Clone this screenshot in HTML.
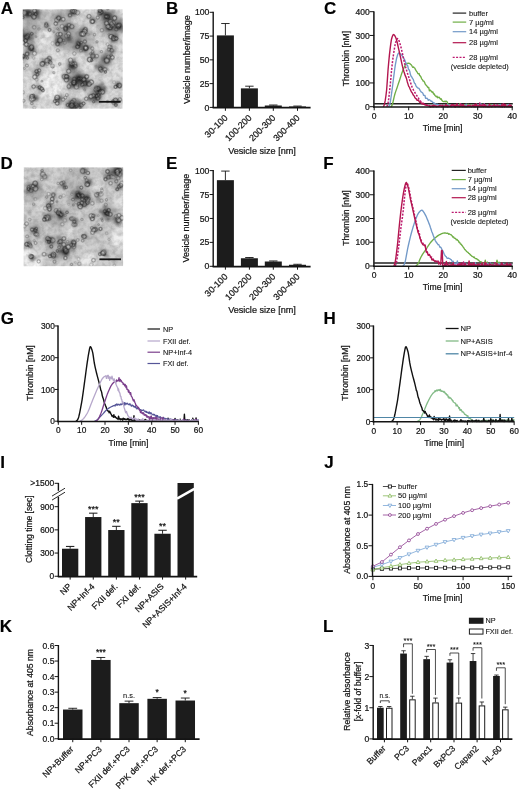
<!DOCTYPE html>
<html><head><meta charset="utf-8"><title>Figure</title>
<style>
html,body{margin:0;padding:0;background:#fff;}
body{width:520px;height:791px;overflow:hidden;font-family:"Liberation Sans",sans-serif;}
svg{display:block;font-family:"Liberation Sans",sans-serif;}
</style></head><body>
<svg width="520" height="791" viewBox="0 0 520 791">
<defs>
<filter id="b2" x="-20%" y="-20%" width="140%" height="140%"><feGaussianBlur stdDeviation="2.2"/></filter>
<filter id="b1" x="-20%" y="-20%" width="140%" height="140%"><feGaussianBlur stdDeviation="1.1"/></filter>
<filter id="b0" x="-20%" y="-20%" width="140%" height="140%"><feGaussianBlur stdDeviation="0.8"/></filter>
<filter id="mott" x="0" y="0" width="100%" height="100%"><feTurbulence type="fractalNoise" baseFrequency="0.22" numOctaves="3" seed="5" result="n"/><feColorMatrix in="n" type="matrix" values="0 0 0 0 0.1  0 0 0 0 0.1  0 0 0 0 0.1  1.6 0 0 0 -0.55"/></filter>
<filter id="bt" x="-5%" y="-5%" width="110%" height="110%"><feGaussianBlur stdDeviation="0.3"/></filter>
<clipPath id="clipA"><rect x="22.8" y="9.3" width="100" height="99.4"/></clipPath>
<clipPath id="clipD"><rect x="23.6" y="167.3" width="99.6" height="99"/></clipPath>
</defs>
<rect width="520" height="791" fill="#fff"/>
<g opacity="0.999">
<text x="0.83" y="13.60" font-size="17" text-anchor="start" font-weight="bold" fill="#000" stroke="#000" stroke-width="0.15">A</text>
<text x="166.08" y="13.60" font-size="17" text-anchor="start" font-weight="bold" fill="#000" stroke="#000" stroke-width="0.15">B</text>
<text x="324.00" y="13.70" font-size="17" text-anchor="start" font-weight="bold" fill="#000" stroke="#000" stroke-width="0.15">C</text>
<text x="0.41" y="168.80" font-size="17" text-anchor="start" font-weight="bold" fill="#000" stroke="#000" stroke-width="0.15">D</text>
<text x="166.05" y="168.80" font-size="17" text-anchor="start" font-weight="bold" fill="#000" stroke="#000" stroke-width="0.15">E</text>
<text x="323.36" y="169.00" font-size="17" text-anchor="start" font-weight="bold" fill="#000" stroke="#000" stroke-width="0.15">F</text>
<text x="0.80" y="324.00" font-size="17" text-anchor="start" font-weight="bold" fill="#000" stroke="#000" stroke-width="0.15">G</text>
<text x="323.55" y="323.80" font-size="17" text-anchor="start" font-weight="bold" fill="#000" stroke="#000" stroke-width="0.15">H</text>
<text x="0.23" y="468.00" font-size="17" text-anchor="start" font-weight="bold" fill="#000" stroke="#000" stroke-width="0.15">I</text>
<text x="324.25" y="468.10" font-size="17" text-anchor="start" font-weight="bold" fill="#000" stroke="#000" stroke-width="0.15">J</text>
<text x="-0.20" y="632.10" font-size="17" text-anchor="start" font-weight="bold" fill="#000" stroke="#000" stroke-width="0.15">K</text>
<text x="323.10" y="632.10" font-size="17" text-anchor="start" font-weight="bold" fill="#000" stroke="#000" stroke-width="0.15">L</text>
<g clip-path="url(#clipA)">
<rect x="22.80" y="9.30" width="100.00" height="99.40" fill="#dddddd"/>
<g filter="url(#b2)">
<circle cx="27.8" cy="13.3" r="7.0" fill="#333" fill-opacity="0.40"/>
<circle cx="36.8" cy="13.3" r="6.0" fill="#333" fill-opacity="0.30"/>
<circle cx="26.8" cy="37.1" r="6.4" fill="#333" fill-opacity="0.40"/>
<circle cx="30.8" cy="48.1" r="6.0" fill="#333" fill-opacity="0.33"/>
<circle cx="25.8" cy="56.0" r="4.4" fill="#333" fill-opacity="0.23"/>
<circle cx="58.8" cy="18.2" r="5.2" fill="#333" fill-opacity="0.25"/>
<circle cx="67.8" cy="27.2" r="5.2" fill="#333" fill-opacity="0.25"/>
<circle cx="58.8" cy="40.1" r="5.6" fill="#333" fill-opacity="0.28"/>
<circle cx="67.8" cy="39.1" r="4.8" fill="#333" fill-opacity="0.23"/>
<circle cx="78.8" cy="44.1" r="5.6" fill="#333" fill-opacity="0.30"/>
<circle cx="85.8" cy="48.1" r="4.8" fill="#333" fill-opacity="0.28"/>
<circle cx="72.8" cy="12.3" r="6.0" fill="#333" fill-opacity="0.25"/>
<circle cx="84.8" cy="31.2" r="4.4" fill="#333" fill-opacity="0.20"/>
<circle cx="92.8" cy="19.2" r="4.4" fill="#333" fill-opacity="0.17"/>
<circle cx="107.8" cy="16.3" r="7.0" fill="#333" fill-opacity="0.38"/>
<circle cx="118.8" cy="26.2" r="6.0" fill="#333" fill-opacity="0.40"/>
<circle cx="109.8" cy="27.2" r="5.6" fill="#333" fill-opacity="0.30"/>
<circle cx="114.8" cy="38.1" r="5.2" fill="#333" fill-opacity="0.28"/>
<circle cx="100.8" cy="12.3" r="4.8" fill="#333" fill-opacity="0.25"/>
<circle cx="106.8" cy="60.0" r="6.0" fill="#333" fill-opacity="0.38"/>
<circle cx="100.8" cy="67.9" r="5.2" fill="#333" fill-opacity="0.30"/>
<circle cx="92.8" cy="56.0" r="4.0" fill="#333" fill-opacity="0.23"/>
<circle cx="110.8" cy="51.0" r="4.4" fill="#333" fill-opacity="0.20"/>
<circle cx="71.8" cy="66.0" r="6.0" fill="#333" fill-opacity="0.40"/>
<circle cx="78.8" cy="78.9" r="7.2" fill="#333" fill-opacity="0.47"/>
<circle cx="73.8" cy="83.9" r="5.6" fill="#333" fill-opacity="0.35"/>
<circle cx="85.8" cy="82.9" r="5.6" fill="#333" fill-opacity="0.38"/>
<circle cx="66.8" cy="76.9" r="4.4" fill="#333" fill-opacity="0.25"/>
<circle cx="98.8" cy="89.8" r="6.4" fill="#333" fill-opacity="0.47"/>
<circle cx="96.8" cy="96.8" r="5.2" fill="#333" fill-opacity="0.35"/>
<circle cx="90.8" cy="98.8" r="4.0" fill="#333" fill-opacity="0.23"/>
<circle cx="36.8" cy="72.9" r="4.8" fill="#333" fill-opacity="0.25"/>
<circle cx="38.8" cy="87.8" r="4.4" fill="#333" fill-opacity="0.25"/>
<circle cx="34.8" cy="97.8" r="4.4" fill="#333" fill-opacity="0.25"/>
<circle cx="42.8" cy="64.0" r="4.0" fill="#333" fill-opacity="0.17"/>
<circle cx="58.8" cy="98.8" r="4.8" fill="#333" fill-opacity="0.25"/>
<circle cx="71.8" cy="104.7" r="6.4" fill="#333" fill-opacity="0.40"/>
<circle cx="78.8" cy="105.7" r="5.2" fill="#333" fill-opacity="0.30"/>
<circle cx="47.8" cy="60.0" r="4.0" fill="#333" fill-opacity="0.20"/>
<circle cx="117.8" cy="83.9" r="4.4" fill="#333" fill-opacity="0.20"/>
<circle cx="115.8" cy="101.7" r="4.4" fill="#333" fill-opacity="0.20"/>
<circle cx="47.8" cy="26.2" r="4.0" fill="#333" fill-opacity="0.15"/>
<circle cx="67.8" cy="37.1" r="15.0" fill="#444" fill-opacity="0.28"/>
<circle cx="84.8" cy="39.1" r="11.0" fill="#444" fill-opacity="0.22"/>
<circle cx="110.8" cy="24.2" r="13.0" fill="#444" fill-opacity="0.3"/>
<circle cx="30.8" cy="29.2" r="11.0" fill="#444" fill-opacity="0.28"/>
<circle cx="47.8" cy="19.2" r="9.0" fill="#444" fill-opacity="0.15"/>
<circle cx="77.8" cy="78.9" r="10.0" fill="#444" fill-opacity="0.22"/>
<circle cx="102.8" cy="59.0" r="8.0" fill="#444" fill-opacity="0.2"/>
<circle cx="62.8" cy="14.3" r="10.0" fill="#444" fill-opacity="0.18"/>
<circle cx="94.8" cy="93.8" r="7.0" fill="#444" fill-opacity="0.2"/>
<circle cx="72.8" cy="105.7" r="8.0" fill="#444" fill-opacity="0.2"/>
<circle cx="49.8" cy="84.8" r="13.0" fill="#fff" fill-opacity="0.65"/>
<circle cx="55.8" cy="68.9" r="7.0" fill="#fff" fill-opacity="0.4"/>
<circle cx="44.8" cy="37.1" r="7.0" fill="#fff" fill-opacity="0.4"/>
<circle cx="87.8" cy="68.9" r="5.0" fill="#fff" fill-opacity="0.4"/>
<circle cx="57.8" cy="54.0" r="5.0" fill="#fff" fill-opacity="0.3"/>
<circle cx="115.8" cy="70.9" r="5.0" fill="#fff" fill-opacity="0.3"/>
</g>
<g filter="url(#b1)">
<circle cx="27.8" cy="13.3" r="3.5" fill="#161616" fill-opacity="0.72"/>
<circle cx="26.6" cy="15.6" r="1.6" fill="#1c1c1c" fill-opacity="0.28"/>
<circle cx="24.0" cy="12.4" r="1.0" fill="#1c1c1c" fill-opacity="0.38"/>
<circle cx="32.0" cy="14.3" r="1.0" fill="#1c1c1c" fill-opacity="0.28"/>
<circle cx="21.9" cy="16.3" r="1.0" fill="#1c1c1c" fill-opacity="0.31"/>
<circle cx="22.7" cy="8.0" r="1.5" fill="#1c1c1c" fill-opacity="0.36"/>
<circle cx="29.8" cy="13.0" r="1.8" fill="#1c1c1c" fill-opacity="0.33"/>
<circle cx="29.3" cy="15.2" r="1.2" fill="#1c1c1c" fill-opacity="0.46"/>
<circle cx="36.8" cy="13.3" r="3.0" fill="#161616" fill-opacity="0.54"/>
<circle cx="38.7" cy="17.3" r="1.5" fill="#1c1c1c" fill-opacity="0.29"/>
<circle cx="35.1" cy="12.7" r="1.0" fill="#1c1c1c" fill-opacity="0.26"/>
<circle cx="35.2" cy="9.9" r="1.2" fill="#1c1c1c" fill-opacity="0.33"/>
<circle cx="33.9" cy="14.2" r="1.7" fill="#1c1c1c" fill-opacity="0.35"/>
<circle cx="37.0" cy="17.7" r="1.4" fill="#1c1c1c" fill-opacity="0.38"/>
<circle cx="36.4" cy="10.3" r="1.9" fill="#1c1c1c" fill-opacity="0.24"/>
<circle cx="26.8" cy="37.1" r="3.2" fill="#161616" fill-opacity="0.72"/>
<circle cx="21.8" cy="39.9" r="1.1" fill="#1c1c1c" fill-opacity="0.38"/>
<circle cx="31.9" cy="38.4" r="1.7" fill="#1c1c1c" fill-opacity="0.40"/>
<circle cx="29.1" cy="34.8" r="1.6" fill="#1c1c1c" fill-opacity="0.40"/>
<circle cx="23.2" cy="35.2" r="1.7" fill="#1c1c1c" fill-opacity="0.49"/>
<circle cx="21.7" cy="38.0" r="1.0" fill="#1c1c1c" fill-opacity="0.43"/>
<circle cx="22.6" cy="31.5" r="1.7" fill="#1c1c1c" fill-opacity="0.33"/>
<circle cx="22.9" cy="40.6" r="0.9" fill="#1c1c1c" fill-opacity="0.37"/>
<circle cx="30.8" cy="48.1" r="3.0" fill="#161616" fill-opacity="0.59"/>
<circle cx="31.8" cy="49.9" r="1.0" fill="#1c1c1c" fill-opacity="0.38"/>
<circle cx="32.7" cy="50.1" r="1.3" fill="#1c1c1c" fill-opacity="0.40"/>
<circle cx="34.1" cy="49.9" r="1.4" fill="#1c1c1c" fill-opacity="0.40"/>
<circle cx="33.3" cy="42.7" r="1.2" fill="#1c1c1c" fill-opacity="0.31"/>
<circle cx="27.0" cy="52.7" r="1.9" fill="#1c1c1c" fill-opacity="0.26"/>
<circle cx="32.0" cy="50.5" r="1.1" fill="#1c1c1c" fill-opacity="0.32"/>
<circle cx="25.8" cy="56.0" r="2.2" fill="#161616" fill-opacity="0.41"/>
<circle cx="24.0" cy="54.9" r="0.9" fill="#1c1c1c" fill-opacity="0.25"/>
<circle cx="23.6" cy="58.4" r="1.9" fill="#1c1c1c" fill-opacity="0.28"/>
<circle cx="22.4" cy="55.7" r="1.6" fill="#1c1c1c" fill-opacity="0.20"/>
<circle cx="29.0" cy="53.6" r="1.8" fill="#1c1c1c" fill-opacity="0.30"/>
<circle cx="23.8" cy="57.6" r="1.0" fill="#1c1c1c" fill-opacity="0.28"/>
<circle cx="58.8" cy="18.2" r="2.6" fill="#161616" fill-opacity="0.45"/>
<circle cx="60.3" cy="18.9" r="1.1" fill="#1c1c1c" fill-opacity="0.22"/>
<circle cx="58.0" cy="19.5" r="0.9" fill="#1c1c1c" fill-opacity="0.22"/>
<circle cx="61.1" cy="20.0" r="0.9" fill="#1c1c1c" fill-opacity="0.33"/>
<circle cx="57.3" cy="17.0" r="1.2" fill="#1c1c1c" fill-opacity="0.25"/>
<circle cx="57.6" cy="19.6" r="1.7" fill="#1c1c1c" fill-opacity="0.35"/>
<circle cx="67.8" cy="27.2" r="2.6" fill="#161616" fill-opacity="0.45"/>
<circle cx="64.4" cy="27.9" r="1.0" fill="#1c1c1c" fill-opacity="0.22"/>
<circle cx="66.4" cy="29.3" r="1.7" fill="#1c1c1c" fill-opacity="0.22"/>
<circle cx="73.2" cy="28.0" r="1.4" fill="#1c1c1c" fill-opacity="0.22"/>
<circle cx="66.4" cy="26.8" r="1.4" fill="#1c1c1c" fill-opacity="0.35"/>
<circle cx="70.7" cy="23.9" r="1.2" fill="#1c1c1c" fill-opacity="0.26"/>
<circle cx="58.8" cy="40.1" r="2.8" fill="#161616" fill-opacity="0.50"/>
<circle cx="61.3" cy="44.5" r="1.4" fill="#1c1c1c" fill-opacity="0.34"/>
<circle cx="57.6" cy="42.3" r="1.7" fill="#1c1c1c" fill-opacity="0.37"/>
<circle cx="61.9" cy="35.9" r="1.7" fill="#1c1c1c" fill-opacity="0.33"/>
<circle cx="59.4" cy="43.9" r="1.3" fill="#1c1c1c" fill-opacity="0.21"/>
<circle cx="61.5" cy="40.6" r="1.2" fill="#1c1c1c" fill-opacity="0.32"/>
<circle cx="67.8" cy="39.1" r="2.4" fill="#161616" fill-opacity="0.41"/>
<circle cx="70.7" cy="38.3" r="1.8" fill="#1c1c1c" fill-opacity="0.32"/>
<circle cx="70.4" cy="38.4" r="1.1" fill="#1c1c1c" fill-opacity="0.22"/>
<circle cx="68.5" cy="41.0" r="1.5" fill="#1c1c1c" fill-opacity="0.31"/>
<circle cx="69.5" cy="36.5" r="1.6" fill="#1c1c1c" fill-opacity="0.30"/>
<circle cx="71.2" cy="41.1" r="1.8" fill="#1c1c1c" fill-opacity="0.30"/>
<circle cx="78.8" cy="44.1" r="2.8" fill="#161616" fill-opacity="0.54"/>
<circle cx="78.8" cy="40.4" r="1.1" fill="#1c1c1c" fill-opacity="0.36"/>
<circle cx="76.2" cy="48.6" r="1.9" fill="#1c1c1c" fill-opacity="0.29"/>
<circle cx="74.0" cy="47.5" r="1.6" fill="#1c1c1c" fill-opacity="0.25"/>
<circle cx="80.3" cy="45.6" r="1.8" fill="#1c1c1c" fill-opacity="0.37"/>
<circle cx="82.0" cy="48.3" r="1.9" fill="#1c1c1c" fill-opacity="0.34"/>
<circle cx="76.4" cy="47.3" r="1.0" fill="#1c1c1c" fill-opacity="0.22"/>
<circle cx="85.8" cy="48.1" r="2.4" fill="#161616" fill-opacity="0.50"/>
<circle cx="89.6" cy="47.4" r="1.4" fill="#1c1c1c" fill-opacity="0.36"/>
<circle cx="81.4" cy="50.0" r="1.7" fill="#1c1c1c" fill-opacity="0.24"/>
<circle cx="85.8" cy="50.5" r="1.1" fill="#1c1c1c" fill-opacity="0.31"/>
<circle cx="85.6" cy="51.0" r="1.0" fill="#1c1c1c" fill-opacity="0.36"/>
<circle cx="83.9" cy="50.5" r="1.5" fill="#1c1c1c" fill-opacity="0.36"/>
<circle cx="72.8" cy="12.3" r="3.0" fill="#161616" fill-opacity="0.45"/>
<circle cx="67.4" cy="15.2" r="1.4" fill="#1c1c1c" fill-opacity="0.28"/>
<circle cx="71.2" cy="12.0" r="1.3" fill="#1c1c1c" fill-opacity="0.23"/>
<circle cx="78.4" cy="12.4" r="1.1" fill="#1c1c1c" fill-opacity="0.27"/>
<circle cx="72.1" cy="8.0" r="1.2" fill="#1c1c1c" fill-opacity="0.28"/>
<circle cx="67.6" cy="10.4" r="1.0" fill="#1c1c1c" fill-opacity="0.28"/>
<circle cx="84.8" cy="31.2" r="2.2" fill="#161616" fill-opacity="0.36"/>
<circle cx="84.8" cy="33.3" r="1.7" fill="#1c1c1c" fill-opacity="0.24"/>
<circle cx="81.2" cy="29.7" r="1.8" fill="#1c1c1c" fill-opacity="0.23"/>
<circle cx="82.5" cy="29.2" r="1.4" fill="#1c1c1c" fill-opacity="0.26"/>
<circle cx="81.8" cy="32.1" r="1.4" fill="#1c1c1c" fill-opacity="0.29"/>
<circle cx="83.4" cy="27.0" r="1.8" fill="#1c1c1c" fill-opacity="0.21"/>
<circle cx="92.8" cy="19.2" r="2.2" fill="#161616" fill-opacity="0.32"/>
<circle cx="88.5" cy="17.5" r="1.7" fill="#1c1c1c" fill-opacity="0.18"/>
<circle cx="94.8" cy="21.1" r="1.0" fill="#1c1c1c" fill-opacity="0.20"/>
<circle cx="96.0" cy="20.8" r="1.7" fill="#1c1c1c" fill-opacity="0.26"/>
<circle cx="94.9" cy="22.4" r="1.6" fill="#1c1c1c" fill-opacity="0.19"/>
<circle cx="107.8" cy="16.3" r="3.5" fill="#161616" fill-opacity="0.68"/>
<circle cx="113.4" cy="11.2" r="1.1" fill="#1c1c1c" fill-opacity="0.46"/>
<circle cx="104.1" cy="19.0" r="1.9" fill="#1c1c1c" fill-opacity="0.44"/>
<circle cx="110.1" cy="19.9" r="1.4" fill="#1c1c1c" fill-opacity="0.33"/>
<circle cx="109.0" cy="19.7" r="1.6" fill="#1c1c1c" fill-opacity="0.25"/>
<circle cx="103.7" cy="14.8" r="0.9" fill="#1c1c1c" fill-opacity="0.32"/>
<circle cx="104.4" cy="12.9" r="1.0" fill="#1c1c1c" fill-opacity="0.47"/>
<circle cx="118.8" cy="26.2" r="3.0" fill="#161616" fill-opacity="0.72"/>
<circle cx="120.3" cy="19.9" r="1.0" fill="#1c1c1c" fill-opacity="0.32"/>
<circle cx="124.1" cy="27.5" r="1.2" fill="#1c1c1c" fill-opacity="0.29"/>
<circle cx="113.4" cy="29.1" r="1.7" fill="#1c1c1c" fill-opacity="0.32"/>
<circle cx="122.5" cy="31.2" r="1.5" fill="#1c1c1c" fill-opacity="0.43"/>
<circle cx="120.3" cy="27.2" r="1.6" fill="#1c1c1c" fill-opacity="0.36"/>
<circle cx="124.4" cy="29.0" r="1.5" fill="#1c1c1c" fill-opacity="0.45"/>
<circle cx="123.9" cy="29.1" r="1.0" fill="#1c1c1c" fill-opacity="0.47"/>
<circle cx="109.8" cy="27.2" r="2.8" fill="#161616" fill-opacity="0.54"/>
<circle cx="106.9" cy="28.1" r="1.5" fill="#1c1c1c" fill-opacity="0.39"/>
<circle cx="109.6" cy="29.2" r="1.4" fill="#1c1c1c" fill-opacity="0.26"/>
<circle cx="111.5" cy="28.6" r="1.0" fill="#1c1c1c" fill-opacity="0.26"/>
<circle cx="108.7" cy="29.8" r="1.7" fill="#1c1c1c" fill-opacity="0.27"/>
<circle cx="107.6" cy="27.2" r="1.2" fill="#1c1c1c" fill-opacity="0.22"/>
<circle cx="109.8" cy="28.7" r="1.6" fill="#1c1c1c" fill-opacity="0.32"/>
<circle cx="114.8" cy="38.1" r="2.6" fill="#161616" fill-opacity="0.50"/>
<circle cx="116.1" cy="41.3" r="1.8" fill="#1c1c1c" fill-opacity="0.23"/>
<circle cx="116.1" cy="35.2" r="1.4" fill="#1c1c1c" fill-opacity="0.35"/>
<circle cx="112.0" cy="40.3" r="1.6" fill="#1c1c1c" fill-opacity="0.37"/>
<circle cx="112.1" cy="42.3" r="1.6" fill="#1c1c1c" fill-opacity="0.31"/>
<circle cx="112.5" cy="39.7" r="1.0" fill="#1c1c1c" fill-opacity="0.23"/>
<circle cx="100.8" cy="12.3" r="2.4" fill="#161616" fill-opacity="0.45"/>
<circle cx="104.6" cy="14.1" r="1.2" fill="#1c1c1c" fill-opacity="0.22"/>
<circle cx="104.8" cy="14.6" r="1.8" fill="#1c1c1c" fill-opacity="0.30"/>
<circle cx="100.4" cy="14.4" r="1.2" fill="#1c1c1c" fill-opacity="0.27"/>
<circle cx="102.5" cy="14.8" r="1.2" fill="#1c1c1c" fill-opacity="0.34"/>
<circle cx="104.2" cy="11.7" r="1.1" fill="#1c1c1c" fill-opacity="0.34"/>
<circle cx="106.8" cy="60.0" r="3.0" fill="#161616" fill-opacity="0.68"/>
<circle cx="105.6" cy="63.1" r="0.9" fill="#1c1c1c" fill-opacity="0.34"/>
<circle cx="102.8" cy="60.6" r="1.1" fill="#1c1c1c" fill-opacity="0.36"/>
<circle cx="109.6" cy="60.1" r="1.0" fill="#1c1c1c" fill-opacity="0.34"/>
<circle cx="108.4" cy="60.4" r="1.2" fill="#1c1c1c" fill-opacity="0.30"/>
<circle cx="103.2" cy="57.8" r="1.7" fill="#1c1c1c" fill-opacity="0.40"/>
<circle cx="105.5" cy="54.1" r="1.3" fill="#1c1c1c" fill-opacity="0.32"/>
<circle cx="100.8" cy="67.9" r="2.6" fill="#161616" fill-opacity="0.54"/>
<circle cx="102.8" cy="67.8" r="1.6" fill="#1c1c1c" fill-opacity="0.34"/>
<circle cx="105.6" cy="69.3" r="1.8" fill="#1c1c1c" fill-opacity="0.33"/>
<circle cx="100.3" cy="63.1" r="1.0" fill="#1c1c1c" fill-opacity="0.31"/>
<circle cx="95.8" cy="67.8" r="1.7" fill="#1c1c1c" fill-opacity="0.37"/>
<circle cx="96.3" cy="65.3" r="1.6" fill="#1c1c1c" fill-opacity="0.34"/>
<circle cx="101.0" cy="69.4" r="1.0" fill="#1c1c1c" fill-opacity="0.28"/>
<circle cx="92.8" cy="56.0" r="2.0" fill="#161616" fill-opacity="0.41"/>
<circle cx="95.8" cy="58.4" r="1.5" fill="#1c1c1c" fill-opacity="0.27"/>
<circle cx="90.5" cy="53.7" r="1.4" fill="#1c1c1c" fill-opacity="0.19"/>
<circle cx="93.8" cy="52.6" r="1.4" fill="#1c1c1c" fill-opacity="0.26"/>
<circle cx="92.1" cy="55.0" r="1.6" fill="#1c1c1c" fill-opacity="0.22"/>
<circle cx="94.5" cy="56.9" r="1.6" fill="#1c1c1c" fill-opacity="0.22"/>
<circle cx="110.8" cy="51.0" r="2.2" fill="#161616" fill-opacity="0.36"/>
<circle cx="110.5" cy="46.3" r="1.4" fill="#1c1c1c" fill-opacity="0.23"/>
<circle cx="107.2" cy="51.5" r="1.7" fill="#1c1c1c" fill-opacity="0.25"/>
<circle cx="109.9" cy="50.0" r="1.0" fill="#1c1c1c" fill-opacity="0.21"/>
<circle cx="110.7" cy="48.8" r="1.5" fill="#1c1c1c" fill-opacity="0.18"/>
<circle cx="112.8" cy="51.8" r="1.6" fill="#1c1c1c" fill-opacity="0.26"/>
<circle cx="71.8" cy="66.0" r="3.0" fill="#161616" fill-opacity="0.72"/>
<circle cx="70.5" cy="63.3" r="1.4" fill="#1c1c1c" fill-opacity="0.37"/>
<circle cx="69.7" cy="66.4" r="1.8" fill="#1c1c1c" fill-opacity="0.31"/>
<circle cx="78.0" cy="65.1" r="0.9" fill="#1c1c1c" fill-opacity="0.37"/>
<circle cx="74.5" cy="60.1" r="1.3" fill="#1c1c1c" fill-opacity="0.32"/>
<circle cx="73.4" cy="72.1" r="1.1" fill="#1c1c1c" fill-opacity="0.40"/>
<circle cx="74.4" cy="69.2" r="1.9" fill="#1c1c1c" fill-opacity="0.29"/>
<circle cx="73.5" cy="62.3" r="1.8" fill="#1c1c1c" fill-opacity="0.43"/>
<circle cx="78.8" cy="78.9" r="3.6" fill="#161616" fill-opacity="0.85"/>
<circle cx="79.7" cy="86.1" r="1.4" fill="#1c1c1c" fill-opacity="0.30"/>
<circle cx="83.6" cy="79.0" r="1.4" fill="#1c1c1c" fill-opacity="0.38"/>
<circle cx="81.3" cy="81.9" r="1.2" fill="#1c1c1c" fill-opacity="0.53"/>
<circle cx="85.2" cy="78.9" r="1.7" fill="#1c1c1c" fill-opacity="0.32"/>
<circle cx="84.3" cy="76.1" r="1.8" fill="#1c1c1c" fill-opacity="0.37"/>
<circle cx="75.9" cy="81.9" r="1.9" fill="#1c1c1c" fill-opacity="0.46"/>
<circle cx="76.0" cy="82.3" r="1.2" fill="#1c1c1c" fill-opacity="0.30"/>
<circle cx="73.8" cy="83.9" r="2.8" fill="#161616" fill-opacity="0.63"/>
<circle cx="78.1" cy="87.1" r="1.2" fill="#1c1c1c" fill-opacity="0.44"/>
<circle cx="73.8" cy="86.5" r="1.4" fill="#1c1c1c" fill-opacity="0.28"/>
<circle cx="69.6" cy="88.1" r="1.8" fill="#1c1c1c" fill-opacity="0.41"/>
<circle cx="69.9" cy="79.6" r="1.8" fill="#1c1c1c" fill-opacity="0.36"/>
<circle cx="73.5" cy="82.2" r="1.6" fill="#1c1c1c" fill-opacity="0.33"/>
<circle cx="73.9" cy="79.4" r="1.2" fill="#1c1c1c" fill-opacity="0.25"/>
<circle cx="85.8" cy="82.9" r="2.8" fill="#161616" fill-opacity="0.68"/>
<circle cx="87.6" cy="82.0" r="1.4" fill="#1c1c1c" fill-opacity="0.33"/>
<circle cx="84.3" cy="87.6" r="1.9" fill="#1c1c1c" fill-opacity="0.31"/>
<circle cx="84.2" cy="80.5" r="1.5" fill="#1c1c1c" fill-opacity="0.34"/>
<circle cx="86.9" cy="84.7" r="1.1" fill="#1c1c1c" fill-opacity="0.45"/>
<circle cx="83.4" cy="82.9" r="1.8" fill="#1c1c1c" fill-opacity="0.47"/>
<circle cx="83.8" cy="83.5" r="1.1" fill="#1c1c1c" fill-opacity="0.27"/>
<circle cx="66.8" cy="76.9" r="2.2" fill="#161616" fill-opacity="0.45"/>
<circle cx="66.0" cy="78.1" r="1.1" fill="#1c1c1c" fill-opacity="0.24"/>
<circle cx="62.8" cy="75.0" r="1.6" fill="#1c1c1c" fill-opacity="0.26"/>
<circle cx="64.2" cy="78.5" r="1.3" fill="#1c1c1c" fill-opacity="0.25"/>
<circle cx="68.8" cy="77.7" r="1.9" fill="#1c1c1c" fill-opacity="0.22"/>
<circle cx="63.3" cy="76.8" r="1.8" fill="#1c1c1c" fill-opacity="0.23"/>
<circle cx="98.8" cy="89.8" r="3.2" fill="#161616" fill-opacity="0.85"/>
<circle cx="98.4" cy="92.7" r="1.3" fill="#1c1c1c" fill-opacity="0.42"/>
<circle cx="104.8" cy="88.0" r="1.8" fill="#1c1c1c" fill-opacity="0.30"/>
<circle cx="104.1" cy="90.9" r="1.8" fill="#1c1c1c" fill-opacity="0.42"/>
<circle cx="97.4" cy="89.0" r="1.3" fill="#1c1c1c" fill-opacity="0.55"/>
<circle cx="101.7" cy="84.3" r="1.9" fill="#1c1c1c" fill-opacity="0.36"/>
<circle cx="100.7" cy="91.4" r="1.4" fill="#1c1c1c" fill-opacity="0.48"/>
<circle cx="104.0" cy="87.8" r="1.5" fill="#1c1c1c" fill-opacity="0.51"/>
<circle cx="96.8" cy="96.8" r="2.6" fill="#161616" fill-opacity="0.63"/>
<circle cx="93.2" cy="97.8" r="0.9" fill="#1c1c1c" fill-opacity="0.40"/>
<circle cx="97.4" cy="102.1" r="1.5" fill="#1c1c1c" fill-opacity="0.30"/>
<circle cx="98.5" cy="98.5" r="1.5" fill="#1c1c1c" fill-opacity="0.39"/>
<circle cx="98.0" cy="97.8" r="1.4" fill="#1c1c1c" fill-opacity="0.36"/>
<circle cx="95.1" cy="98.3" r="1.5" fill="#1c1c1c" fill-opacity="0.24"/>
<circle cx="95.7" cy="99.9" r="1.9" fill="#1c1c1c" fill-opacity="0.38"/>
<circle cx="90.8" cy="98.8" r="2.0" fill="#161616" fill-opacity="0.41"/>
<circle cx="92.7" cy="97.0" r="1.1" fill="#1c1c1c" fill-opacity="0.22"/>
<circle cx="94.1" cy="97.9" r="1.2" fill="#1c1c1c" fill-opacity="0.19"/>
<circle cx="87.5" cy="98.8" r="1.3" fill="#1c1c1c" fill-opacity="0.22"/>
<circle cx="88.7" cy="95.2" r="1.1" fill="#1c1c1c" fill-opacity="0.19"/>
<circle cx="89.5" cy="100.8" r="1.6" fill="#1c1c1c" fill-opacity="0.22"/>
<circle cx="36.8" cy="72.9" r="2.4" fill="#161616" fill-opacity="0.45"/>
<circle cx="38.0" cy="68.9" r="1.4" fill="#1c1c1c" fill-opacity="0.23"/>
<circle cx="39.2" cy="72.5" r="1.7" fill="#1c1c1c" fill-opacity="0.23"/>
<circle cx="37.6" cy="77.1" r="1.2" fill="#1c1c1c" fill-opacity="0.34"/>
<circle cx="34.8" cy="73.0" r="1.1" fill="#1c1c1c" fill-opacity="0.26"/>
<circle cx="34.2" cy="68.5" r="1.0" fill="#1c1c1c" fill-opacity="0.26"/>
<circle cx="38.8" cy="87.8" r="2.2" fill="#161616" fill-opacity="0.45"/>
<circle cx="39.9" cy="92.4" r="1.0" fill="#1c1c1c" fill-opacity="0.21"/>
<circle cx="41.2" cy="88.8" r="1.8" fill="#1c1c1c" fill-opacity="0.33"/>
<circle cx="38.3" cy="83.0" r="1.8" fill="#1c1c1c" fill-opacity="0.25"/>
<circle cx="40.6" cy="92.1" r="1.6" fill="#1c1c1c" fill-opacity="0.20"/>
<circle cx="37.5" cy="85.7" r="1.3" fill="#1c1c1c" fill-opacity="0.25"/>
<circle cx="34.8" cy="97.8" r="2.2" fill="#161616" fill-opacity="0.45"/>
<circle cx="35.3" cy="98.7" r="1.2" fill="#1c1c1c" fill-opacity="0.25"/>
<circle cx="36.3" cy="97.3" r="1.9" fill="#1c1c1c" fill-opacity="0.23"/>
<circle cx="32.2" cy="101.0" r="1.7" fill="#1c1c1c" fill-opacity="0.26"/>
<circle cx="37.5" cy="98.6" r="1.3" fill="#1c1c1c" fill-opacity="0.34"/>
<circle cx="35.7" cy="100.1" r="1.8" fill="#1c1c1c" fill-opacity="0.20"/>
<circle cx="42.8" cy="64.0" r="2.0" fill="#161616" fill-opacity="0.32"/>
<circle cx="39.6" cy="66.0" r="1.7" fill="#1c1c1c" fill-opacity="0.17"/>
<circle cx="44.0" cy="64.2" r="1.8" fill="#1c1c1c" fill-opacity="0.20"/>
<circle cx="42.7" cy="59.9" r="1.2" fill="#1c1c1c" fill-opacity="0.20"/>
<circle cx="45.8" cy="63.2" r="1.2" fill="#1c1c1c" fill-opacity="0.25"/>
<circle cx="58.8" cy="98.8" r="2.4" fill="#161616" fill-opacity="0.45"/>
<circle cx="57.9" cy="100.9" r="0.9" fill="#1c1c1c" fill-opacity="0.31"/>
<circle cx="62.1" cy="96.9" r="1.8" fill="#1c1c1c" fill-opacity="0.20"/>
<circle cx="59.1" cy="101.9" r="1.9" fill="#1c1c1c" fill-opacity="0.34"/>
<circle cx="57.1" cy="100.2" r="1.3" fill="#1c1c1c" fill-opacity="0.27"/>
<circle cx="60.6" cy="97.9" r="1.7" fill="#1c1c1c" fill-opacity="0.31"/>
<circle cx="71.8" cy="104.7" r="3.2" fill="#161616" fill-opacity="0.72"/>
<circle cx="74.4" cy="99.5" r="1.5" fill="#1c1c1c" fill-opacity="0.34"/>
<circle cx="70.3" cy="108.0" r="1.7" fill="#1c1c1c" fill-opacity="0.28"/>
<circle cx="73.7" cy="110.1" r="1.1" fill="#1c1c1c" fill-opacity="0.28"/>
<circle cx="76.3" cy="105.7" r="1.2" fill="#1c1c1c" fill-opacity="0.50"/>
<circle cx="77.0" cy="100.1" r="1.2" fill="#1c1c1c" fill-opacity="0.28"/>
<circle cx="75.3" cy="107.2" r="1.6" fill="#1c1c1c" fill-opacity="0.37"/>
<circle cx="72.2" cy="108.6" r="1.5" fill="#1c1c1c" fill-opacity="0.42"/>
<circle cx="78.8" cy="105.7" r="2.6" fill="#161616" fill-opacity="0.54"/>
<circle cx="78.7" cy="100.7" r="1.6" fill="#1c1c1c" fill-opacity="0.24"/>
<circle cx="80.2" cy="103.5" r="1.5" fill="#1c1c1c" fill-opacity="0.29"/>
<circle cx="78.6" cy="103.5" r="1.1" fill="#1c1c1c" fill-opacity="0.26"/>
<circle cx="81.8" cy="110.0" r="1.5" fill="#1c1c1c" fill-opacity="0.28"/>
<circle cx="74.3" cy="109.2" r="1.4" fill="#1c1c1c" fill-opacity="0.26"/>
<circle cx="80.3" cy="101.8" r="1.9" fill="#1c1c1c" fill-opacity="0.24"/>
<circle cx="47.8" cy="60.0" r="2.0" fill="#161616" fill-opacity="0.36"/>
<circle cx="44.1" cy="60.6" r="1.7" fill="#1c1c1c" fill-opacity="0.29"/>
<circle cx="49.7" cy="60.5" r="1.0" fill="#1c1c1c" fill-opacity="0.20"/>
<circle cx="50.7" cy="59.5" r="1.8" fill="#1c1c1c" fill-opacity="0.22"/>
<circle cx="49.5" cy="58.1" r="1.2" fill="#1c1c1c" fill-opacity="0.27"/>
<circle cx="49.1" cy="59.5" r="1.5" fill="#1c1c1c" fill-opacity="0.25"/>
<circle cx="117.8" cy="83.9" r="2.2" fill="#161616" fill-opacity="0.36"/>
<circle cx="118.3" cy="86.3" r="1.0" fill="#1c1c1c" fill-opacity="0.20"/>
<circle cx="117.7" cy="87.2" r="1.6" fill="#1c1c1c" fill-opacity="0.20"/>
<circle cx="120.1" cy="84.0" r="1.6" fill="#1c1c1c" fill-opacity="0.20"/>
<circle cx="117.1" cy="85.6" r="1.7" fill="#1c1c1c" fill-opacity="0.25"/>
<circle cx="119.2" cy="84.4" r="1.3" fill="#1c1c1c" fill-opacity="0.25"/>
<circle cx="115.8" cy="101.7" r="2.2" fill="#161616" fill-opacity="0.36"/>
<circle cx="114.9" cy="100.6" r="1.1" fill="#1c1c1c" fill-opacity="0.26"/>
<circle cx="114.0" cy="102.9" r="1.2" fill="#1c1c1c" fill-opacity="0.29"/>
<circle cx="114.6" cy="104.7" r="1.3" fill="#1c1c1c" fill-opacity="0.23"/>
<circle cx="119.0" cy="98.1" r="1.3" fill="#1c1c1c" fill-opacity="0.20"/>
<circle cx="115.5" cy="99.9" r="0.9" fill="#1c1c1c" fill-opacity="0.29"/>
<circle cx="47.8" cy="26.2" r="2.0" fill="#161616" fill-opacity="0.27"/>
<circle cx="44.4" cy="27.9" r="1.3" fill="#1c1c1c" fill-opacity="0.24"/>
<circle cx="46.3" cy="26.6" r="0.9" fill="#1c1c1c" fill-opacity="0.21"/>
<circle cx="45.2" cy="23.0" r="1.0" fill="#1c1c1c" fill-opacity="0.22"/>
<circle cx="45.9" cy="28.2" r="1.0" fill="#1c1c1c" fill-opacity="0.19"/>
<circle cx="74.9" cy="101.3" r="0.9" fill="#2a2a2a" fill-opacity="0.16"/>
<circle cx="103.3" cy="105.4" r="1.0" fill="#2a2a2a" fill-opacity="0.10"/>
<circle cx="117.1" cy="106.3" r="1.3" fill="#2a2a2a" fill-opacity="0.09"/>
<circle cx="115.4" cy="47.9" r="1.7" fill="#2a2a2a" fill-opacity="0.19"/>
<circle cx="105.3" cy="25.2" r="1.6" fill="#2a2a2a" fill-opacity="0.12"/>
<circle cx="63.2" cy="93.4" r="1.6" fill="#2a2a2a" fill-opacity="0.11"/>
<circle cx="44.6" cy="49.0" r="1.3" fill="#2a2a2a" fill-opacity="0.15"/>
<circle cx="35.1" cy="33.9" r="1.5" fill="#2a2a2a" fill-opacity="0.23"/>
<circle cx="26.9" cy="65.2" r="1.6" fill="#2a2a2a" fill-opacity="0.09"/>
<circle cx="106.6" cy="21.0" r="1.4" fill="#2a2a2a" fill-opacity="0.17"/>
<circle cx="85.5" cy="39.7" r="1.2" fill="#2a2a2a" fill-opacity="0.18"/>
<circle cx="65.4" cy="74.8" r="1.2" fill="#2a2a2a" fill-opacity="0.15"/>
<circle cx="25.1" cy="70.8" r="1.3" fill="#2a2a2a" fill-opacity="0.12"/>
<circle cx="99.2" cy="86.8" r="1.3" fill="#2a2a2a" fill-opacity="0.11"/>
<circle cx="70.1" cy="19.9" r="0.9" fill="#2a2a2a" fill-opacity="0.15"/>
<circle cx="32.0" cy="53.2" r="1.3" fill="#2a2a2a" fill-opacity="0.09"/>
<circle cx="86.4" cy="17.5" r="1.5" fill="#2a2a2a" fill-opacity="0.21"/>
<circle cx="73.9" cy="14.7" r="1.3" fill="#2a2a2a" fill-opacity="0.14"/>
<circle cx="117.9" cy="22.8" r="1.7" fill="#2a2a2a" fill-opacity="0.25"/>
<circle cx="96.0" cy="90.3" r="1.0" fill="#2a2a2a" fill-opacity="0.25"/>
<circle cx="72.0" cy="104.4" r="1.7" fill="#2a2a2a" fill-opacity="0.11"/>
<circle cx="101.6" cy="101.8" r="0.9" fill="#2a2a2a" fill-opacity="0.14"/>
<circle cx="98.4" cy="25.1" r="1.7" fill="#2a2a2a" fill-opacity="0.13"/>
<circle cx="104.4" cy="23.6" r="1.3" fill="#2a2a2a" fill-opacity="0.24"/>
<circle cx="43.6" cy="35.4" r="1.3" fill="#2a2a2a" fill-opacity="0.13"/>
<circle cx="26.5" cy="27.4" r="1.0" fill="#2a2a2a" fill-opacity="0.24"/>
<circle cx="90.8" cy="98.3" r="1.0" fill="#2a2a2a" fill-opacity="0.21"/>
<circle cx="34.3" cy="62.1" r="1.4" fill="#2a2a2a" fill-opacity="0.14"/>
<circle cx="110.1" cy="64.5" r="1.4" fill="#2a2a2a" fill-opacity="0.23"/>
<circle cx="33.3" cy="108.0" r="1.4" fill="#2a2a2a" fill-opacity="0.15"/>
<circle cx="102.6" cy="35.6" r="1.8" fill="#2a2a2a" fill-opacity="0.18"/>
<circle cx="58.8" cy="85.3" r="1.2" fill="#2a2a2a" fill-opacity="0.11"/>
<circle cx="97.2" cy="14.1" r="1.6" fill="#2a2a2a" fill-opacity="0.12"/>
<circle cx="86.7" cy="107.1" r="1.4" fill="#2a2a2a" fill-opacity="0.19"/>
<circle cx="54.1" cy="9.5" r="0.8" fill="#2a2a2a" fill-opacity="0.11"/>
<circle cx="84.4" cy="52.3" r="1.3" fill="#2a2a2a" fill-opacity="0.23"/>
<circle cx="36.0" cy="31.9" r="1.5" fill="#2a2a2a" fill-opacity="0.08"/>
<circle cx="23.1" cy="44.6" r="0.9" fill="#2a2a2a" fill-opacity="0.14"/>
<circle cx="45.2" cy="67.3" r="1.4" fill="#2a2a2a" fill-opacity="0.11"/>
<circle cx="85.2" cy="56.5" r="0.9" fill="#2a2a2a" fill-opacity="0.24"/>
<circle cx="47.2" cy="24.1" r="0.9" fill="#2a2a2a" fill-opacity="0.19"/>
<circle cx="109.9" cy="87.0" r="1.2" fill="#2a2a2a" fill-opacity="0.12"/>
<circle cx="23.9" cy="73.4" r="1.4" fill="#2a2a2a" fill-opacity="0.14"/>
<circle cx="87.4" cy="53.4" r="1.7" fill="#2a2a2a" fill-opacity="0.20"/>
<circle cx="47.6" cy="99.1" r="0.8" fill="#2a2a2a" fill-opacity="0.17"/>
<circle cx="63.4" cy="32.9" r="0.9" fill="#2a2a2a" fill-opacity="0.21"/>
<circle cx="24.0" cy="64.1" r="1.7" fill="#2a2a2a" fill-opacity="0.10"/>
<circle cx="42.8" cy="69.7" r="1.3" fill="#2a2a2a" fill-opacity="0.19"/>
<circle cx="104.1" cy="26.7" r="1.1" fill="#2a2a2a" fill-opacity="0.13"/>
<circle cx="27.6" cy="97.7" r="1.6" fill="#2a2a2a" fill-opacity="0.20"/>
<circle cx="23.4" cy="93.2" r="1.5" fill="#2a2a2a" fill-opacity="0.16"/>
<circle cx="97.0" cy="54.3" r="1.0" fill="#2a2a2a" fill-opacity="0.10"/>
<circle cx="46.0" cy="13.2" r="1.1" fill="#2a2a2a" fill-opacity="0.21"/>
<circle cx="92.3" cy="93.3" r="1.5" fill="#2a2a2a" fill-opacity="0.13"/>
<circle cx="78.2" cy="52.6" r="1.6" fill="#2a2a2a" fill-opacity="0.17"/>
<circle cx="49.3" cy="73.1" r="1.8" fill="#2a2a2a" fill-opacity="0.12"/>
<circle cx="110.8" cy="10.8" r="1.1" fill="#2a2a2a" fill-opacity="0.12"/>
<circle cx="97.2" cy="103.2" r="1.5" fill="#2a2a2a" fill-opacity="0.14"/>
<circle cx="110.8" cy="42.0" r="1.0" fill="#2a2a2a" fill-opacity="0.23"/>
<circle cx="85.9" cy="78.2" r="1.5" fill="#2a2a2a" fill-opacity="0.25"/>
<circle cx="69.7" cy="92.8" r="1.5" fill="#2a2a2a" fill-opacity="0.23"/>
<circle cx="66.5" cy="81.3" r="1.4" fill="#2a2a2a" fill-opacity="0.13"/>
<circle cx="44.0" cy="71.2" r="0.9" fill="#2a2a2a" fill-opacity="0.23"/>
<circle cx="37.3" cy="12.0" r="0.9" fill="#2a2a2a" fill-opacity="0.24"/>
<circle cx="57.3" cy="23.4" r="0.8" fill="#2a2a2a" fill-opacity="0.09"/>
<circle cx="92.1" cy="72.3" r="1.5" fill="#2a2a2a" fill-opacity="0.21"/>
<circle cx="29.4" cy="68.0" r="1.2" fill="#2a2a2a" fill-opacity="0.22"/>
<circle cx="104.8" cy="97.9" r="0.9" fill="#2a2a2a" fill-opacity="0.23"/>
<circle cx="114.2" cy="103.2" r="0.9" fill="#2a2a2a" fill-opacity="0.11"/>
<circle cx="34.0" cy="12.7" r="1.6" fill="#2a2a2a" fill-opacity="0.22"/>
<circle cx="86.2" cy="91.3" r="1.4" fill="#2a2a2a" fill-opacity="0.13"/>
<circle cx="32.8" cy="19.0" r="1.6" fill="#2a2a2a" fill-opacity="0.11"/>
<circle cx="54.7" cy="51.4" r="0.8" fill="#2a2a2a" fill-opacity="0.12"/>
<circle cx="51.1" cy="80.4" r="1.2" fill="#2a2a2a" fill-opacity="0.13"/>
<circle cx="119.2" cy="59.4" r="1.7" fill="#2a2a2a" fill-opacity="0.19"/>
<circle cx="25.9" cy="50.3" r="1.2" fill="#2a2a2a" fill-opacity="0.21"/>
<circle cx="57.5" cy="79.3" r="1.3" fill="#2a2a2a" fill-opacity="0.12"/>
<circle cx="109.0" cy="18.3" r="1.6" fill="#2a2a2a" fill-opacity="0.11"/>
<circle cx="22.9" cy="29.4" r="1.6" fill="#2a2a2a" fill-opacity="0.25"/>
<circle cx="23.2" cy="58.1" r="1.3" fill="#2a2a2a" fill-opacity="0.22"/>
<circle cx="41.3" cy="58.5" r="1.1" fill="#2a2a2a" fill-opacity="0.22"/>
<circle cx="48.9" cy="103.1" r="1.1" fill="#2a2a2a" fill-opacity="0.12"/>
<circle cx="92.7" cy="58.8" r="0.9" fill="#2a2a2a" fill-opacity="0.19"/>
<circle cx="30.9" cy="87.6" r="1.5" fill="#2a2a2a" fill-opacity="0.21"/>
<circle cx="85.6" cy="44.6" r="1.2" fill="#2a2a2a" fill-opacity="0.15"/>
<circle cx="111.8" cy="17.9" r="1.7" fill="#2a2a2a" fill-opacity="0.08"/>
<circle cx="43.4" cy="35.5" r="1.7" fill="#2a2a2a" fill-opacity="0.17"/>
<circle cx="60.7" cy="97.2" r="1.0" fill="#2a2a2a" fill-opacity="0.16"/>
<circle cx="76.0" cy="84.3" r="1.6" fill="#2a2a2a" fill-opacity="0.19"/>
<circle cx="57.6" cy="41.8" r="1.0" fill="#2a2a2a" fill-opacity="0.22"/>
<circle cx="89.0" cy="83.1" r="1.0" fill="#2a2a2a" fill-opacity="0.15"/>
<circle cx="100.1" cy="66.9" r="0.9" fill="#2a2a2a" fill-opacity="0.16"/>
<circle cx="111.3" cy="33.0" r="1.0" fill="#2a2a2a" fill-opacity="0.13"/>
<circle cx="93.1" cy="93.2" r="1.0" fill="#2a2a2a" fill-opacity="0.11"/>
<circle cx="47.6" cy="41.8" r="1.3" fill="#2a2a2a" fill-opacity="0.11"/>
<circle cx="55.6" cy="28.1" r="1.8" fill="#2a2a2a" fill-opacity="0.20"/>
<circle cx="33.0" cy="105.0" r="0.9" fill="#2a2a2a" fill-opacity="0.15"/>
<circle cx="121.2" cy="88.3" r="1.5" fill="#2a2a2a" fill-opacity="0.15"/>
<circle cx="42.4" cy="72.7" r="0.9" fill="#2a2a2a" fill-opacity="0.12"/>
<circle cx="61.6" cy="12.7" r="1.2" fill="#2a2a2a" fill-opacity="0.21"/>
<circle cx="92.1" cy="59.0" r="1.4" fill="#2a2a2a" fill-opacity="0.16"/>
<circle cx="37.0" cy="69.3" r="1.2" fill="#2a2a2a" fill-opacity="0.21"/>
<circle cx="113.6" cy="52.0" r="1.4" fill="#2a2a2a" fill-opacity="0.21"/>
<circle cx="64.9" cy="32.0" r="1.5" fill="#2a2a2a" fill-opacity="0.23"/>
<circle cx="100.2" cy="78.9" r="1.7" fill="#2a2a2a" fill-opacity="0.20"/>
<circle cx="87.0" cy="54.4" r="1.1" fill="#2a2a2a" fill-opacity="0.19"/>
<circle cx="32.6" cy="51.0" r="1.6" fill="#2a2a2a" fill-opacity="0.20"/>
<circle cx="85.8" cy="34.2" r="1.2" fill="#2a2a2a" fill-opacity="0.16"/>
<circle cx="85.0" cy="50.0" r="1.5" fill="#2a2a2a" fill-opacity="0.24"/>
<circle cx="41.1" cy="74.4" r="1.6" fill="#2a2a2a" fill-opacity="0.15"/>
</g>
<g>
<circle cx="19.6" cy="13.8" r="1.0" fill="#f0f0f0" fill-opacity="0.21" stroke="#1a1a1a" stroke-opacity="0.17" stroke-width="1.9"/>
<circle cx="19.6" cy="13.8" r="1.0" fill="none" stroke="#1a1a1a" stroke-opacity="0.37" stroke-width="0.8"/>
<circle cx="29.4" cy="5.5" r="1.7" fill="#f0f0f0" fill-opacity="0.35" stroke="#1a1a1a" stroke-opacity="0.11" stroke-width="1.9"/>
<circle cx="29.4" cy="5.5" r="1.7" fill="none" stroke="#1a1a1a" stroke-opacity="0.25" stroke-width="0.8"/>
<circle cx="22.0" cy="11.7" r="1.7" fill="#f0f0f0" fill-opacity="0.44" stroke="#1a1a1a" stroke-opacity="0.18" stroke-width="1.9"/>
<circle cx="22.0" cy="11.7" r="1.7" fill="none" stroke="#1a1a1a" stroke-opacity="0.40" stroke-width="0.8"/>
<circle cx="24.4" cy="12.8" r="2.2" fill="#f0f0f0" fill-opacity="0.39" stroke="#1a1a1a" stroke-opacity="0.13" stroke-width="1.9"/>
<circle cx="24.4" cy="12.8" r="2.2" fill="none" stroke="#1a1a1a" stroke-opacity="0.28" stroke-width="0.8"/>
<circle cx="22.8" cy="17.3" r="1.2" fill="#f0f0f0" fill-opacity="0.27" stroke="#1a1a1a" stroke-opacity="0.22" stroke-width="1.9"/>
<circle cx="22.8" cy="17.3" r="1.2" fill="none" stroke="#1a1a1a" stroke-opacity="0.50" stroke-width="0.8"/>
<circle cx="30.0" cy="14.1" r="1.5" fill="#f0f0f0" fill-opacity="0.30" stroke="#1a1a1a" stroke-opacity="0.10" stroke-width="1.9"/>
<circle cx="30.0" cy="14.1" r="1.5" fill="none" stroke="#1a1a1a" stroke-opacity="0.22" stroke-width="0.8"/>
<circle cx="32.4" cy="15.7" r="1.5" fill="#f0f0f0" fill-opacity="0.23" stroke="#1a1a1a" stroke-opacity="0.13" stroke-width="1.9"/>
<circle cx="32.4" cy="15.7" r="1.5" fill="none" stroke="#1a1a1a" stroke-opacity="0.29" stroke-width="0.8"/>
<circle cx="36.4" cy="6.5" r="1.7" fill="#f0f0f0" fill-opacity="0.43" stroke="#1a1a1a" stroke-opacity="0.13" stroke-width="1.9"/>
<circle cx="36.4" cy="6.5" r="1.7" fill="none" stroke="#1a1a1a" stroke-opacity="0.28" stroke-width="0.8"/>
<circle cx="35.6" cy="14.2" r="1.2" fill="#f0f0f0" fill-opacity="0.43" stroke="#1a1a1a" stroke-opacity="0.20" stroke-width="1.9"/>
<circle cx="35.6" cy="14.2" r="1.2" fill="none" stroke="#1a1a1a" stroke-opacity="0.44" stroke-width="0.8"/>
<circle cx="34.6" cy="10.8" r="1.7" fill="#f0f0f0" fill-opacity="0.49" stroke="#1a1a1a" stroke-opacity="0.13" stroke-width="1.9"/>
<circle cx="34.6" cy="10.8" r="1.7" fill="none" stroke="#1a1a1a" stroke-opacity="0.28" stroke-width="0.8"/>
<circle cx="34.0" cy="16.9" r="2.1" fill="#f0f0f0" fill-opacity="0.31" stroke="#1a1a1a" stroke-opacity="0.20" stroke-width="1.9"/>
<circle cx="34.0" cy="16.9" r="2.1" fill="none" stroke="#1a1a1a" stroke-opacity="0.45" stroke-width="0.8"/>
<circle cx="25.6" cy="41.2" r="1.2" fill="#f0f0f0" fill-opacity="0.27" stroke="#1a1a1a" stroke-opacity="0.20" stroke-width="1.9"/>
<circle cx="25.6" cy="41.2" r="1.2" fill="none" stroke="#1a1a1a" stroke-opacity="0.45" stroke-width="0.8"/>
<circle cx="28.0" cy="35.5" r="1.5" fill="#f0f0f0" fill-opacity="0.30" stroke="#1a1a1a" stroke-opacity="0.13" stroke-width="1.9"/>
<circle cx="28.0" cy="35.5" r="1.5" fill="none" stroke="#1a1a1a" stroke-opacity="0.29" stroke-width="0.8"/>
<circle cx="26.8" cy="37.2" r="1.9" fill="#f0f0f0" fill-opacity="0.24" stroke="#1a1a1a" stroke-opacity="0.13" stroke-width="1.9"/>
<circle cx="26.8" cy="37.2" r="1.9" fill="none" stroke="#1a1a1a" stroke-opacity="0.30" stroke-width="0.8"/>
<circle cx="25.6" cy="40.6" r="1.6" fill="#f0f0f0" fill-opacity="0.38" stroke="#1a1a1a" stroke-opacity="0.18" stroke-width="1.9"/>
<circle cx="25.6" cy="40.6" r="1.6" fill="none" stroke="#1a1a1a" stroke-opacity="0.40" stroke-width="0.8"/>
<circle cx="22.2" cy="42.6" r="2.1" fill="#f0f0f0" fill-opacity="0.44" stroke="#1a1a1a" stroke-opacity="0.11" stroke-width="1.9"/>
<circle cx="22.2" cy="42.6" r="2.1" fill="none" stroke="#1a1a1a" stroke-opacity="0.24" stroke-width="0.8"/>
<circle cx="31.8" cy="33.8" r="1.2" fill="#f0f0f0" fill-opacity="0.37" stroke="#1a1a1a" stroke-opacity="0.20" stroke-width="1.9"/>
<circle cx="31.8" cy="33.8" r="1.2" fill="none" stroke="#1a1a1a" stroke-opacity="0.45" stroke-width="0.8"/>
<circle cx="30.9" cy="48.1" r="2.2" fill="#f0f0f0" fill-opacity="0.24" stroke="#1a1a1a" stroke-opacity="0.18" stroke-width="1.9"/>
<circle cx="30.9" cy="48.1" r="2.2" fill="none" stroke="#1a1a1a" stroke-opacity="0.40" stroke-width="0.8"/>
<circle cx="31.6" cy="48.7" r="1.3" fill="#f0f0f0" fill-opacity="0.27" stroke="#1a1a1a" stroke-opacity="0.20" stroke-width="1.9"/>
<circle cx="31.6" cy="48.7" r="1.3" fill="none" stroke="#1a1a1a" stroke-opacity="0.44" stroke-width="0.8"/>
<circle cx="34.5" cy="53.4" r="2.0" fill="#f0f0f0" fill-opacity="0.46" stroke="#1a1a1a" stroke-opacity="0.12" stroke-width="1.9"/>
<circle cx="34.5" cy="53.4" r="2.0" fill="none" stroke="#1a1a1a" stroke-opacity="0.27" stroke-width="0.8"/>
<circle cx="26.4" cy="44.5" r="1.9" fill="#f0f0f0" fill-opacity="0.43" stroke="#1a1a1a" stroke-opacity="0.21" stroke-width="1.9"/>
<circle cx="26.4" cy="44.5" r="1.9" fill="none" stroke="#1a1a1a" stroke-opacity="0.47" stroke-width="0.8"/>
<circle cx="31.6" cy="46.9" r="1.9" fill="#f0f0f0" fill-opacity="0.41" stroke="#1a1a1a" stroke-opacity="0.17" stroke-width="1.9"/>
<circle cx="31.6" cy="46.9" r="1.9" fill="none" stroke="#1a1a1a" stroke-opacity="0.37" stroke-width="0.8"/>
<circle cx="21.5" cy="57.8" r="1.7" fill="#f0f0f0" fill-opacity="0.23" stroke="#1a1a1a" stroke-opacity="0.13" stroke-width="1.9"/>
<circle cx="21.5" cy="57.8" r="1.7" fill="none" stroke="#1a1a1a" stroke-opacity="0.29" stroke-width="0.8"/>
<circle cx="27.5" cy="58.0" r="1.1" fill="#f0f0f0" fill-opacity="0.20" stroke="#1a1a1a" stroke-opacity="0.16" stroke-width="1.9"/>
<circle cx="27.5" cy="58.0" r="1.1" fill="none" stroke="#1a1a1a" stroke-opacity="0.35" stroke-width="0.8"/>
<circle cx="23.2" cy="56.2" r="1.7" fill="#f0f0f0" fill-opacity="0.15" stroke="#1a1a1a" stroke-opacity="0.21" stroke-width="1.9"/>
<circle cx="23.2" cy="56.2" r="1.7" fill="none" stroke="#1a1a1a" stroke-opacity="0.46" stroke-width="0.8"/>
<circle cx="27.1" cy="53.9" r="1.7" fill="#f0f0f0" fill-opacity="0.44" stroke="#1a1a1a" stroke-opacity="0.18" stroke-width="1.9"/>
<circle cx="27.1" cy="53.9" r="1.7" fill="none" stroke="#1a1a1a" stroke-opacity="0.41" stroke-width="0.8"/>
<circle cx="57.0" cy="20.1" r="2.2" fill="#f0f0f0" fill-opacity="0.37" stroke="#1a1a1a" stroke-opacity="0.11" stroke-width="1.9"/>
<circle cx="57.0" cy="20.1" r="2.2" fill="none" stroke="#1a1a1a" stroke-opacity="0.24" stroke-width="0.8"/>
<circle cx="58.7" cy="18.1" r="1.8" fill="#f0f0f0" fill-opacity="0.48" stroke="#1a1a1a" stroke-opacity="0.19" stroke-width="1.9"/>
<circle cx="58.7" cy="18.1" r="1.8" fill="none" stroke="#1a1a1a" stroke-opacity="0.41" stroke-width="0.8"/>
<circle cx="55.8" cy="23.6" r="1.7" fill="#f0f0f0" fill-opacity="0.46" stroke="#1a1a1a" stroke-opacity="0.16" stroke-width="1.9"/>
<circle cx="55.8" cy="23.6" r="1.7" fill="none" stroke="#1a1a1a" stroke-opacity="0.36" stroke-width="0.8"/>
<circle cx="63.2" cy="19.2" r="1.8" fill="#f0f0f0" fill-opacity="0.45" stroke="#1a1a1a" stroke-opacity="0.14" stroke-width="1.9"/>
<circle cx="63.2" cy="19.2" r="1.8" fill="none" stroke="#1a1a1a" stroke-opacity="0.31" stroke-width="0.8"/>
<circle cx="65.8" cy="29.4" r="1.7" fill="#f0f0f0" fill-opacity="0.22" stroke="#1a1a1a" stroke-opacity="0.20" stroke-width="1.9"/>
<circle cx="65.8" cy="29.4" r="1.7" fill="none" stroke="#1a1a1a" stroke-opacity="0.44" stroke-width="0.8"/>
<circle cx="65.4" cy="28.2" r="1.7" fill="#f0f0f0" fill-opacity="0.25" stroke="#1a1a1a" stroke-opacity="0.20" stroke-width="1.9"/>
<circle cx="65.4" cy="28.2" r="1.7" fill="none" stroke="#1a1a1a" stroke-opacity="0.45" stroke-width="0.8"/>
<circle cx="69.0" cy="25.0" r="1.7" fill="#f0f0f0" fill-opacity="0.33" stroke="#1a1a1a" stroke-opacity="0.13" stroke-width="1.9"/>
<circle cx="69.0" cy="25.0" r="1.7" fill="none" stroke="#1a1a1a" stroke-opacity="0.30" stroke-width="0.8"/>
<circle cx="71.8" cy="26.6" r="2.0" fill="#f0f0f0" fill-opacity="0.26" stroke="#1a1a1a" stroke-opacity="0.14" stroke-width="1.9"/>
<circle cx="71.8" cy="26.6" r="2.0" fill="none" stroke="#1a1a1a" stroke-opacity="0.31" stroke-width="0.8"/>
<circle cx="57.6" cy="43.9" r="1.8" fill="#f0f0f0" fill-opacity="0.16" stroke="#1a1a1a" stroke-opacity="0.20" stroke-width="1.9"/>
<circle cx="57.6" cy="43.9" r="1.8" fill="none" stroke="#1a1a1a" stroke-opacity="0.44" stroke-width="0.8"/>
<circle cx="57.8" cy="34.3" r="1.7" fill="#f0f0f0" fill-opacity="0.26" stroke="#1a1a1a" stroke-opacity="0.11" stroke-width="1.9"/>
<circle cx="57.8" cy="34.3" r="1.7" fill="none" stroke="#1a1a1a" stroke-opacity="0.23" stroke-width="0.8"/>
<circle cx="60.1" cy="40.2" r="2.2" fill="#f0f0f0" fill-opacity="0.38" stroke="#1a1a1a" stroke-opacity="0.18" stroke-width="1.9"/>
<circle cx="60.1" cy="40.2" r="2.2" fill="none" stroke="#1a1a1a" stroke-opacity="0.39" stroke-width="0.8"/>
<circle cx="60.3" cy="34.2" r="1.8" fill="#f0f0f0" fill-opacity="0.37" stroke="#1a1a1a" stroke-opacity="0.18" stroke-width="1.9"/>
<circle cx="60.3" cy="34.2" r="1.8" fill="none" stroke="#1a1a1a" stroke-opacity="0.39" stroke-width="0.8"/>
<circle cx="66.7" cy="35.9" r="1.9" fill="#f0f0f0" fill-opacity="0.38" stroke="#1a1a1a" stroke-opacity="0.13" stroke-width="1.9"/>
<circle cx="66.7" cy="35.9" r="1.9" fill="none" stroke="#1a1a1a" stroke-opacity="0.28" stroke-width="0.8"/>
<circle cx="63.6" cy="40.3" r="1.1" fill="#f0f0f0" fill-opacity="0.16" stroke="#1a1a1a" stroke-opacity="0.12" stroke-width="1.9"/>
<circle cx="63.6" cy="40.3" r="1.1" fill="none" stroke="#1a1a1a" stroke-opacity="0.27" stroke-width="0.8"/>
<circle cx="68.6" cy="33.9" r="1.9" fill="#f0f0f0" fill-opacity="0.44" stroke="#1a1a1a" stroke-opacity="0.15" stroke-width="1.9"/>
<circle cx="68.6" cy="33.9" r="1.9" fill="none" stroke="#1a1a1a" stroke-opacity="0.32" stroke-width="0.8"/>
<circle cx="68.5" cy="36.0" r="1.3" fill="#f0f0f0" fill-opacity="0.30" stroke="#1a1a1a" stroke-opacity="0.14" stroke-width="1.9"/>
<circle cx="68.5" cy="36.0" r="1.3" fill="none" stroke="#1a1a1a" stroke-opacity="0.30" stroke-width="0.8"/>
<circle cx="77.6" cy="46.7" r="1.8" fill="#f0f0f0" fill-opacity="0.17" stroke="#1a1a1a" stroke-opacity="0.22" stroke-width="1.9"/>
<circle cx="77.6" cy="46.7" r="1.8" fill="none" stroke="#1a1a1a" stroke-opacity="0.48" stroke-width="0.8"/>
<circle cx="78.6" cy="44.0" r="1.2" fill="#f0f0f0" fill-opacity="0.35" stroke="#1a1a1a" stroke-opacity="0.20" stroke-width="1.9"/>
<circle cx="78.6" cy="44.0" r="1.2" fill="none" stroke="#1a1a1a" stroke-opacity="0.45" stroke-width="0.8"/>
<circle cx="81.4" cy="42.6" r="1.0" fill="#f0f0f0" fill-opacity="0.36" stroke="#1a1a1a" stroke-opacity="0.15" stroke-width="1.9"/>
<circle cx="81.4" cy="42.6" r="1.0" fill="none" stroke="#1a1a1a" stroke-opacity="0.33" stroke-width="0.8"/>
<circle cx="84.9" cy="41.6" r="1.6" fill="#f0f0f0" fill-opacity="0.19" stroke="#1a1a1a" stroke-opacity="0.15" stroke-width="1.9"/>
<circle cx="84.9" cy="41.6" r="1.6" fill="none" stroke="#1a1a1a" stroke-opacity="0.34" stroke-width="0.8"/>
<circle cx="77.9" cy="43.0" r="1.2" fill="#f0f0f0" fill-opacity="0.15" stroke="#1a1a1a" stroke-opacity="0.10" stroke-width="1.9"/>
<circle cx="77.9" cy="43.0" r="1.2" fill="none" stroke="#1a1a1a" stroke-opacity="0.22" stroke-width="0.8"/>
<circle cx="85.5" cy="47.4" r="2.3" fill="#f0f0f0" fill-opacity="0.45" stroke="#1a1a1a" stroke-opacity="0.11" stroke-width="1.9"/>
<circle cx="85.5" cy="47.4" r="2.3" fill="none" stroke="#1a1a1a" stroke-opacity="0.24" stroke-width="0.8"/>
<circle cx="85.9" cy="48.1" r="1.9" fill="#f0f0f0" fill-opacity="0.41" stroke="#1a1a1a" stroke-opacity="0.13" stroke-width="1.9"/>
<circle cx="85.9" cy="48.1" r="1.9" fill="none" stroke="#1a1a1a" stroke-opacity="0.29" stroke-width="0.8"/>
<circle cx="85.9" cy="48.3" r="2.0" fill="#f0f0f0" fill-opacity="0.45" stroke="#1a1a1a" stroke-opacity="0.19" stroke-width="1.9"/>
<circle cx="85.9" cy="48.3" r="2.0" fill="none" stroke="#1a1a1a" stroke-opacity="0.42" stroke-width="0.8"/>
<circle cx="85.7" cy="47.6" r="1.8" fill="#f0f0f0" fill-opacity="0.31" stroke="#1a1a1a" stroke-opacity="0.19" stroke-width="1.9"/>
<circle cx="85.7" cy="47.6" r="1.8" fill="none" stroke="#1a1a1a" stroke-opacity="0.42" stroke-width="0.8"/>
<circle cx="74.5" cy="11.5" r="2.3" fill="#f0f0f0" fill-opacity="0.15" stroke="#1a1a1a" stroke-opacity="0.19" stroke-width="1.9"/>
<circle cx="74.5" cy="11.5" r="2.3" fill="none" stroke="#1a1a1a" stroke-opacity="0.42" stroke-width="0.8"/>
<circle cx="77.5" cy="12.7" r="2.1" fill="#f0f0f0" fill-opacity="0.26" stroke="#1a1a1a" stroke-opacity="0.11" stroke-width="1.9"/>
<circle cx="77.5" cy="12.7" r="2.1" fill="none" stroke="#1a1a1a" stroke-opacity="0.24" stroke-width="0.8"/>
<circle cx="72.6" cy="11.1" r="2.1" fill="#f0f0f0" fill-opacity="0.17" stroke="#1a1a1a" stroke-opacity="0.16" stroke-width="1.9"/>
<circle cx="72.6" cy="11.1" r="2.1" fill="none" stroke="#1a1a1a" stroke-opacity="0.36" stroke-width="0.8"/>
<circle cx="70.0" cy="15.3" r="1.6" fill="#f0f0f0" fill-opacity="0.20" stroke="#1a1a1a" stroke-opacity="0.18" stroke-width="1.9"/>
<circle cx="70.0" cy="15.3" r="1.6" fill="none" stroke="#1a1a1a" stroke-opacity="0.41" stroke-width="0.8"/>
<circle cx="85.4" cy="29.3" r="1.8" fill="#f0f0f0" fill-opacity="0.30" stroke="#1a1a1a" stroke-opacity="0.18" stroke-width="1.9"/>
<circle cx="85.4" cy="29.3" r="1.8" fill="none" stroke="#1a1a1a" stroke-opacity="0.40" stroke-width="0.8"/>
<circle cx="81.7" cy="33.9" r="2.2" fill="#f0f0f0" fill-opacity="0.35" stroke="#1a1a1a" stroke-opacity="0.20" stroke-width="1.9"/>
<circle cx="81.7" cy="33.9" r="2.2" fill="none" stroke="#1a1a1a" stroke-opacity="0.44" stroke-width="0.8"/>
<circle cx="84.7" cy="31.5" r="2.3" fill="#f0f0f0" fill-opacity="0.44" stroke="#1a1a1a" stroke-opacity="0.19" stroke-width="1.9"/>
<circle cx="84.7" cy="31.5" r="2.3" fill="none" stroke="#1a1a1a" stroke-opacity="0.42" stroke-width="0.8"/>
<circle cx="83.2" cy="34.0" r="2.3" fill="#f0f0f0" fill-opacity="0.36" stroke="#1a1a1a" stroke-opacity="0.20" stroke-width="1.9"/>
<circle cx="83.2" cy="34.0" r="2.3" fill="none" stroke="#1a1a1a" stroke-opacity="0.45" stroke-width="0.8"/>
<circle cx="92.0" cy="21.4" r="2.2" fill="#f0f0f0" fill-opacity="0.39" stroke="#1a1a1a" stroke-opacity="0.15" stroke-width="1.9"/>
<circle cx="92.0" cy="21.4" r="2.2" fill="none" stroke="#1a1a1a" stroke-opacity="0.33" stroke-width="0.8"/>
<circle cx="89.0" cy="16.4" r="2.0" fill="#f0f0f0" fill-opacity="0.15" stroke="#1a1a1a" stroke-opacity="0.13" stroke-width="1.9"/>
<circle cx="89.0" cy="16.4" r="2.0" fill="none" stroke="#1a1a1a" stroke-opacity="0.30" stroke-width="0.8"/>
<circle cx="92.6" cy="21.5" r="1.8" fill="#f0f0f0" fill-opacity="0.46" stroke="#1a1a1a" stroke-opacity="0.20" stroke-width="1.9"/>
<circle cx="92.6" cy="21.5" r="1.8" fill="none" stroke="#1a1a1a" stroke-opacity="0.45" stroke-width="0.8"/>
<circle cx="114.6" cy="18.1" r="2.1" fill="#f0f0f0" fill-opacity="0.35" stroke="#1a1a1a" stroke-opacity="0.21" stroke-width="1.9"/>
<circle cx="114.6" cy="18.1" r="2.1" fill="none" stroke="#1a1a1a" stroke-opacity="0.46" stroke-width="0.8"/>
<circle cx="106.7" cy="23.3" r="2.0" fill="#f0f0f0" fill-opacity="0.47" stroke="#1a1a1a" stroke-opacity="0.19" stroke-width="1.9"/>
<circle cx="106.7" cy="23.3" r="2.0" fill="none" stroke="#1a1a1a" stroke-opacity="0.41" stroke-width="0.8"/>
<circle cx="107.4" cy="16.8" r="1.7" fill="#f0f0f0" fill-opacity="0.22" stroke="#1a1a1a" stroke-opacity="0.20" stroke-width="1.9"/>
<circle cx="107.4" cy="16.8" r="1.7" fill="none" stroke="#1a1a1a" stroke-opacity="0.44" stroke-width="0.8"/>
<circle cx="107.8" cy="8.4" r="1.3" fill="#f0f0f0" fill-opacity="0.39" stroke="#1a1a1a" stroke-opacity="0.18" stroke-width="1.9"/>
<circle cx="107.8" cy="8.4" r="1.3" fill="none" stroke="#1a1a1a" stroke-opacity="0.39" stroke-width="0.8"/>
<circle cx="106.1" cy="16.6" r="1.3" fill="#f0f0f0" fill-opacity="0.43" stroke="#1a1a1a" stroke-opacity="0.19" stroke-width="1.9"/>
<circle cx="106.1" cy="16.6" r="1.3" fill="none" stroke="#1a1a1a" stroke-opacity="0.43" stroke-width="0.8"/>
<circle cx="118.2" cy="26.4" r="2.0" fill="#f0f0f0" fill-opacity="0.23" stroke="#1a1a1a" stroke-opacity="0.20" stroke-width="1.9"/>
<circle cx="118.2" cy="26.4" r="2.0" fill="none" stroke="#1a1a1a" stroke-opacity="0.44" stroke-width="0.8"/>
<circle cx="113.1" cy="23.1" r="2.2" fill="#f0f0f0" fill-opacity="0.32" stroke="#1a1a1a" stroke-opacity="0.16" stroke-width="1.9"/>
<circle cx="113.1" cy="23.1" r="2.2" fill="none" stroke="#1a1a1a" stroke-opacity="0.37" stroke-width="0.8"/>
<circle cx="117.6" cy="25.5" r="1.3" fill="#f0f0f0" fill-opacity="0.40" stroke="#1a1a1a" stroke-opacity="0.12" stroke-width="1.9"/>
<circle cx="117.6" cy="25.5" r="1.3" fill="none" stroke="#1a1a1a" stroke-opacity="0.27" stroke-width="0.8"/>
<circle cx="116.2" cy="29.3" r="1.5" fill="#f0f0f0" fill-opacity="0.20" stroke="#1a1a1a" stroke-opacity="0.16" stroke-width="1.9"/>
<circle cx="116.2" cy="29.3" r="1.5" fill="none" stroke="#1a1a1a" stroke-opacity="0.36" stroke-width="0.8"/>
<circle cx="125.7" cy="28.2" r="1.5" fill="#f0f0f0" fill-opacity="0.37" stroke="#1a1a1a" stroke-opacity="0.11" stroke-width="1.9"/>
<circle cx="125.7" cy="28.2" r="1.5" fill="none" stroke="#1a1a1a" stroke-opacity="0.25" stroke-width="0.8"/>
<circle cx="119.1" cy="25.1" r="1.8" fill="#f0f0f0" fill-opacity="0.33" stroke="#1a1a1a" stroke-opacity="0.14" stroke-width="1.9"/>
<circle cx="119.1" cy="25.1" r="1.8" fill="none" stroke="#1a1a1a" stroke-opacity="0.32" stroke-width="0.8"/>
<circle cx="110.0" cy="27.2" r="2.3" fill="#f0f0f0" fill-opacity="0.32" stroke="#1a1a1a" stroke-opacity="0.21" stroke-width="1.9"/>
<circle cx="110.0" cy="27.2" r="2.3" fill="none" stroke="#1a1a1a" stroke-opacity="0.46" stroke-width="0.8"/>
<circle cx="108.2" cy="26.5" r="2.0" fill="#f0f0f0" fill-opacity="0.48" stroke="#1a1a1a" stroke-opacity="0.15" stroke-width="1.9"/>
<circle cx="108.2" cy="26.5" r="2.0" fill="none" stroke="#1a1a1a" stroke-opacity="0.34" stroke-width="0.8"/>
<circle cx="110.4" cy="21.7" r="2.3" fill="#f0f0f0" fill-opacity="0.16" stroke="#1a1a1a" stroke-opacity="0.13" stroke-width="1.9"/>
<circle cx="110.4" cy="21.7" r="2.3" fill="none" stroke="#1a1a1a" stroke-opacity="0.29" stroke-width="0.8"/>
<circle cx="110.2" cy="28.3" r="1.1" fill="#f0f0f0" fill-opacity="0.35" stroke="#1a1a1a" stroke-opacity="0.11" stroke-width="1.9"/>
<circle cx="110.2" cy="28.3" r="1.1" fill="none" stroke="#1a1a1a" stroke-opacity="0.23" stroke-width="0.8"/>
<circle cx="111.9" cy="25.0" r="2.2" fill="#f0f0f0" fill-opacity="0.17" stroke="#1a1a1a" stroke-opacity="0.21" stroke-width="1.9"/>
<circle cx="111.9" cy="25.0" r="2.2" fill="none" stroke="#1a1a1a" stroke-opacity="0.47" stroke-width="0.8"/>
<circle cx="112.8" cy="36.7" r="1.2" fill="#f0f0f0" fill-opacity="0.24" stroke="#1a1a1a" stroke-opacity="0.22" stroke-width="1.9"/>
<circle cx="112.8" cy="36.7" r="1.2" fill="none" stroke="#1a1a1a" stroke-opacity="0.49" stroke-width="0.8"/>
<circle cx="111.1" cy="36.6" r="2.2" fill="#f0f0f0" fill-opacity="0.29" stroke="#1a1a1a" stroke-opacity="0.18" stroke-width="1.9"/>
<circle cx="111.1" cy="36.6" r="2.2" fill="none" stroke="#1a1a1a" stroke-opacity="0.41" stroke-width="0.8"/>
<circle cx="113.9" cy="38.4" r="2.3" fill="#f0f0f0" fill-opacity="0.23" stroke="#1a1a1a" stroke-opacity="0.22" stroke-width="1.9"/>
<circle cx="113.9" cy="38.4" r="2.3" fill="none" stroke="#1a1a1a" stroke-opacity="0.50" stroke-width="0.8"/>
<circle cx="116.3" cy="38.5" r="1.5" fill="#f0f0f0" fill-opacity="0.47" stroke="#1a1a1a" stroke-opacity="0.21" stroke-width="1.9"/>
<circle cx="116.3" cy="38.5" r="1.5" fill="none" stroke="#1a1a1a" stroke-opacity="0.47" stroke-width="0.8"/>
<circle cx="100.9" cy="12.1" r="2.0" fill="#f0f0f0" fill-opacity="0.38" stroke="#1a1a1a" stroke-opacity="0.19" stroke-width="1.9"/>
<circle cx="100.9" cy="12.1" r="2.0" fill="none" stroke="#1a1a1a" stroke-opacity="0.42" stroke-width="0.8"/>
<circle cx="101.1" cy="12.3" r="1.2" fill="#f0f0f0" fill-opacity="0.48" stroke="#1a1a1a" stroke-opacity="0.19" stroke-width="1.9"/>
<circle cx="101.1" cy="12.3" r="1.2" fill="none" stroke="#1a1a1a" stroke-opacity="0.43" stroke-width="0.8"/>
<circle cx="100.0" cy="10.7" r="1.8" fill="#f0f0f0" fill-opacity="0.19" stroke="#1a1a1a" stroke-opacity="0.19" stroke-width="1.9"/>
<circle cx="100.0" cy="10.7" r="1.8" fill="none" stroke="#1a1a1a" stroke-opacity="0.43" stroke-width="0.8"/>
<circle cx="100.1" cy="13.6" r="1.2" fill="#f0f0f0" fill-opacity="0.21" stroke="#1a1a1a" stroke-opacity="0.16" stroke-width="1.9"/>
<circle cx="100.1" cy="13.6" r="1.2" fill="none" stroke="#1a1a1a" stroke-opacity="0.35" stroke-width="0.8"/>
<circle cx="106.9" cy="61.0" r="1.9" fill="#f0f0f0" fill-opacity="0.40" stroke="#1a1a1a" stroke-opacity="0.10" stroke-width="1.9"/>
<circle cx="106.9" cy="61.0" r="1.9" fill="none" stroke="#1a1a1a" stroke-opacity="0.22" stroke-width="0.8"/>
<circle cx="106.9" cy="60.2" r="2.2" fill="#f0f0f0" fill-opacity="0.48" stroke="#1a1a1a" stroke-opacity="0.13" stroke-width="1.9"/>
<circle cx="106.9" cy="60.2" r="2.2" fill="none" stroke="#1a1a1a" stroke-opacity="0.28" stroke-width="0.8"/>
<circle cx="111.1" cy="55.2" r="1.2" fill="#f0f0f0" fill-opacity="0.18" stroke="#1a1a1a" stroke-opacity="0.16" stroke-width="1.9"/>
<circle cx="111.1" cy="55.2" r="1.2" fill="none" stroke="#1a1a1a" stroke-opacity="0.35" stroke-width="0.8"/>
<circle cx="112.3" cy="57.4" r="1.8" fill="#f0f0f0" fill-opacity="0.27" stroke="#1a1a1a" stroke-opacity="0.16" stroke-width="1.9"/>
<circle cx="112.3" cy="57.4" r="1.8" fill="none" stroke="#1a1a1a" stroke-opacity="0.35" stroke-width="0.8"/>
<circle cx="108.3" cy="56.9" r="1.8" fill="#f0f0f0" fill-opacity="0.23" stroke="#1a1a1a" stroke-opacity="0.12" stroke-width="1.9"/>
<circle cx="108.3" cy="56.9" r="1.8" fill="none" stroke="#1a1a1a" stroke-opacity="0.26" stroke-width="0.8"/>
<circle cx="105.0" cy="69.5" r="1.7" fill="#f0f0f0" fill-opacity="0.45" stroke="#1a1a1a" stroke-opacity="0.12" stroke-width="1.9"/>
<circle cx="105.0" cy="69.5" r="1.7" fill="none" stroke="#1a1a1a" stroke-opacity="0.26" stroke-width="0.8"/>
<circle cx="100.5" cy="70.5" r="1.2" fill="#f0f0f0" fill-opacity="0.44" stroke="#1a1a1a" stroke-opacity="0.13" stroke-width="1.9"/>
<circle cx="100.5" cy="70.5" r="1.2" fill="none" stroke="#1a1a1a" stroke-opacity="0.30" stroke-width="0.8"/>
<circle cx="100.3" cy="68.8" r="1.6" fill="#f0f0f0" fill-opacity="0.47" stroke="#1a1a1a" stroke-opacity="0.14" stroke-width="1.9"/>
<circle cx="100.3" cy="68.8" r="1.6" fill="none" stroke="#1a1a1a" stroke-opacity="0.31" stroke-width="0.8"/>
<circle cx="105.4" cy="72.0" r="1.1" fill="#f0f0f0" fill-opacity="0.38" stroke="#1a1a1a" stroke-opacity="0.21" stroke-width="1.9"/>
<circle cx="105.4" cy="72.0" r="1.1" fill="none" stroke="#1a1a1a" stroke-opacity="0.47" stroke-width="0.8"/>
<circle cx="101.5" cy="70.8" r="1.4" fill="#f0f0f0" fill-opacity="0.22" stroke="#1a1a1a" stroke-opacity="0.13" stroke-width="1.9"/>
<circle cx="101.5" cy="70.8" r="1.4" fill="none" stroke="#1a1a1a" stroke-opacity="0.29" stroke-width="0.8"/>
<circle cx="89.7" cy="59.6" r="2.3" fill="#f0f0f0" fill-opacity="0.18" stroke="#1a1a1a" stroke-opacity="0.22" stroke-width="1.9"/>
<circle cx="89.7" cy="59.6" r="2.3" fill="none" stroke="#1a1a1a" stroke-opacity="0.48" stroke-width="0.8"/>
<circle cx="91.7" cy="60.2" r="1.1" fill="#f0f0f0" fill-opacity="0.25" stroke="#1a1a1a" stroke-opacity="0.19" stroke-width="1.9"/>
<circle cx="91.7" cy="60.2" r="1.1" fill="none" stroke="#1a1a1a" stroke-opacity="0.42" stroke-width="0.8"/>
<circle cx="92.9" cy="56.0" r="2.0" fill="#f0f0f0" fill-opacity="0.20" stroke="#1a1a1a" stroke-opacity="0.14" stroke-width="1.9"/>
<circle cx="92.9" cy="56.0" r="2.0" fill="none" stroke="#1a1a1a" stroke-opacity="0.32" stroke-width="0.8"/>
<circle cx="96.8" cy="56.1" r="1.7" fill="#f0f0f0" fill-opacity="0.30" stroke="#1a1a1a" stroke-opacity="0.12" stroke-width="1.9"/>
<circle cx="96.8" cy="56.1" r="1.7" fill="none" stroke="#1a1a1a" stroke-opacity="0.27" stroke-width="0.8"/>
<circle cx="111.8" cy="50.4" r="1.7" fill="#f0f0f0" fill-opacity="0.21" stroke="#1a1a1a" stroke-opacity="0.12" stroke-width="1.9"/>
<circle cx="111.8" cy="50.4" r="1.7" fill="none" stroke="#1a1a1a" stroke-opacity="0.26" stroke-width="0.8"/>
<circle cx="111.3" cy="47.3" r="1.3" fill="#f0f0f0" fill-opacity="0.18" stroke="#1a1a1a" stroke-opacity="0.11" stroke-width="1.9"/>
<circle cx="111.3" cy="47.3" r="1.3" fill="none" stroke="#1a1a1a" stroke-opacity="0.24" stroke-width="0.8"/>
<circle cx="108.8" cy="49.4" r="1.4" fill="#f0f0f0" fill-opacity="0.36" stroke="#1a1a1a" stroke-opacity="0.12" stroke-width="1.9"/>
<circle cx="108.8" cy="49.4" r="1.4" fill="none" stroke="#1a1a1a" stroke-opacity="0.28" stroke-width="0.8"/>
<circle cx="109.7" cy="46.9" r="1.8" fill="#f0f0f0" fill-opacity="0.17" stroke="#1a1a1a" stroke-opacity="0.12" stroke-width="1.9"/>
<circle cx="109.7" cy="46.9" r="1.8" fill="none" stroke="#1a1a1a" stroke-opacity="0.28" stroke-width="0.8"/>
<circle cx="71.5" cy="63.0" r="1.9" fill="#f0f0f0" fill-opacity="0.43" stroke="#1a1a1a" stroke-opacity="0.11" stroke-width="1.9"/>
<circle cx="71.5" cy="63.0" r="1.9" fill="none" stroke="#1a1a1a" stroke-opacity="0.24" stroke-width="0.8"/>
<circle cx="68.7" cy="71.2" r="2.1" fill="#f0f0f0" fill-opacity="0.16" stroke="#1a1a1a" stroke-opacity="0.16" stroke-width="1.9"/>
<circle cx="68.7" cy="71.2" r="2.1" fill="none" stroke="#1a1a1a" stroke-opacity="0.36" stroke-width="0.8"/>
<circle cx="74.7" cy="64.1" r="2.1" fill="#f0f0f0" fill-opacity="0.22" stroke="#1a1a1a" stroke-opacity="0.13" stroke-width="1.9"/>
<circle cx="74.7" cy="64.1" r="2.1" fill="none" stroke="#1a1a1a" stroke-opacity="0.29" stroke-width="0.8"/>
<circle cx="73.1" cy="63.7" r="1.2" fill="#f0f0f0" fill-opacity="0.36" stroke="#1a1a1a" stroke-opacity="0.15" stroke-width="1.9"/>
<circle cx="73.1" cy="63.7" r="1.2" fill="none" stroke="#1a1a1a" stroke-opacity="0.32" stroke-width="0.8"/>
<circle cx="75.5" cy="66.1" r="1.6" fill="#f0f0f0" fill-opacity="0.19" stroke="#1a1a1a" stroke-opacity="0.16" stroke-width="1.9"/>
<circle cx="75.5" cy="66.1" r="1.6" fill="none" stroke="#1a1a1a" stroke-opacity="0.36" stroke-width="0.8"/>
<circle cx="70.5" cy="60.2" r="2.1" fill="#f0f0f0" fill-opacity="0.40" stroke="#1a1a1a" stroke-opacity="0.14" stroke-width="1.9"/>
<circle cx="70.5" cy="60.2" r="2.1" fill="none" stroke="#1a1a1a" stroke-opacity="0.31" stroke-width="0.8"/>
<circle cx="74.0" cy="83.3" r="1.1" fill="#f0f0f0" fill-opacity="0.48" stroke="#1a1a1a" stroke-opacity="0.21" stroke-width="1.9"/>
<circle cx="74.0" cy="83.3" r="1.1" fill="none" stroke="#1a1a1a" stroke-opacity="0.46" stroke-width="0.8"/>
<circle cx="74.4" cy="79.0" r="1.7" fill="#f0f0f0" fill-opacity="0.16" stroke="#1a1a1a" stroke-opacity="0.17" stroke-width="1.9"/>
<circle cx="74.4" cy="79.0" r="1.7" fill="none" stroke="#1a1a1a" stroke-opacity="0.37" stroke-width="0.8"/>
<circle cx="80.7" cy="78.5" r="1.2" fill="#f0f0f0" fill-opacity="0.24" stroke="#1a1a1a" stroke-opacity="0.11" stroke-width="1.9"/>
<circle cx="80.7" cy="78.5" r="1.2" fill="none" stroke="#1a1a1a" stroke-opacity="0.25" stroke-width="0.8"/>
<circle cx="78.9" cy="78.6" r="1.1" fill="#f0f0f0" fill-opacity="0.22" stroke="#1a1a1a" stroke-opacity="0.19" stroke-width="1.9"/>
<circle cx="78.9" cy="78.6" r="1.1" fill="none" stroke="#1a1a1a" stroke-opacity="0.42" stroke-width="0.8"/>
<circle cx="83.9" cy="79.5" r="1.7" fill="#f0f0f0" fill-opacity="0.40" stroke="#1a1a1a" stroke-opacity="0.16" stroke-width="1.9"/>
<circle cx="83.9" cy="79.5" r="1.7" fill="none" stroke="#1a1a1a" stroke-opacity="0.37" stroke-width="0.8"/>
<circle cx="84.8" cy="83.4" r="1.9" fill="#f0f0f0" fill-opacity="0.19" stroke="#1a1a1a" stroke-opacity="0.10" stroke-width="1.9"/>
<circle cx="84.8" cy="83.4" r="1.9" fill="none" stroke="#1a1a1a" stroke-opacity="0.23" stroke-width="0.8"/>
<circle cx="70.4" cy="84.0" r="1.4" fill="#f0f0f0" fill-opacity="0.29" stroke="#1a1a1a" stroke-opacity="0.11" stroke-width="1.9"/>
<circle cx="70.4" cy="84.0" r="1.4" fill="none" stroke="#1a1a1a" stroke-opacity="0.25" stroke-width="0.8"/>
<circle cx="76.4" cy="86.9" r="2.1" fill="#f0f0f0" fill-opacity="0.35" stroke="#1a1a1a" stroke-opacity="0.12" stroke-width="1.9"/>
<circle cx="76.4" cy="86.9" r="2.1" fill="none" stroke="#1a1a1a" stroke-opacity="0.26" stroke-width="0.8"/>
<circle cx="73.8" cy="82.7" r="2.1" fill="#f0f0f0" fill-opacity="0.29" stroke="#1a1a1a" stroke-opacity="0.22" stroke-width="1.9"/>
<circle cx="73.8" cy="82.7" r="2.1" fill="none" stroke="#1a1a1a" stroke-opacity="0.48" stroke-width="0.8"/>
<circle cx="68.8" cy="86.6" r="1.7" fill="#f0f0f0" fill-opacity="0.48" stroke="#1a1a1a" stroke-opacity="0.15" stroke-width="1.9"/>
<circle cx="68.8" cy="86.6" r="1.7" fill="none" stroke="#1a1a1a" stroke-opacity="0.33" stroke-width="0.8"/>
<circle cx="74.2" cy="81.6" r="1.3" fill="#f0f0f0" fill-opacity="0.30" stroke="#1a1a1a" stroke-opacity="0.14" stroke-width="1.9"/>
<circle cx="74.2" cy="81.6" r="1.3" fill="none" stroke="#1a1a1a" stroke-opacity="0.31" stroke-width="0.8"/>
<circle cx="91.2" cy="82.2" r="2.2" fill="#f0f0f0" fill-opacity="0.45" stroke="#1a1a1a" stroke-opacity="0.20" stroke-width="1.9"/>
<circle cx="91.2" cy="82.2" r="2.2" fill="none" stroke="#1a1a1a" stroke-opacity="0.45" stroke-width="0.8"/>
<circle cx="89.1" cy="84.0" r="2.2" fill="#f0f0f0" fill-opacity="0.24" stroke="#1a1a1a" stroke-opacity="0.22" stroke-width="1.9"/>
<circle cx="89.1" cy="84.0" r="2.2" fill="none" stroke="#1a1a1a" stroke-opacity="0.48" stroke-width="0.8"/>
<circle cx="82.0" cy="84.9" r="1.5" fill="#f0f0f0" fill-opacity="0.17" stroke="#1a1a1a" stroke-opacity="0.17" stroke-width="1.9"/>
<circle cx="82.0" cy="84.9" r="1.5" fill="none" stroke="#1a1a1a" stroke-opacity="0.37" stroke-width="0.8"/>
<circle cx="82.7" cy="84.2" r="1.0" fill="#f0f0f0" fill-opacity="0.49" stroke="#1a1a1a" stroke-opacity="0.12" stroke-width="1.9"/>
<circle cx="82.7" cy="84.2" r="1.0" fill="none" stroke="#1a1a1a" stroke-opacity="0.26" stroke-width="0.8"/>
<circle cx="86.8" cy="76.6" r="1.8" fill="#f0f0f0" fill-opacity="0.46" stroke="#1a1a1a" stroke-opacity="0.20" stroke-width="1.9"/>
<circle cx="86.8" cy="76.6" r="1.8" fill="none" stroke="#1a1a1a" stroke-opacity="0.45" stroke-width="0.8"/>
<circle cx="66.9" cy="76.8" r="1.8" fill="#f0f0f0" fill-opacity="0.39" stroke="#1a1a1a" stroke-opacity="0.13" stroke-width="1.9"/>
<circle cx="66.9" cy="76.8" r="1.8" fill="none" stroke="#1a1a1a" stroke-opacity="0.29" stroke-width="0.8"/>
<circle cx="66.4" cy="79.7" r="2.2" fill="#f0f0f0" fill-opacity="0.24" stroke="#1a1a1a" stroke-opacity="0.18" stroke-width="1.9"/>
<circle cx="66.4" cy="79.7" r="2.2" fill="none" stroke="#1a1a1a" stroke-opacity="0.39" stroke-width="0.8"/>
<circle cx="64.5" cy="76.6" r="2.2" fill="#f0f0f0" fill-opacity="0.26" stroke="#1a1a1a" stroke-opacity="0.14" stroke-width="1.9"/>
<circle cx="64.5" cy="76.6" r="2.2" fill="none" stroke="#1a1a1a" stroke-opacity="0.30" stroke-width="0.8"/>
<circle cx="66.4" cy="76.4" r="1.8" fill="#f0f0f0" fill-opacity="0.33" stroke="#1a1a1a" stroke-opacity="0.22" stroke-width="1.9"/>
<circle cx="66.4" cy="76.4" r="1.8" fill="none" stroke="#1a1a1a" stroke-opacity="0.49" stroke-width="0.8"/>
<circle cx="98.4" cy="93.4" r="1.7" fill="#f0f0f0" fill-opacity="0.19" stroke="#1a1a1a" stroke-opacity="0.12" stroke-width="1.9"/>
<circle cx="98.4" cy="93.4" r="1.7" fill="none" stroke="#1a1a1a" stroke-opacity="0.26" stroke-width="0.8"/>
<circle cx="100.3" cy="91.5" r="1.5" fill="#f0f0f0" fill-opacity="0.24" stroke="#1a1a1a" stroke-opacity="0.14" stroke-width="1.9"/>
<circle cx="100.3" cy="91.5" r="1.5" fill="none" stroke="#1a1a1a" stroke-opacity="0.30" stroke-width="0.8"/>
<circle cx="102.4" cy="92.0" r="2.1" fill="#f0f0f0" fill-opacity="0.35" stroke="#1a1a1a" stroke-opacity="0.18" stroke-width="1.9"/>
<circle cx="102.4" cy="92.0" r="2.1" fill="none" stroke="#1a1a1a" stroke-opacity="0.39" stroke-width="0.8"/>
<circle cx="97.9" cy="88.6" r="1.9" fill="#f0f0f0" fill-opacity="0.34" stroke="#1a1a1a" stroke-opacity="0.16" stroke-width="1.9"/>
<circle cx="97.9" cy="88.6" r="1.9" fill="none" stroke="#1a1a1a" stroke-opacity="0.35" stroke-width="0.8"/>
<circle cx="96.1" cy="87.5" r="1.4" fill="#f0f0f0" fill-opacity="0.23" stroke="#1a1a1a" stroke-opacity="0.13" stroke-width="1.9"/>
<circle cx="96.1" cy="87.5" r="1.4" fill="none" stroke="#1a1a1a" stroke-opacity="0.29" stroke-width="0.8"/>
<circle cx="95.9" cy="89.6" r="1.8" fill="#f0f0f0" fill-opacity="0.27" stroke="#1a1a1a" stroke-opacity="0.10" stroke-width="1.9"/>
<circle cx="95.9" cy="89.6" r="1.8" fill="none" stroke="#1a1a1a" stroke-opacity="0.22" stroke-width="0.8"/>
<circle cx="97.8" cy="95.6" r="1.7" fill="#f0f0f0" fill-opacity="0.25" stroke="#1a1a1a" stroke-opacity="0.16" stroke-width="1.9"/>
<circle cx="97.8" cy="95.6" r="1.7" fill="none" stroke="#1a1a1a" stroke-opacity="0.36" stroke-width="0.8"/>
<circle cx="98.6" cy="96.6" r="2.0" fill="#f0f0f0" fill-opacity="0.17" stroke="#1a1a1a" stroke-opacity="0.12" stroke-width="1.9"/>
<circle cx="98.6" cy="96.6" r="2.0" fill="none" stroke="#1a1a1a" stroke-opacity="0.26" stroke-width="0.8"/>
<circle cx="98.7" cy="94.8" r="1.1" fill="#f0f0f0" fill-opacity="0.30" stroke="#1a1a1a" stroke-opacity="0.15" stroke-width="1.9"/>
<circle cx="98.7" cy="94.8" r="1.1" fill="none" stroke="#1a1a1a" stroke-opacity="0.33" stroke-width="0.8"/>
<circle cx="96.7" cy="96.1" r="1.3" fill="#f0f0f0" fill-opacity="0.41" stroke="#1a1a1a" stroke-opacity="0.22" stroke-width="1.9"/>
<circle cx="96.7" cy="96.1" r="1.3" fill="none" stroke="#1a1a1a" stroke-opacity="0.49" stroke-width="0.8"/>
<circle cx="98.0" cy="98.5" r="1.5" fill="#f0f0f0" fill-opacity="0.37" stroke="#1a1a1a" stroke-opacity="0.18" stroke-width="1.9"/>
<circle cx="98.0" cy="98.5" r="1.5" fill="none" stroke="#1a1a1a" stroke-opacity="0.41" stroke-width="0.8"/>
<circle cx="93.1" cy="95.6" r="1.7" fill="#f0f0f0" fill-opacity="0.41" stroke="#1a1a1a" stroke-opacity="0.19" stroke-width="1.9"/>
<circle cx="93.1" cy="95.6" r="1.7" fill="none" stroke="#1a1a1a" stroke-opacity="0.43" stroke-width="0.8"/>
<circle cx="90.9" cy="96.5" r="2.0" fill="#f0f0f0" fill-opacity="0.47" stroke="#1a1a1a" stroke-opacity="0.19" stroke-width="1.9"/>
<circle cx="90.9" cy="96.5" r="2.0" fill="none" stroke="#1a1a1a" stroke-opacity="0.42" stroke-width="0.8"/>
<circle cx="93.7" cy="101.8" r="1.0" fill="#f0f0f0" fill-opacity="0.36" stroke="#1a1a1a" stroke-opacity="0.20" stroke-width="1.9"/>
<circle cx="93.7" cy="101.8" r="1.0" fill="none" stroke="#1a1a1a" stroke-opacity="0.43" stroke-width="0.8"/>
<circle cx="86.2" cy="98.8" r="1.7" fill="#f0f0f0" fill-opacity="0.42" stroke="#1a1a1a" stroke-opacity="0.15" stroke-width="1.9"/>
<circle cx="86.2" cy="98.8" r="1.7" fill="none" stroke="#1a1a1a" stroke-opacity="0.34" stroke-width="0.8"/>
<circle cx="39.2" cy="70.4" r="1.5" fill="#f0f0f0" fill-opacity="0.31" stroke="#1a1a1a" stroke-opacity="0.16" stroke-width="1.9"/>
<circle cx="39.2" cy="70.4" r="1.5" fill="none" stroke="#1a1a1a" stroke-opacity="0.35" stroke-width="0.8"/>
<circle cx="36.5" cy="71.3" r="1.5" fill="#f0f0f0" fill-opacity="0.28" stroke="#1a1a1a" stroke-opacity="0.17" stroke-width="1.9"/>
<circle cx="36.5" cy="71.3" r="1.5" fill="none" stroke="#1a1a1a" stroke-opacity="0.38" stroke-width="0.8"/>
<circle cx="34.8" cy="77.0" r="2.1" fill="#f0f0f0" fill-opacity="0.31" stroke="#1a1a1a" stroke-opacity="0.16" stroke-width="1.9"/>
<circle cx="34.8" cy="77.0" r="2.1" fill="none" stroke="#1a1a1a" stroke-opacity="0.36" stroke-width="0.8"/>
<circle cx="37.5" cy="74.5" r="1.2" fill="#f0f0f0" fill-opacity="0.35" stroke="#1a1a1a" stroke-opacity="0.17" stroke-width="1.9"/>
<circle cx="37.5" cy="74.5" r="1.2" fill="none" stroke="#1a1a1a" stroke-opacity="0.38" stroke-width="0.8"/>
<circle cx="42.9" cy="90.4" r="1.4" fill="#f0f0f0" fill-opacity="0.44" stroke="#1a1a1a" stroke-opacity="0.21" stroke-width="1.9"/>
<circle cx="42.9" cy="90.4" r="1.4" fill="none" stroke="#1a1a1a" stroke-opacity="0.46" stroke-width="0.8"/>
<circle cx="39.8" cy="87.5" r="1.6" fill="#f0f0f0" fill-opacity="0.15" stroke="#1a1a1a" stroke-opacity="0.21" stroke-width="1.9"/>
<circle cx="39.8" cy="87.5" r="1.6" fill="none" stroke="#1a1a1a" stroke-opacity="0.47" stroke-width="0.8"/>
<circle cx="41.7" cy="88.7" r="1.6" fill="#f0f0f0" fill-opacity="0.42" stroke="#1a1a1a" stroke-opacity="0.21" stroke-width="1.9"/>
<circle cx="41.7" cy="88.7" r="1.6" fill="none" stroke="#1a1a1a" stroke-opacity="0.48" stroke-width="0.8"/>
<circle cx="33.7" cy="86.6" r="1.7" fill="#f0f0f0" fill-opacity="0.39" stroke="#1a1a1a" stroke-opacity="0.16" stroke-width="1.9"/>
<circle cx="33.7" cy="86.6" r="1.7" fill="none" stroke="#1a1a1a" stroke-opacity="0.36" stroke-width="0.8"/>
<circle cx="33.3" cy="99.0" r="1.8" fill="#f0f0f0" fill-opacity="0.48" stroke="#1a1a1a" stroke-opacity="0.14" stroke-width="1.9"/>
<circle cx="33.3" cy="99.0" r="1.8" fill="none" stroke="#1a1a1a" stroke-opacity="0.32" stroke-width="0.8"/>
<circle cx="33.6" cy="95.3" r="1.1" fill="#f0f0f0" fill-opacity="0.29" stroke="#1a1a1a" stroke-opacity="0.15" stroke-width="1.9"/>
<circle cx="33.6" cy="95.3" r="1.1" fill="none" stroke="#1a1a1a" stroke-opacity="0.32" stroke-width="0.8"/>
<circle cx="32.0" cy="96.6" r="2.1" fill="#f0f0f0" fill-opacity="0.32" stroke="#1a1a1a" stroke-opacity="0.22" stroke-width="1.9"/>
<circle cx="32.0" cy="96.6" r="2.1" fill="none" stroke="#1a1a1a" stroke-opacity="0.49" stroke-width="0.8"/>
<circle cx="31.7" cy="99.0" r="2.3" fill="#f0f0f0" fill-opacity="0.34" stroke="#1a1a1a" stroke-opacity="0.14" stroke-width="1.9"/>
<circle cx="31.7" cy="99.0" r="2.3" fill="none" stroke="#1a1a1a" stroke-opacity="0.32" stroke-width="0.8"/>
<circle cx="43.1" cy="63.2" r="1.4" fill="#f0f0f0" fill-opacity="0.44" stroke="#1a1a1a" stroke-opacity="0.22" stroke-width="1.9"/>
<circle cx="43.1" cy="63.2" r="1.4" fill="none" stroke="#1a1a1a" stroke-opacity="0.49" stroke-width="0.8"/>
<circle cx="42.3" cy="63.9" r="2.2" fill="#f0f0f0" fill-opacity="0.44" stroke="#1a1a1a" stroke-opacity="0.19" stroke-width="1.9"/>
<circle cx="42.3" cy="63.9" r="2.2" fill="none" stroke="#1a1a1a" stroke-opacity="0.41" stroke-width="0.8"/>
<circle cx="47.1" cy="63.7" r="1.5" fill="#f0f0f0" fill-opacity="0.25" stroke="#1a1a1a" stroke-opacity="0.12" stroke-width="1.9"/>
<circle cx="47.1" cy="63.7" r="1.5" fill="none" stroke="#1a1a1a" stroke-opacity="0.26" stroke-width="0.8"/>
<circle cx="55.9" cy="98.5" r="1.2" fill="#f0f0f0" fill-opacity="0.37" stroke="#1a1a1a" stroke-opacity="0.12" stroke-width="1.9"/>
<circle cx="55.9" cy="98.5" r="1.2" fill="none" stroke="#1a1a1a" stroke-opacity="0.27" stroke-width="0.8"/>
<circle cx="57.2" cy="97.5" r="2.3" fill="#f0f0f0" fill-opacity="0.16" stroke="#1a1a1a" stroke-opacity="0.18" stroke-width="1.9"/>
<circle cx="57.2" cy="97.5" r="2.3" fill="none" stroke="#1a1a1a" stroke-opacity="0.40" stroke-width="0.8"/>
<circle cx="54.9" cy="101.2" r="1.4" fill="#f0f0f0" fill-opacity="0.15" stroke="#1a1a1a" stroke-opacity="0.19" stroke-width="1.9"/>
<circle cx="54.9" cy="101.2" r="1.4" fill="none" stroke="#1a1a1a" stroke-opacity="0.41" stroke-width="0.8"/>
<circle cx="57.2" cy="103.3" r="1.8" fill="#f0f0f0" fill-opacity="0.22" stroke="#1a1a1a" stroke-opacity="0.18" stroke-width="1.9"/>
<circle cx="57.2" cy="103.3" r="1.8" fill="none" stroke="#1a1a1a" stroke-opacity="0.41" stroke-width="0.8"/>
<circle cx="67.6" cy="104.8" r="1.3" fill="#f0f0f0" fill-opacity="0.34" stroke="#1a1a1a" stroke-opacity="0.18" stroke-width="1.9"/>
<circle cx="67.6" cy="104.8" r="1.3" fill="none" stroke="#1a1a1a" stroke-opacity="0.40" stroke-width="0.8"/>
<circle cx="76.2" cy="104.6" r="1.5" fill="#f0f0f0" fill-opacity="0.20" stroke="#1a1a1a" stroke-opacity="0.11" stroke-width="1.9"/>
<circle cx="76.2" cy="104.6" r="1.5" fill="none" stroke="#1a1a1a" stroke-opacity="0.25" stroke-width="0.8"/>
<circle cx="71.8" cy="103.9" r="1.1" fill="#f0f0f0" fill-opacity="0.33" stroke="#1a1a1a" stroke-opacity="0.12" stroke-width="1.9"/>
<circle cx="71.8" cy="103.9" r="1.1" fill="none" stroke="#1a1a1a" stroke-opacity="0.27" stroke-width="0.8"/>
<circle cx="73.9" cy="100.5" r="2.0" fill="#f0f0f0" fill-opacity="0.15" stroke="#1a1a1a" stroke-opacity="0.11" stroke-width="1.9"/>
<circle cx="73.9" cy="100.5" r="2.0" fill="none" stroke="#1a1a1a" stroke-opacity="0.24" stroke-width="0.8"/>
<circle cx="72.1" cy="102.3" r="1.9" fill="#f0f0f0" fill-opacity="0.21" stroke="#1a1a1a" stroke-opacity="0.14" stroke-width="1.9"/>
<circle cx="72.1" cy="102.3" r="1.9" fill="none" stroke="#1a1a1a" stroke-opacity="0.32" stroke-width="0.8"/>
<circle cx="71.7" cy="105.5" r="2.2" fill="#f0f0f0" fill-opacity="0.27" stroke="#1a1a1a" stroke-opacity="0.17" stroke-width="1.9"/>
<circle cx="71.7" cy="105.5" r="2.2" fill="none" stroke="#1a1a1a" stroke-opacity="0.38" stroke-width="0.8"/>
<circle cx="76.5" cy="106.5" r="1.1" fill="#f0f0f0" fill-opacity="0.35" stroke="#1a1a1a" stroke-opacity="0.21" stroke-width="1.9"/>
<circle cx="76.5" cy="106.5" r="1.1" fill="none" stroke="#1a1a1a" stroke-opacity="0.47" stroke-width="0.8"/>
<circle cx="81.5" cy="105.0" r="1.8" fill="#f0f0f0" fill-opacity="0.17" stroke="#1a1a1a" stroke-opacity="0.13" stroke-width="1.9"/>
<circle cx="81.5" cy="105.0" r="1.8" fill="none" stroke="#1a1a1a" stroke-opacity="0.29" stroke-width="0.8"/>
<circle cx="83.6" cy="103.5" r="1.4" fill="#f0f0f0" fill-opacity="0.44" stroke="#1a1a1a" stroke-opacity="0.21" stroke-width="1.9"/>
<circle cx="83.6" cy="103.5" r="1.4" fill="none" stroke="#1a1a1a" stroke-opacity="0.47" stroke-width="0.8"/>
<circle cx="77.6" cy="109.3" r="2.2" fill="#f0f0f0" fill-opacity="0.48" stroke="#1a1a1a" stroke-opacity="0.16" stroke-width="1.9"/>
<circle cx="77.6" cy="109.3" r="2.2" fill="none" stroke="#1a1a1a" stroke-opacity="0.36" stroke-width="0.8"/>
<circle cx="78.9" cy="108.1" r="1.9" fill="#f0f0f0" fill-opacity="0.26" stroke="#1a1a1a" stroke-opacity="0.13" stroke-width="1.9"/>
<circle cx="78.9" cy="108.1" r="1.9" fill="none" stroke="#1a1a1a" stroke-opacity="0.28" stroke-width="0.8"/>
<circle cx="49.4" cy="58.4" r="2.0" fill="#f0f0f0" fill-opacity="0.21" stroke="#1a1a1a" stroke-opacity="0.13" stroke-width="1.9"/>
<circle cx="49.4" cy="58.4" r="2.0" fill="none" stroke="#1a1a1a" stroke-opacity="0.29" stroke-width="0.8"/>
<circle cx="47.2" cy="60.7" r="2.3" fill="#f0f0f0" fill-opacity="0.35" stroke="#1a1a1a" stroke-opacity="0.14" stroke-width="1.9"/>
<circle cx="47.2" cy="60.7" r="2.3" fill="none" stroke="#1a1a1a" stroke-opacity="0.30" stroke-width="0.8"/>
<circle cx="49.7" cy="61.7" r="1.5" fill="#f0f0f0" fill-opacity="0.17" stroke="#1a1a1a" stroke-opacity="0.15" stroke-width="1.9"/>
<circle cx="49.7" cy="61.7" r="1.5" fill="none" stroke="#1a1a1a" stroke-opacity="0.33" stroke-width="0.8"/>
<circle cx="50.6" cy="62.8" r="1.5" fill="#f0f0f0" fill-opacity="0.22" stroke="#1a1a1a" stroke-opacity="0.13" stroke-width="1.9"/>
<circle cx="50.6" cy="62.8" r="1.5" fill="none" stroke="#1a1a1a" stroke-opacity="0.29" stroke-width="0.8"/>
<circle cx="117.5" cy="85.1" r="1.0" fill="#f0f0f0" fill-opacity="0.27" stroke="#1a1a1a" stroke-opacity="0.18" stroke-width="1.9"/>
<circle cx="117.5" cy="85.1" r="1.0" fill="none" stroke="#1a1a1a" stroke-opacity="0.41" stroke-width="0.8"/>
<circle cx="119.9" cy="86.9" r="1.1" fill="#f0f0f0" fill-opacity="0.44" stroke="#1a1a1a" stroke-opacity="0.13" stroke-width="1.9"/>
<circle cx="119.9" cy="86.9" r="1.1" fill="none" stroke="#1a1a1a" stroke-opacity="0.30" stroke-width="0.8"/>
<circle cx="119.4" cy="85.5" r="2.1" fill="#f0f0f0" fill-opacity="0.21" stroke="#1a1a1a" stroke-opacity="0.20" stroke-width="1.9"/>
<circle cx="119.4" cy="85.5" r="2.1" fill="none" stroke="#1a1a1a" stroke-opacity="0.45" stroke-width="0.8"/>
<circle cx="115.5" cy="86.9" r="1.5" fill="#f0f0f0" fill-opacity="0.22" stroke="#1a1a1a" stroke-opacity="0.22" stroke-width="1.9"/>
<circle cx="115.5" cy="86.9" r="1.5" fill="none" stroke="#1a1a1a" stroke-opacity="0.49" stroke-width="0.8"/>
<circle cx="118.3" cy="100.9" r="1.3" fill="#f0f0f0" fill-opacity="0.20" stroke="#1a1a1a" stroke-opacity="0.16" stroke-width="1.9"/>
<circle cx="118.3" cy="100.9" r="1.3" fill="none" stroke="#1a1a1a" stroke-opacity="0.35" stroke-width="0.8"/>
<circle cx="115.4" cy="100.4" r="2.2" fill="#f0f0f0" fill-opacity="0.28" stroke="#1a1a1a" stroke-opacity="0.17" stroke-width="1.9"/>
<circle cx="115.4" cy="100.4" r="2.2" fill="none" stroke="#1a1a1a" stroke-opacity="0.38" stroke-width="0.8"/>
<circle cx="115.9" cy="105.0" r="1.3" fill="#f0f0f0" fill-opacity="0.19" stroke="#1a1a1a" stroke-opacity="0.21" stroke-width="1.9"/>
<circle cx="115.9" cy="105.0" r="1.3" fill="none" stroke="#1a1a1a" stroke-opacity="0.46" stroke-width="0.8"/>
<circle cx="112.9" cy="101.5" r="1.4" fill="#f0f0f0" fill-opacity="0.28" stroke="#1a1a1a" stroke-opacity="0.20" stroke-width="1.9"/>
<circle cx="112.9" cy="101.5" r="1.4" fill="none" stroke="#1a1a1a" stroke-opacity="0.44" stroke-width="0.8"/>
<circle cx="46.3" cy="23.9" r="1.4" fill="#f0f0f0" fill-opacity="0.18" stroke="#1a1a1a" stroke-opacity="0.15" stroke-width="1.9"/>
<circle cx="46.3" cy="23.9" r="1.4" fill="none" stroke="#1a1a1a" stroke-opacity="0.33" stroke-width="0.8"/>
<circle cx="49.6" cy="29.9" r="1.4" fill="#f0f0f0" fill-opacity="0.19" stroke="#1a1a1a" stroke-opacity="0.18" stroke-width="1.9"/>
<circle cx="49.6" cy="29.9" r="1.4" fill="none" stroke="#1a1a1a" stroke-opacity="0.41" stroke-width="0.8"/>
<circle cx="46.2" cy="25.5" r="1.7" fill="#f0f0f0" fill-opacity="0.17" stroke="#1a1a1a" stroke-opacity="0.14" stroke-width="1.9"/>
<circle cx="46.2" cy="25.5" r="1.7" fill="none" stroke="#1a1a1a" stroke-opacity="0.30" stroke-width="0.8"/>
<circle cx="53.9" cy="31.8" r="0.9" fill="#f4f4f4" fill-opacity="0.18" stroke="#333" stroke-opacity="0.13" stroke-width="1.7"/>
<circle cx="53.9" cy="31.8" r="0.9" fill="none" stroke="#333" stroke-opacity="0.30" stroke-width="0.7"/>
<circle cx="63.1" cy="99.6" r="1.6" fill="#f4f4f4" fill-opacity="0.36" stroke="#333" stroke-opacity="0.15" stroke-width="1.7"/>
<circle cx="63.1" cy="99.6" r="1.6" fill="none" stroke="#333" stroke-opacity="0.33" stroke-width="0.7"/>
<circle cx="36.0" cy="36.8" r="0.8" fill="#f4f4f4" fill-opacity="0.30" stroke="#333" stroke-opacity="0.13" stroke-width="1.7"/>
<circle cx="36.0" cy="36.8" r="0.8" fill="none" stroke="#333" stroke-opacity="0.29" stroke-width="0.7"/>
<circle cx="57.9" cy="50.3" r="1.5" fill="#f4f4f4" fill-opacity="0.17" stroke="#333" stroke-opacity="0.13" stroke-width="1.7"/>
<circle cx="57.9" cy="50.3" r="1.5" fill="none" stroke="#333" stroke-opacity="0.29" stroke-width="0.7"/>
<circle cx="107.5" cy="44.3" r="1.4" fill="#f4f4f4" fill-opacity="0.13" stroke="#333" stroke-opacity="0.08" stroke-width="1.7"/>
<circle cx="107.5" cy="44.3" r="1.4" fill="none" stroke="#333" stroke-opacity="0.18" stroke-width="0.7"/>
<circle cx="114.1" cy="82.3" r="1.5" fill="#f4f4f4" fill-opacity="0.11" stroke="#333" stroke-opacity="0.07" stroke-width="1.7"/>
<circle cx="114.1" cy="82.3" r="1.5" fill="none" stroke="#333" stroke-opacity="0.15" stroke-width="0.7"/>
<circle cx="39.0" cy="29.0" r="1.1" fill="#f4f4f4" fill-opacity="0.11" stroke="#333" stroke-opacity="0.10" stroke-width="1.7"/>
<circle cx="39.0" cy="29.0" r="1.1" fill="none" stroke="#333" stroke-opacity="0.22" stroke-width="0.7"/>
<circle cx="53.9" cy="72.7" r="1.0" fill="#f4f4f4" fill-opacity="0.27" stroke="#333" stroke-opacity="0.15" stroke-width="1.7"/>
<circle cx="53.9" cy="72.7" r="1.0" fill="none" stroke="#333" stroke-opacity="0.32" stroke-width="0.7"/>
<circle cx="94.5" cy="34.6" r="1.2" fill="#f4f4f4" fill-opacity="0.20" stroke="#333" stroke-opacity="0.13" stroke-width="1.7"/>
<circle cx="94.5" cy="34.6" r="1.2" fill="none" stroke="#333" stroke-opacity="0.29" stroke-width="0.7"/>
<circle cx="22.9" cy="92.2" r="1.6" fill="#f4f4f4" fill-opacity="0.11" stroke="#333" stroke-opacity="0.09" stroke-width="1.7"/>
<circle cx="22.9" cy="92.2" r="1.6" fill="none" stroke="#333" stroke-opacity="0.20" stroke-width="0.7"/>
<circle cx="108.2" cy="69.7" r="0.8" fill="#f4f4f4" fill-opacity="0.13" stroke="#333" stroke-opacity="0.09" stroke-width="1.7"/>
<circle cx="108.2" cy="69.7" r="0.8" fill="none" stroke="#333" stroke-opacity="0.19" stroke-width="0.7"/>
<circle cx="101.9" cy="30.2" r="1.7" fill="#f4f4f4" fill-opacity="0.13" stroke="#333" stroke-opacity="0.14" stroke-width="1.7"/>
<circle cx="101.9" cy="30.2" r="1.7" fill="none" stroke="#333" stroke-opacity="0.30" stroke-width="0.7"/>
<circle cx="92.3" cy="48.4" r="1.5" fill="#f4f4f4" fill-opacity="0.18" stroke="#333" stroke-opacity="0.15" stroke-width="1.7"/>
<circle cx="92.3" cy="48.4" r="1.5" fill="none" stroke="#333" stroke-opacity="0.32" stroke-width="0.7"/>
<circle cx="31.8" cy="103.4" r="1.2" fill="#f4f4f4" fill-opacity="0.31" stroke="#333" stroke-opacity="0.16" stroke-width="1.7"/>
<circle cx="31.8" cy="103.4" r="1.2" fill="none" stroke="#333" stroke-opacity="0.34" stroke-width="0.7"/>
<circle cx="96.7" cy="91.8" r="1.4" fill="#f4f4f4" fill-opacity="0.12" stroke="#333" stroke-opacity="0.11" stroke-width="1.7"/>
<circle cx="96.7" cy="91.8" r="1.4" fill="none" stroke="#333" stroke-opacity="0.24" stroke-width="0.7"/>
<circle cx="92.6" cy="51.9" r="1.3" fill="#f4f4f4" fill-opacity="0.14" stroke="#333" stroke-opacity="0.15" stroke-width="1.7"/>
<circle cx="92.6" cy="51.9" r="1.3" fill="none" stroke="#333" stroke-opacity="0.34" stroke-width="0.7"/>
<circle cx="99.0" cy="13.6" r="1.5" fill="#f4f4f4" fill-opacity="0.18" stroke="#333" stroke-opacity="0.14" stroke-width="1.7"/>
<circle cx="99.0" cy="13.6" r="1.5" fill="none" stroke="#333" stroke-opacity="0.32" stroke-width="0.7"/>
<circle cx="77.4" cy="105.7" r="1.4" fill="#f4f4f4" fill-opacity="0.17" stroke="#333" stroke-opacity="0.12" stroke-width="1.7"/>
<circle cx="77.4" cy="105.7" r="1.4" fill="none" stroke="#333" stroke-opacity="0.26" stroke-width="0.7"/>
<circle cx="28.7" cy="44.9" r="1.2" fill="#f4f4f4" fill-opacity="0.19" stroke="#333" stroke-opacity="0.08" stroke-width="1.7"/>
<circle cx="28.7" cy="44.9" r="1.2" fill="none" stroke="#333" stroke-opacity="0.18" stroke-width="0.7"/>
<circle cx="36.5" cy="79.6" r="1.5" fill="#f4f4f4" fill-opacity="0.17" stroke="#333" stroke-opacity="0.09" stroke-width="1.7"/>
<circle cx="36.5" cy="79.6" r="1.5" fill="none" stroke="#333" stroke-opacity="0.19" stroke-width="0.7"/>
<circle cx="74.3" cy="53.5" r="1.7" fill="#f4f4f4" fill-opacity="0.19" stroke="#333" stroke-opacity="0.10" stroke-width="1.7"/>
<circle cx="74.3" cy="53.5" r="1.7" fill="none" stroke="#333" stroke-opacity="0.22" stroke-width="0.7"/>
<circle cx="111.3" cy="23.4" r="1.4" fill="#f4f4f4" fill-opacity="0.34" stroke="#333" stroke-opacity="0.10" stroke-width="1.7"/>
<circle cx="111.3" cy="23.4" r="1.4" fill="none" stroke="#333" stroke-opacity="0.21" stroke-width="0.7"/>
<circle cx="77.6" cy="84.9" r="1.0" fill="#f4f4f4" fill-opacity="0.28" stroke="#333" stroke-opacity="0.13" stroke-width="1.7"/>
<circle cx="77.6" cy="84.9" r="1.0" fill="none" stroke="#333" stroke-opacity="0.29" stroke-width="0.7"/>
<circle cx="68.9" cy="85.5" r="1.6" fill="#f4f4f4" fill-opacity="0.19" stroke="#333" stroke-opacity="0.07" stroke-width="1.7"/>
<circle cx="68.9" cy="85.5" r="1.6" fill="none" stroke="#333" stroke-opacity="0.17" stroke-width="0.7"/>
<circle cx="58.8" cy="29.8" r="0.9" fill="#f4f4f4" fill-opacity="0.16" stroke="#333" stroke-opacity="0.09" stroke-width="1.7"/>
<circle cx="58.8" cy="29.8" r="0.9" fill="none" stroke="#333" stroke-opacity="0.20" stroke-width="0.7"/>
<circle cx="93.0" cy="53.8" r="0.9" fill="#f4f4f4" fill-opacity="0.24" stroke="#333" stroke-opacity="0.10" stroke-width="1.7"/>
<circle cx="93.0" cy="53.8" r="0.9" fill="none" stroke="#333" stroke-opacity="0.21" stroke-width="0.7"/>
<circle cx="59.1" cy="26.0" r="0.9" fill="#f4f4f4" fill-opacity="0.40" stroke="#333" stroke-opacity="0.06" stroke-width="1.7"/>
<circle cx="59.1" cy="26.0" r="0.9" fill="none" stroke="#333" stroke-opacity="0.14" stroke-width="0.7"/>
<circle cx="97.8" cy="17.6" r="1.5" fill="#f4f4f4" fill-opacity="0.27" stroke="#333" stroke-opacity="0.16" stroke-width="1.7"/>
<circle cx="97.8" cy="17.6" r="1.5" fill="none" stroke="#333" stroke-opacity="0.36" stroke-width="0.7"/>
<circle cx="33.7" cy="57.9" r="1.2" fill="#f4f4f4" fill-opacity="0.26" stroke="#333" stroke-opacity="0.08" stroke-width="1.7"/>
<circle cx="33.7" cy="57.9" r="1.2" fill="none" stroke="#333" stroke-opacity="0.18" stroke-width="0.7"/>
<circle cx="23.6" cy="100.7" r="1.4" fill="#f4f4f4" fill-opacity="0.38" stroke="#333" stroke-opacity="0.13" stroke-width="1.7"/>
<circle cx="23.6" cy="100.7" r="1.4" fill="none" stroke="#333" stroke-opacity="0.28" stroke-width="0.7"/>
<circle cx="88.1" cy="34.3" r="1.0" fill="#f4f4f4" fill-opacity="0.11" stroke="#333" stroke-opacity="0.08" stroke-width="1.7"/>
<circle cx="88.1" cy="34.3" r="1.0" fill="none" stroke="#333" stroke-opacity="0.17" stroke-width="0.7"/>
<circle cx="100.2" cy="92.8" r="1.1" fill="#f4f4f4" fill-opacity="0.29" stroke="#333" stroke-opacity="0.08" stroke-width="1.7"/>
<circle cx="100.2" cy="92.8" r="1.1" fill="none" stroke="#333" stroke-opacity="0.18" stroke-width="0.7"/>
<circle cx="107.4" cy="101.4" r="1.0" fill="#f4f4f4" fill-opacity="0.35" stroke="#333" stroke-opacity="0.14" stroke-width="1.7"/>
<circle cx="107.4" cy="101.4" r="1.0" fill="none" stroke="#333" stroke-opacity="0.31" stroke-width="0.7"/>
<circle cx="97.0" cy="41.8" r="1.0" fill="#f4f4f4" fill-opacity="0.20" stroke="#333" stroke-opacity="0.14" stroke-width="1.7"/>
<circle cx="97.0" cy="41.8" r="1.0" fill="none" stroke="#333" stroke-opacity="0.32" stroke-width="0.7"/>
<circle cx="59.7" cy="64.1" r="1.2" fill="#f4f4f4" fill-opacity="0.17" stroke="#333" stroke-opacity="0.15" stroke-width="1.7"/>
<circle cx="59.7" cy="64.1" r="1.2" fill="none" stroke="#333" stroke-opacity="0.32" stroke-width="0.7"/>
<circle cx="26.9" cy="65.6" r="1.4" fill="#f4f4f4" fill-opacity="0.31" stroke="#333" stroke-opacity="0.14" stroke-width="1.7"/>
<circle cx="26.9" cy="65.6" r="1.4" fill="none" stroke="#333" stroke-opacity="0.32" stroke-width="0.7"/>
<circle cx="113.3" cy="103.2" r="1.3" fill="#f4f4f4" fill-opacity="0.15" stroke="#333" stroke-opacity="0.11" stroke-width="1.7"/>
<circle cx="113.3" cy="103.2" r="1.3" fill="none" stroke="#333" stroke-opacity="0.25" stroke-width="0.7"/>
<circle cx="52.8" cy="67.1" r="0.9" fill="#f4f4f4" fill-opacity="0.15" stroke="#333" stroke-opacity="0.13" stroke-width="1.7"/>
<circle cx="52.8" cy="67.1" r="0.9" fill="none" stroke="#333" stroke-opacity="0.29" stroke-width="0.7"/>
<circle cx="67.1" cy="105.7" r="0.9" fill="#f4f4f4" fill-opacity="0.23" stroke="#333" stroke-opacity="0.07" stroke-width="1.7"/>
<circle cx="67.1" cy="105.7" r="0.9" fill="none" stroke="#333" stroke-opacity="0.15" stroke-width="0.7"/>
<circle cx="41.9" cy="81.2" r="0.8" fill="#f4f4f4" fill-opacity="0.36" stroke="#333" stroke-opacity="0.15" stroke-width="1.7"/>
<circle cx="41.9" cy="81.2" r="0.8" fill="none" stroke="#333" stroke-opacity="0.32" stroke-width="0.7"/>
<circle cx="101.5" cy="51.6" r="1.1" fill="#f4f4f4" fill-opacity="0.25" stroke="#333" stroke-opacity="0.13" stroke-width="1.7"/>
<circle cx="101.5" cy="51.6" r="1.1" fill="none" stroke="#333" stroke-opacity="0.29" stroke-width="0.7"/>
<circle cx="64.9" cy="43.0" r="1.2" fill="#f4f4f4" fill-opacity="0.35" stroke="#333" stroke-opacity="0.13" stroke-width="1.7"/>
<circle cx="64.9" cy="43.0" r="1.2" fill="none" stroke="#333" stroke-opacity="0.29" stroke-width="0.7"/>
<circle cx="113.2" cy="25.6" r="1.1" fill="#f4f4f4" fill-opacity="0.27" stroke="#333" stroke-opacity="0.11" stroke-width="1.7"/>
<circle cx="113.2" cy="25.6" r="1.1" fill="none" stroke="#333" stroke-opacity="0.24" stroke-width="0.7"/>
<circle cx="57.6" cy="28.7" r="0.9" fill="#f4f4f4" fill-opacity="0.24" stroke="#333" stroke-opacity="0.10" stroke-width="1.7"/>
<circle cx="57.6" cy="28.7" r="0.9" fill="none" stroke="#333" stroke-opacity="0.21" stroke-width="0.7"/>
<circle cx="119.9" cy="99.6" r="1.7" fill="#f4f4f4" fill-opacity="0.39" stroke="#333" stroke-opacity="0.16" stroke-width="1.7"/>
<circle cx="119.9" cy="99.6" r="1.7" fill="none" stroke="#333" stroke-opacity="0.35" stroke-width="0.7"/>
<circle cx="84.8" cy="89.9" r="0.9" fill="#f4f4f4" fill-opacity="0.28" stroke="#333" stroke-opacity="0.13" stroke-width="1.7"/>
<circle cx="84.8" cy="89.9" r="0.9" fill="none" stroke="#333" stroke-opacity="0.29" stroke-width="0.7"/>
<circle cx="52.5" cy="66.1" r="1.8" fill="#f4f4f4" fill-opacity="0.29" stroke="#333" stroke-opacity="0.11" stroke-width="1.7"/>
<circle cx="52.5" cy="66.1" r="1.8" fill="none" stroke="#333" stroke-opacity="0.25" stroke-width="0.7"/>
<circle cx="52.7" cy="43.4" r="1.7" fill="#f4f4f4" fill-opacity="0.16" stroke="#333" stroke-opacity="0.07" stroke-width="1.7"/>
<circle cx="52.7" cy="43.4" r="1.7" fill="none" stroke="#333" stroke-opacity="0.15" stroke-width="0.7"/>
<circle cx="90.7" cy="53.8" r="0.9" fill="#f4f4f4" fill-opacity="0.21" stroke="#333" stroke-opacity="0.13" stroke-width="1.7"/>
<circle cx="90.7" cy="53.8" r="0.9" fill="none" stroke="#333" stroke-opacity="0.29" stroke-width="0.7"/>
<circle cx="80.9" cy="50.7" r="1.3" fill="#f4f4f4" fill-opacity="0.22" stroke="#333" stroke-opacity="0.12" stroke-width="1.7"/>
<circle cx="80.9" cy="50.7" r="1.3" fill="none" stroke="#333" stroke-opacity="0.26" stroke-width="0.7"/>
<circle cx="34.2" cy="27.2" r="1.7" fill="#f4f4f4" fill-opacity="0.13" stroke="#333" stroke-opacity="0.12" stroke-width="1.7"/>
<circle cx="34.2" cy="27.2" r="1.7" fill="none" stroke="#333" stroke-opacity="0.26" stroke-width="0.7"/>
<circle cx="109.0" cy="34.5" r="0.9" fill="#f4f4f4" fill-opacity="0.18" stroke="#333" stroke-opacity="0.12" stroke-width="1.7"/>
<circle cx="109.0" cy="34.5" r="0.9" fill="none" stroke="#333" stroke-opacity="0.26" stroke-width="0.7"/>
<circle cx="71.7" cy="64.4" r="1.0" fill="#f4f4f4" fill-opacity="0.13" stroke="#333" stroke-opacity="0.12" stroke-width="1.7"/>
<circle cx="71.7" cy="64.4" r="1.0" fill="none" stroke="#333" stroke-opacity="0.27" stroke-width="0.7"/>
<circle cx="74.1" cy="67.8" r="0.9" fill="#f4f4f4" fill-opacity="0.12" stroke="#333" stroke-opacity="0.10" stroke-width="1.7"/>
<circle cx="74.1" cy="67.8" r="0.9" fill="none" stroke="#333" stroke-opacity="0.23" stroke-width="0.7"/>
<circle cx="66.8" cy="95.1" r="1.4" fill="#f4f4f4" fill-opacity="0.33" stroke="#333" stroke-opacity="0.13" stroke-width="1.7"/>
<circle cx="66.8" cy="95.1" r="1.4" fill="none" stroke="#333" stroke-opacity="0.30" stroke-width="0.7"/>
<circle cx="34.3" cy="107.8" r="1.5" fill="#f4f4f4" fill-opacity="0.35" stroke="#333" stroke-opacity="0.07" stroke-width="1.7"/>
<circle cx="34.3" cy="107.8" r="1.5" fill="none" stroke="#333" stroke-opacity="0.16" stroke-width="0.7"/>
<circle cx="62.0" cy="26.3" r="1.8" fill="#f4f4f4" fill-opacity="0.33" stroke="#333" stroke-opacity="0.12" stroke-width="1.7"/>
<circle cx="62.0" cy="26.3" r="1.8" fill="none" stroke="#333" stroke-opacity="0.26" stroke-width="0.7"/>
<circle cx="36.5" cy="86.5" r="0.9" fill="#f4f4f4" fill-opacity="0.21" stroke="#333" stroke-opacity="0.09" stroke-width="1.7"/>
<circle cx="36.5" cy="86.5" r="0.9" fill="none" stroke="#333" stroke-opacity="0.19" stroke-width="0.7"/>
<circle cx="24.3" cy="68.4" r="1.0" fill="#f4f4f4" fill-opacity="0.31" stroke="#333" stroke-opacity="0.09" stroke-width="1.7"/>
<circle cx="24.3" cy="68.4" r="1.0" fill="none" stroke="#333" stroke-opacity="0.21" stroke-width="0.7"/>
<circle cx="65.4" cy="97.6" r="1.4" fill="#f4f4f4" fill-opacity="0.27" stroke="#333" stroke-opacity="0.15" stroke-width="1.7"/>
<circle cx="65.4" cy="97.6" r="1.4" fill="none" stroke="#333" stroke-opacity="0.33" stroke-width="0.7"/>
</g>
<rect x="22.8" y="9.3" width="100.0" height="99.4" filter="url(#mott)" opacity="0.3"/>
</g>
<rect x="98.80" y="100.90" width="21.80" height="1.80" fill="#111"/>
<g clip-path="url(#clipD)">
<rect x="23.60" y="167.30" width="99.60" height="99.00" fill="#d0d0d0"/>
<g filter="url(#b2)">
<circle cx="117.2" cy="171.3" r="6.1" fill="#333" fill-opacity="0.29"/>
<circle cx="109.3" cy="176.2" r="4.1" fill="#333" fill-opacity="0.16"/>
<circle cx="87.3" cy="182.2" r="4.1" fill="#333" fill-opacity="0.18"/>
<circle cx="83.4" cy="170.3" r="4.4" fill="#333" fill-opacity="0.16"/>
<circle cx="78.4" cy="195.0" r="5.8" fill="#333" fill-opacity="0.30"/>
<circle cx="86.3" cy="198.0" r="4.8" fill="#333" fill-opacity="0.26"/>
<circle cx="82.4" cy="203.9" r="4.1" fill="#333" fill-opacity="0.21"/>
<circle cx="30.6" cy="189.1" r="4.4" fill="#333" fill-opacity="0.16"/>
<circle cx="36.5" cy="187.1" r="4.1" fill="#333" fill-opacity="0.16"/>
<circle cx="63.4" cy="185.1" r="3.7" fill="#333" fill-opacity="0.14"/>
<circle cx="49.5" cy="205.9" r="3.7" fill="#333" fill-opacity="0.16"/>
<circle cx="60.5" cy="214.8" r="5.1" fill="#333" fill-opacity="0.26"/>
<circle cx="47.5" cy="216.8" r="4.1" fill="#333" fill-opacity="0.16"/>
<circle cx="106.3" cy="212.8" r="5.4" fill="#333" fill-opacity="0.27"/>
<circle cx="117.2" cy="219.8" r="4.1" fill="#333" fill-opacity="0.19"/>
<circle cx="120.2" cy="187.1" r="3.7" fill="#333" fill-opacity="0.16"/>
<circle cx="34.6" cy="229.7" r="4.4" fill="#333" fill-opacity="0.18"/>
<circle cx="49.5" cy="240.6" r="5.1" fill="#333" fill-opacity="0.22"/>
<circle cx="60.5" cy="241.6" r="3.7" fill="#333" fill-opacity="0.16"/>
<circle cx="65.4" cy="251.4" r="5.8" fill="#333" fill-opacity="0.30"/>
<circle cx="73.4" cy="245.5" r="4.1" fill="#333" fill-opacity="0.19"/>
<circle cx="74.4" cy="221.8" r="3.4" fill="#333" fill-opacity="0.14"/>
<circle cx="32.6" cy="258.4" r="4.1" fill="#333" fill-opacity="0.16"/>
<circle cx="54.5" cy="256.4" r="3.4" fill="#333" fill-opacity="0.16"/>
<circle cx="104.3" cy="252.4" r="3.4" fill="#333" fill-opacity="0.13"/>
<circle cx="95.3" cy="229.7" r="3.7" fill="#333" fill-opacity="0.13"/>
<circle cx="43.5" cy="175.2" r="3.4" fill="#333" fill-opacity="0.11"/>
<circle cx="98.3" cy="197.0" r="3.1" fill="#333" fill-opacity="0.10"/>
<circle cx="85.4" cy="236.6" r="3.4" fill="#333" fill-opacity="0.11"/>
<circle cx="28.6" cy="244.5" r="3.4" fill="#333" fill-opacity="0.13"/>
<circle cx="53.5" cy="195.0" r="3.1" fill="#333" fill-opacity="0.10"/>
<circle cx="93.3" cy="216.8" r="3.1" fill="#333" fill-opacity="0.10"/>
<circle cx="78.4" cy="197.0" r="12.0" fill="#444" fill-opacity="0.2"/>
<circle cx="58.5" cy="216.8" r="12.0" fill="#444" fill-opacity="0.18"/>
<circle cx="108.3" cy="211.9" r="9.0" fill="#444" fill-opacity="0.2"/>
<circle cx="58.5" cy="246.5" r="12.0" fill="#444" fill-opacity="0.2"/>
<circle cx="33.6" cy="192.1" r="10.0" fill="#444" fill-opacity="0.18"/>
<circle cx="113.2" cy="175.2" r="9.0" fill="#444" fill-opacity="0.22"/>
<circle cx="35.6" cy="228.7" r="8.0" fill="#444" fill-opacity="0.15"/>
<circle cx="73.4" cy="177.2" r="10.0" fill="#444" fill-opacity="0.12"/>
<circle cx="28.6" cy="263.3" r="13.0" fill="#fff" fill-opacity="0.8"/>
<circle cx="121.2" cy="238.6" r="10.0" fill="#fff" fill-opacity="0.65"/>
<circle cx="88.3" cy="262.3" r="10.0" fill="#fff" fill-opacity="0.55"/>
<circle cx="120.2" cy="202.0" r="6.0" fill="#fff" fill-opacity="0.4"/>
<circle cx="68.4" cy="231.7" r="6.0" fill="#fff" fill-opacity="0.3"/>
<circle cx="98.3" cy="187.1" r="6.0" fill="#fff" fill-opacity="0.3"/>
<circle cx="38.5" cy="206.9" r="5.0" fill="#fff" fill-opacity="0.3"/>
</g>
<g filter="url(#b1)">
<circle cx="117.2" cy="171.3" r="3.6" fill="#161616" fill-opacity="0.81"/>
<circle cx="112.2" cy="172.8" r="1.8" fill="#1c1c1c" fill-opacity="0.41"/>
<circle cx="111.8" cy="171.0" r="1.1" fill="#1c1c1c" fill-opacity="0.42"/>
<circle cx="112.7" cy="166.4" r="1.0" fill="#1c1c1c" fill-opacity="0.36"/>
<circle cx="122.9" cy="174.9" r="1.6" fill="#1c1c1c" fill-opacity="0.29"/>
<circle cx="124.9" cy="170.4" r="1.6" fill="#1c1c1c" fill-opacity="0.45"/>
<circle cx="118.3" cy="172.8" r="1.4" fill="#1c1c1c" fill-opacity="0.30"/>
<circle cx="118.4" cy="174.3" r="0.9" fill="#1c1c1c" fill-opacity="0.41"/>
<circle cx="109.3" cy="176.2" r="2.4" fill="#161616" fill-opacity="0.45"/>
<circle cx="104.9" cy="177.9" r="1.4" fill="#1c1c1c" fill-opacity="0.30"/>
<circle cx="105.4" cy="176.2" r="1.4" fill="#1c1c1c" fill-opacity="0.24"/>
<circle cx="114.5" cy="176.1" r="1.7" fill="#1c1c1c" fill-opacity="0.31"/>
<circle cx="108.4" cy="178.2" r="1.2" fill="#1c1c1c" fill-opacity="0.21"/>
<circle cx="109.5" cy="173.4" r="1.7" fill="#1c1c1c" fill-opacity="0.26"/>
<circle cx="87.3" cy="182.2" r="2.4" fill="#161616" fill-opacity="0.50"/>
<circle cx="91.8" cy="180.9" r="0.9" fill="#1c1c1c" fill-opacity="0.24"/>
<circle cx="90.0" cy="180.5" r="1.9" fill="#1c1c1c" fill-opacity="0.28"/>
<circle cx="90.7" cy="183.8" r="1.7" fill="#1c1c1c" fill-opacity="0.25"/>
<circle cx="89.5" cy="183.5" r="1.9" fill="#1c1c1c" fill-opacity="0.34"/>
<circle cx="89.0" cy="183.6" r="1.0" fill="#1c1c1c" fill-opacity="0.22"/>
<circle cx="83.4" cy="170.3" r="2.6" fill="#161616" fill-opacity="0.45"/>
<circle cx="84.0" cy="168.3" r="1.5" fill="#1c1c1c" fill-opacity="0.27"/>
<circle cx="85.0" cy="174.5" r="1.0" fill="#1c1c1c" fill-opacity="0.30"/>
<circle cx="85.7" cy="172.4" r="1.1" fill="#1c1c1c" fill-opacity="0.24"/>
<circle cx="88.1" cy="169.4" r="1.2" fill="#1c1c1c" fill-opacity="0.33"/>
<circle cx="84.1" cy="173.2" r="1.8" fill="#1c1c1c" fill-opacity="0.30"/>
<circle cx="78.4" cy="195.0" r="3.4" fill="#161616" fill-opacity="0.85"/>
<circle cx="84.4" cy="199.4" r="1.1" fill="#1c1c1c" fill-opacity="0.36"/>
<circle cx="78.9" cy="191.5" r="1.2" fill="#1c1c1c" fill-opacity="0.31"/>
<circle cx="82.7" cy="197.7" r="1.1" fill="#1c1c1c" fill-opacity="0.46"/>
<circle cx="75.4" cy="198.1" r="1.9" fill="#1c1c1c" fill-opacity="0.43"/>
<circle cx="72.4" cy="192.0" r="1.1" fill="#1c1c1c" fill-opacity="0.33"/>
<circle cx="83.8" cy="191.5" r="1.1" fill="#1c1c1c" fill-opacity="0.34"/>
<circle cx="77.9" cy="187.9" r="1.1" fill="#1c1c1c" fill-opacity="0.56"/>
<circle cx="86.3" cy="198.0" r="2.8" fill="#161616" fill-opacity="0.72"/>
<circle cx="89.5" cy="195.1" r="1.3" fill="#1c1c1c" fill-opacity="0.28"/>
<circle cx="92.2" cy="199.4" r="1.1" fill="#1c1c1c" fill-opacity="0.43"/>
<circle cx="86.1" cy="203.3" r="1.5" fill="#1c1c1c" fill-opacity="0.33"/>
<circle cx="88.5" cy="202.3" r="1.0" fill="#1c1c1c" fill-opacity="0.31"/>
<circle cx="81.3" cy="196.0" r="1.5" fill="#1c1c1c" fill-opacity="0.33"/>
<circle cx="88.4" cy="196.8" r="0.9" fill="#1c1c1c" fill-opacity="0.32"/>
<circle cx="84.8" cy="198.6" r="1.1" fill="#1c1c1c" fill-opacity="0.35"/>
<circle cx="82.4" cy="203.9" r="2.4" fill="#161616" fill-opacity="0.59"/>
<circle cx="80.8" cy="203.2" r="1.3" fill="#1c1c1c" fill-opacity="0.40"/>
<circle cx="86.2" cy="203.5" r="1.6" fill="#1c1c1c" fill-opacity="0.34"/>
<circle cx="83.2" cy="205.0" r="0.9" fill="#1c1c1c" fill-opacity="0.41"/>
<circle cx="80.8" cy="199.0" r="0.9" fill="#1c1c1c" fill-opacity="0.35"/>
<circle cx="78.2" cy="204.4" r="1.2" fill="#1c1c1c" fill-opacity="0.42"/>
<circle cx="85.4" cy="205.5" r="1.6" fill="#1c1c1c" fill-opacity="0.41"/>
<circle cx="30.6" cy="189.1" r="2.6" fill="#161616" fill-opacity="0.45"/>
<circle cx="30.2" cy="184.7" r="1.7" fill="#1c1c1c" fill-opacity="0.34"/>
<circle cx="28.0" cy="192.6" r="1.8" fill="#1c1c1c" fill-opacity="0.33"/>
<circle cx="26.4" cy="191.5" r="1.8" fill="#1c1c1c" fill-opacity="0.29"/>
<circle cx="28.5" cy="187.0" r="1.5" fill="#1c1c1c" fill-opacity="0.29"/>
<circle cx="34.2" cy="191.1" r="1.9" fill="#1c1c1c" fill-opacity="0.33"/>
<circle cx="36.5" cy="187.1" r="2.4" fill="#161616" fill-opacity="0.45"/>
<circle cx="36.2" cy="184.3" r="1.6" fill="#1c1c1c" fill-opacity="0.29"/>
<circle cx="32.2" cy="188.8" r="1.0" fill="#1c1c1c" fill-opacity="0.31"/>
<circle cx="40.1" cy="187.8" r="1.4" fill="#1c1c1c" fill-opacity="0.23"/>
<circle cx="35.5" cy="184.0" r="1.5" fill="#1c1c1c" fill-opacity="0.34"/>
<circle cx="36.5" cy="188.3" r="1.2" fill="#1c1c1c" fill-opacity="0.30"/>
<circle cx="63.4" cy="185.1" r="2.2" fill="#161616" fill-opacity="0.41"/>
<circle cx="63.9" cy="186.8" r="1.8" fill="#1c1c1c" fill-opacity="0.28"/>
<circle cx="59.3" cy="186.7" r="1.2" fill="#1c1c1c" fill-opacity="0.28"/>
<circle cx="64.3" cy="187.7" r="1.7" fill="#1c1c1c" fill-opacity="0.31"/>
<circle cx="65.3" cy="183.4" r="1.5" fill="#1c1c1c" fill-opacity="0.23"/>
<circle cx="65.4" cy="187.4" r="1.7" fill="#1c1c1c" fill-opacity="0.30"/>
<circle cx="49.5" cy="205.9" r="2.2" fill="#161616" fill-opacity="0.45"/>
<circle cx="48.4" cy="201.4" r="1.2" fill="#1c1c1c" fill-opacity="0.23"/>
<circle cx="47.5" cy="206.6" r="1.1" fill="#1c1c1c" fill-opacity="0.26"/>
<circle cx="47.4" cy="203.8" r="1.2" fill="#1c1c1c" fill-opacity="0.33"/>
<circle cx="52.3" cy="205.6" r="1.0" fill="#1c1c1c" fill-opacity="0.20"/>
<circle cx="50.4" cy="205.0" r="1.6" fill="#1c1c1c" fill-opacity="0.29"/>
<circle cx="60.5" cy="214.8" r="3.0" fill="#161616" fill-opacity="0.72"/>
<circle cx="58.4" cy="220.0" r="0.9" fill="#1c1c1c" fill-opacity="0.29"/>
<circle cx="58.9" cy="215.3" r="1.7" fill="#1c1c1c" fill-opacity="0.32"/>
<circle cx="61.6" cy="216.2" r="1.5" fill="#1c1c1c" fill-opacity="0.37"/>
<circle cx="57.1" cy="211.3" r="1.7" fill="#1c1c1c" fill-opacity="0.49"/>
<circle cx="59.4" cy="212.5" r="1.4" fill="#1c1c1c" fill-opacity="0.30"/>
<circle cx="64.4" cy="215.1" r="1.6" fill="#1c1c1c" fill-opacity="0.30"/>
<circle cx="60.0" cy="218.1" r="1.6" fill="#1c1c1c" fill-opacity="0.38"/>
<circle cx="47.5" cy="216.8" r="2.4" fill="#161616" fill-opacity="0.45"/>
<circle cx="44.3" cy="214.0" r="1.3" fill="#1c1c1c" fill-opacity="0.32"/>
<circle cx="48.8" cy="215.9" r="1.8" fill="#1c1c1c" fill-opacity="0.31"/>
<circle cx="49.6" cy="219.0" r="1.5" fill="#1c1c1c" fill-opacity="0.34"/>
<circle cx="45.0" cy="219.3" r="1.8" fill="#1c1c1c" fill-opacity="0.32"/>
<circle cx="50.4" cy="215.7" r="1.6" fill="#1c1c1c" fill-opacity="0.23"/>
<circle cx="106.3" cy="212.8" r="3.2" fill="#161616" fill-opacity="0.77"/>
<circle cx="105.2" cy="206.9" r="1.5" fill="#1c1c1c" fill-opacity="0.45"/>
<circle cx="107.8" cy="219.2" r="1.9" fill="#1c1c1c" fill-opacity="0.52"/>
<circle cx="100.5" cy="211.5" r="1.2" fill="#1c1c1c" fill-opacity="0.50"/>
<circle cx="108.4" cy="210.1" r="1.0" fill="#1c1c1c" fill-opacity="0.38"/>
<circle cx="100.8" cy="211.0" r="1.4" fill="#1c1c1c" fill-opacity="0.28"/>
<circle cx="107.0" cy="211.0" r="1.7" fill="#1c1c1c" fill-opacity="0.31"/>
<circle cx="103.3" cy="217.9" r="1.0" fill="#1c1c1c" fill-opacity="0.31"/>
<circle cx="117.2" cy="219.8" r="2.4" fill="#161616" fill-opacity="0.54"/>
<circle cx="113.1" cy="219.3" r="1.7" fill="#1c1c1c" fill-opacity="0.34"/>
<circle cx="120.2" cy="218.7" r="1.8" fill="#1c1c1c" fill-opacity="0.24"/>
<circle cx="117.8" cy="223.1" r="1.2" fill="#1c1c1c" fill-opacity="0.35"/>
<circle cx="115.1" cy="217.2" r="1.7" fill="#1c1c1c" fill-opacity="0.32"/>
<circle cx="116.2" cy="222.3" r="1.7" fill="#1c1c1c" fill-opacity="0.38"/>
<circle cx="118.4" cy="224.3" r="1.9" fill="#1c1c1c" fill-opacity="0.31"/>
<circle cx="120.2" cy="187.1" r="2.2" fill="#161616" fill-opacity="0.45"/>
<circle cx="118.6" cy="186.3" r="1.4" fill="#1c1c1c" fill-opacity="0.28"/>
<circle cx="119.3" cy="186.4" r="1.9" fill="#1c1c1c" fill-opacity="0.28"/>
<circle cx="116.9" cy="189.5" r="1.5" fill="#1c1c1c" fill-opacity="0.27"/>
<circle cx="119.7" cy="185.8" r="1.4" fill="#1c1c1c" fill-opacity="0.26"/>
<circle cx="124.6" cy="185.9" r="1.2" fill="#1c1c1c" fill-opacity="0.27"/>
<circle cx="34.6" cy="229.7" r="2.6" fill="#161616" fill-opacity="0.50"/>
<circle cx="36.8" cy="232.0" r="1.7" fill="#1c1c1c" fill-opacity="0.36"/>
<circle cx="31.9" cy="230.1" r="1.1" fill="#1c1c1c" fill-opacity="0.31"/>
<circle cx="36.2" cy="228.8" r="1.7" fill="#1c1c1c" fill-opacity="0.21"/>
<circle cx="35.3" cy="231.8" r="1.6" fill="#1c1c1c" fill-opacity="0.26"/>
<circle cx="32.1" cy="232.9" r="1.0" fill="#1c1c1c" fill-opacity="0.33"/>
<circle cx="49.5" cy="240.6" r="3.0" fill="#161616" fill-opacity="0.63"/>
<circle cx="52.4" cy="243.4" r="1.2" fill="#1c1c1c" fill-opacity="0.28"/>
<circle cx="45.8" cy="239.9" r="1.3" fill="#1c1c1c" fill-opacity="0.33"/>
<circle cx="47.2" cy="240.1" r="1.1" fill="#1c1c1c" fill-opacity="0.37"/>
<circle cx="46.8" cy="237.3" r="1.8" fill="#1c1c1c" fill-opacity="0.37"/>
<circle cx="51.2" cy="238.5" r="1.6" fill="#1c1c1c" fill-opacity="0.41"/>
<circle cx="52.0" cy="238.8" r="1.2" fill="#1c1c1c" fill-opacity="0.43"/>
<circle cx="60.5" cy="241.6" r="2.2" fill="#161616" fill-opacity="0.45"/>
<circle cx="61.4" cy="246.3" r="1.8" fill="#1c1c1c" fill-opacity="0.22"/>
<circle cx="60.7" cy="245.4" r="1.2" fill="#1c1c1c" fill-opacity="0.21"/>
<circle cx="61.8" cy="239.2" r="1.7" fill="#1c1c1c" fill-opacity="0.22"/>
<circle cx="57.5" cy="243.7" r="0.9" fill="#1c1c1c" fill-opacity="0.23"/>
<circle cx="58.6" cy="237.4" r="1.9" fill="#1c1c1c" fill-opacity="0.22"/>
<circle cx="65.4" cy="251.4" r="3.4" fill="#161616" fill-opacity="0.85"/>
<circle cx="59.4" cy="251.2" r="1.4" fill="#1c1c1c" fill-opacity="0.49"/>
<circle cx="66.2" cy="253.4" r="1.0" fill="#1c1c1c" fill-opacity="0.30"/>
<circle cx="61.0" cy="250.0" r="1.5" fill="#1c1c1c" fill-opacity="0.33"/>
<circle cx="66.6" cy="254.1" r="1.7" fill="#1c1c1c" fill-opacity="0.57"/>
<circle cx="67.4" cy="250.5" r="1.0" fill="#1c1c1c" fill-opacity="0.56"/>
<circle cx="59.5" cy="252.9" r="1.2" fill="#1c1c1c" fill-opacity="0.42"/>
<circle cx="61.3" cy="251.0" r="1.5" fill="#1c1c1c" fill-opacity="0.29"/>
<circle cx="73.4" cy="245.5" r="2.4" fill="#161616" fill-opacity="0.54"/>
<circle cx="72.0" cy="241.1" r="1.1" fill="#1c1c1c" fill-opacity="0.30"/>
<circle cx="73.2" cy="242.7" r="1.1" fill="#1c1c1c" fill-opacity="0.25"/>
<circle cx="72.1" cy="245.4" r="1.8" fill="#1c1c1c" fill-opacity="0.36"/>
<circle cx="72.1" cy="241.0" r="1.5" fill="#1c1c1c" fill-opacity="0.29"/>
<circle cx="70.8" cy="243.6" r="1.9" fill="#1c1c1c" fill-opacity="0.36"/>
<circle cx="73.1" cy="250.4" r="1.6" fill="#1c1c1c" fill-opacity="0.36"/>
<circle cx="74.4" cy="221.8" r="2.0" fill="#161616" fill-opacity="0.41"/>
<circle cx="75.3" cy="219.6" r="1.8" fill="#1c1c1c" fill-opacity="0.31"/>
<circle cx="73.2" cy="218.4" r="1.7" fill="#1c1c1c" fill-opacity="0.24"/>
<circle cx="74.2" cy="220.5" r="1.2" fill="#1c1c1c" fill-opacity="0.25"/>
<circle cx="76.6" cy="221.9" r="1.5" fill="#1c1c1c" fill-opacity="0.27"/>
<circle cx="74.9" cy="225.9" r="1.6" fill="#1c1c1c" fill-opacity="0.24"/>
<circle cx="32.6" cy="258.4" r="2.4" fill="#161616" fill-opacity="0.45"/>
<circle cx="30.7" cy="255.4" r="1.4" fill="#1c1c1c" fill-opacity="0.26"/>
<circle cx="36.4" cy="258.4" r="1.6" fill="#1c1c1c" fill-opacity="0.31"/>
<circle cx="33.8" cy="258.2" r="1.5" fill="#1c1c1c" fill-opacity="0.31"/>
<circle cx="32.4" cy="261.2" r="1.0" fill="#1c1c1c" fill-opacity="0.23"/>
<circle cx="31.4" cy="259.5" r="1.2" fill="#1c1c1c" fill-opacity="0.34"/>
<circle cx="54.5" cy="256.4" r="2.0" fill="#161616" fill-opacity="0.45"/>
<circle cx="51.9" cy="255.6" r="1.9" fill="#1c1c1c" fill-opacity="0.29"/>
<circle cx="57.6" cy="256.3" r="1.7" fill="#1c1c1c" fill-opacity="0.21"/>
<circle cx="51.5" cy="254.3" r="0.9" fill="#1c1c1c" fill-opacity="0.34"/>
<circle cx="55.9" cy="258.6" r="1.1" fill="#1c1c1c" fill-opacity="0.27"/>
<circle cx="53.6" cy="255.6" r="1.8" fill="#1c1c1c" fill-opacity="0.26"/>
<circle cx="104.3" cy="252.4" r="2.0" fill="#161616" fill-opacity="0.36"/>
<circle cx="101.3" cy="251.9" r="1.3" fill="#1c1c1c" fill-opacity="0.21"/>
<circle cx="102.6" cy="250.0" r="1.2" fill="#1c1c1c" fill-opacity="0.27"/>
<circle cx="104.0" cy="253.4" r="1.1" fill="#1c1c1c" fill-opacity="0.19"/>
<circle cx="106.3" cy="255.4" r="1.3" fill="#1c1c1c" fill-opacity="0.29"/>
<circle cx="104.3" cy="251.3" r="1.9" fill="#1c1c1c" fill-opacity="0.29"/>
<circle cx="95.3" cy="229.7" r="2.2" fill="#161616" fill-opacity="0.36"/>
<circle cx="99.3" cy="231.7" r="1.3" fill="#1c1c1c" fill-opacity="0.24"/>
<circle cx="97.3" cy="229.3" r="1.4" fill="#1c1c1c" fill-opacity="0.29"/>
<circle cx="94.8" cy="226.9" r="1.9" fill="#1c1c1c" fill-opacity="0.28"/>
<circle cx="94.1" cy="228.7" r="1.5" fill="#1c1c1c" fill-opacity="0.23"/>
<circle cx="95.7" cy="230.9" r="1.4" fill="#1c1c1c" fill-opacity="0.19"/>
<circle cx="43.5" cy="175.2" r="2.0" fill="#161616" fill-opacity="0.32"/>
<circle cx="40.5" cy="176.4" r="1.4" fill="#1c1c1c" fill-opacity="0.20"/>
<circle cx="41.4" cy="174.0" r="1.7" fill="#1c1c1c" fill-opacity="0.23"/>
<circle cx="47.8" cy="175.2" r="1.6" fill="#1c1c1c" fill-opacity="0.20"/>
<circle cx="46.6" cy="177.9" r="1.7" fill="#1c1c1c" fill-opacity="0.24"/>
<circle cx="98.3" cy="197.0" r="1.8" fill="#161616" fill-opacity="0.27"/>
<circle cx="97.2" cy="198.3" r="1.6" fill="#1c1c1c" fill-opacity="0.21"/>
<circle cx="95.9" cy="195.5" r="1.7" fill="#1c1c1c" fill-opacity="0.18"/>
<circle cx="98.3" cy="200.9" r="1.8" fill="#1c1c1c" fill-opacity="0.24"/>
<circle cx="99.4" cy="197.3" r="1.2" fill="#1c1c1c" fill-opacity="0.20"/>
<circle cx="85.4" cy="236.6" r="2.0" fill="#161616" fill-opacity="0.32"/>
<circle cx="84.4" cy="235.7" r="1.4" fill="#1c1c1c" fill-opacity="0.18"/>
<circle cx="88.2" cy="238.3" r="1.5" fill="#1c1c1c" fill-opacity="0.24"/>
<circle cx="83.5" cy="238.5" r="1.1" fill="#1c1c1c" fill-opacity="0.21"/>
<circle cx="85.2" cy="232.8" r="1.0" fill="#1c1c1c" fill-opacity="0.18"/>
<circle cx="28.6" cy="244.5" r="2.0" fill="#161616" fill-opacity="0.36"/>
<circle cx="29.7" cy="241.6" r="1.7" fill="#1c1c1c" fill-opacity="0.21"/>
<circle cx="26.9" cy="245.4" r="1.7" fill="#1c1c1c" fill-opacity="0.22"/>
<circle cx="26.1" cy="240.9" r="1.2" fill="#1c1c1c" fill-opacity="0.25"/>
<circle cx="28.5" cy="240.4" r="1.3" fill="#1c1c1c" fill-opacity="0.22"/>
<circle cx="31.8" cy="246.8" r="1.0" fill="#1c1c1c" fill-opacity="0.19"/>
<circle cx="53.5" cy="195.0" r="1.8" fill="#161616" fill-opacity="0.27"/>
<circle cx="51.3" cy="194.1" r="1.6" fill="#1c1c1c" fill-opacity="0.19"/>
<circle cx="53.7" cy="193.9" r="1.1" fill="#1c1c1c" fill-opacity="0.22"/>
<circle cx="55.1" cy="195.9" r="1.6" fill="#1c1c1c" fill-opacity="0.22"/>
<circle cx="53.2" cy="196.3" r="1.3" fill="#1c1c1c" fill-opacity="0.23"/>
<circle cx="93.3" cy="216.8" r="1.8" fill="#161616" fill-opacity="0.27"/>
<circle cx="92.5" cy="217.7" r="1.6" fill="#1c1c1c" fill-opacity="0.21"/>
<circle cx="96.6" cy="215.0" r="1.8" fill="#1c1c1c" fill-opacity="0.20"/>
<circle cx="93.9" cy="215.1" r="1.2" fill="#1c1c1c" fill-opacity="0.20"/>
<circle cx="96.7" cy="215.3" r="1.1" fill="#1c1c1c" fill-opacity="0.19"/>
<circle cx="60.0" cy="203.3" r="1.2" fill="#2a2a2a" fill-opacity="0.15"/>
<circle cx="43.0" cy="223.1" r="1.6" fill="#2a2a2a" fill-opacity="0.17"/>
<circle cx="106.9" cy="223.0" r="1.0" fill="#2a2a2a" fill-opacity="0.21"/>
<circle cx="111.3" cy="195.2" r="0.8" fill="#2a2a2a" fill-opacity="0.17"/>
<circle cx="77.8" cy="223.5" r="1.8" fill="#2a2a2a" fill-opacity="0.19"/>
<circle cx="103.7" cy="173.6" r="1.3" fill="#2a2a2a" fill-opacity="0.21"/>
<circle cx="32.0" cy="175.4" r="1.5" fill="#2a2a2a" fill-opacity="0.23"/>
<circle cx="32.0" cy="230.1" r="0.9" fill="#2a2a2a" fill-opacity="0.21"/>
<circle cx="88.2" cy="191.6" r="1.0" fill="#2a2a2a" fill-opacity="0.21"/>
<circle cx="75.5" cy="243.0" r="1.2" fill="#2a2a2a" fill-opacity="0.14"/>
<circle cx="120.0" cy="233.9" r="1.3" fill="#2a2a2a" fill-opacity="0.17"/>
<circle cx="95.4" cy="237.4" r="1.7" fill="#2a2a2a" fill-opacity="0.15"/>
<circle cx="105.9" cy="233.3" r="1.7" fill="#2a2a2a" fill-opacity="0.22"/>
<circle cx="106.6" cy="255.3" r="1.8" fill="#2a2a2a" fill-opacity="0.19"/>
<circle cx="75.8" cy="237.6" r="1.6" fill="#2a2a2a" fill-opacity="0.15"/>
<circle cx="65.5" cy="181.8" r="1.5" fill="#2a2a2a" fill-opacity="0.25"/>
<circle cx="61.0" cy="183.9" r="1.0" fill="#2a2a2a" fill-opacity="0.15"/>
<circle cx="52.7" cy="263.3" r="0.9" fill="#2a2a2a" fill-opacity="0.13"/>
<circle cx="35.0" cy="231.5" r="1.6" fill="#2a2a2a" fill-opacity="0.11"/>
<circle cx="29.8" cy="212.7" r="1.4" fill="#2a2a2a" fill-opacity="0.23"/>
<circle cx="27.2" cy="178.1" r="1.0" fill="#2a2a2a" fill-opacity="0.12"/>
<circle cx="47.0" cy="238.3" r="1.4" fill="#2a2a2a" fill-opacity="0.12"/>
<circle cx="42.0" cy="195.1" r="1.0" fill="#2a2a2a" fill-opacity="0.21"/>
<circle cx="54.6" cy="221.6" r="1.6" fill="#2a2a2a" fill-opacity="0.16"/>
<circle cx="49.5" cy="255.2" r="1.7" fill="#2a2a2a" fill-opacity="0.14"/>
<circle cx="78.1" cy="262.0" r="1.3" fill="#2a2a2a" fill-opacity="0.12"/>
<circle cx="28.6" cy="261.1" r="1.6" fill="#2a2a2a" fill-opacity="0.15"/>
<circle cx="76.1" cy="218.4" r="1.1" fill="#2a2a2a" fill-opacity="0.25"/>
<circle cx="89.1" cy="190.8" r="0.8" fill="#2a2a2a" fill-opacity="0.16"/>
<circle cx="60.6" cy="246.2" r="1.5" fill="#2a2a2a" fill-opacity="0.18"/>
<circle cx="39.3" cy="182.8" r="1.1" fill="#2a2a2a" fill-opacity="0.12"/>
<circle cx="110.2" cy="218.4" r="1.4" fill="#2a2a2a" fill-opacity="0.25"/>
<circle cx="50.1" cy="220.2" r="1.0" fill="#2a2a2a" fill-opacity="0.21"/>
<circle cx="23.7" cy="248.6" r="1.6" fill="#2a2a2a" fill-opacity="0.22"/>
<circle cx="31.8" cy="194.0" r="1.5" fill="#2a2a2a" fill-opacity="0.10"/>
<circle cx="71.4" cy="213.7" r="1.8" fill="#2a2a2a" fill-opacity="0.18"/>
<circle cx="109.0" cy="197.4" r="1.6" fill="#2a2a2a" fill-opacity="0.15"/>
<circle cx="114.9" cy="176.3" r="1.6" fill="#2a2a2a" fill-opacity="0.12"/>
<circle cx="77.7" cy="219.3" r="1.0" fill="#2a2a2a" fill-opacity="0.22"/>
<circle cx="54.6" cy="198.1" r="0.9" fill="#2a2a2a" fill-opacity="0.13"/>
<circle cx="70.1" cy="238.1" r="1.2" fill="#2a2a2a" fill-opacity="0.20"/>
<circle cx="34.1" cy="206.3" r="1.3" fill="#2a2a2a" fill-opacity="0.24"/>
<circle cx="106.2" cy="232.0" r="0.8" fill="#2a2a2a" fill-opacity="0.14"/>
<circle cx="94.3" cy="190.8" r="1.4" fill="#2a2a2a" fill-opacity="0.16"/>
<circle cx="24.6" cy="265.5" r="1.6" fill="#2a2a2a" fill-opacity="0.12"/>
<circle cx="85.0" cy="196.0" r="1.2" fill="#2a2a2a" fill-opacity="0.17"/>
<circle cx="53.3" cy="200.7" r="1.2" fill="#2a2a2a" fill-opacity="0.19"/>
<circle cx="49.1" cy="187.1" r="1.5" fill="#2a2a2a" fill-opacity="0.14"/>
<circle cx="117.7" cy="223.0" r="1.5" fill="#2a2a2a" fill-opacity="0.14"/>
<circle cx="106.0" cy="176.4" r="0.9" fill="#2a2a2a" fill-opacity="0.10"/>
<circle cx="91.1" cy="237.4" r="1.0" fill="#2a2a2a" fill-opacity="0.15"/>
<circle cx="107.0" cy="226.0" r="0.9" fill="#2a2a2a" fill-opacity="0.12"/>
<circle cx="39.2" cy="179.6" r="1.2" fill="#2a2a2a" fill-opacity="0.09"/>
<circle cx="115.3" cy="209.6" r="1.3" fill="#2a2a2a" fill-opacity="0.19"/>
<circle cx="100.0" cy="248.6" r="1.2" fill="#2a2a2a" fill-opacity="0.14"/>
<circle cx="64.6" cy="168.8" r="1.2" fill="#2a2a2a" fill-opacity="0.20"/>
<circle cx="121.4" cy="245.5" r="1.5" fill="#2a2a2a" fill-opacity="0.18"/>
<circle cx="25.4" cy="200.1" r="1.1" fill="#2a2a2a" fill-opacity="0.19"/>
<circle cx="34.2" cy="204.7" r="1.3" fill="#2a2a2a" fill-opacity="0.21"/>
<circle cx="105.8" cy="227.8" r="1.0" fill="#2a2a2a" fill-opacity="0.21"/>
<circle cx="113.5" cy="221.6" r="1.2" fill="#2a2a2a" fill-opacity="0.17"/>
<circle cx="37.7" cy="237.9" r="1.8" fill="#2a2a2a" fill-opacity="0.17"/>
<circle cx="94.9" cy="250.0" r="1.0" fill="#2a2a2a" fill-opacity="0.24"/>
<circle cx="86.1" cy="186.9" r="0.9" fill="#2a2a2a" fill-opacity="0.12"/>
<circle cx="81.0" cy="236.3" r="1.1" fill="#2a2a2a" fill-opacity="0.24"/>
<circle cx="59.6" cy="213.1" r="0.9" fill="#2a2a2a" fill-opacity="0.25"/>
<circle cx="37.1" cy="256.8" r="1.3" fill="#2a2a2a" fill-opacity="0.18"/>
<circle cx="79.4" cy="193.5" r="1.7" fill="#2a2a2a" fill-opacity="0.25"/>
<circle cx="105.0" cy="226.8" r="0.9" fill="#2a2a2a" fill-opacity="0.22"/>
<circle cx="52.3" cy="256.1" r="1.0" fill="#2a2a2a" fill-opacity="0.18"/>
<circle cx="106.3" cy="185.7" r="1.3" fill="#2a2a2a" fill-opacity="0.09"/>
<circle cx="26.8" cy="185.1" r="1.8" fill="#2a2a2a" fill-opacity="0.24"/>
<circle cx="89.2" cy="197.8" r="1.5" fill="#2a2a2a" fill-opacity="0.21"/>
<circle cx="61.6" cy="225.9" r="1.6" fill="#2a2a2a" fill-opacity="0.08"/>
<circle cx="43.5" cy="213.6" r="0.9" fill="#2a2a2a" fill-opacity="0.15"/>
<circle cx="80.3" cy="184.5" r="1.3" fill="#2a2a2a" fill-opacity="0.12"/>
<circle cx="80.2" cy="200.2" r="1.4" fill="#2a2a2a" fill-opacity="0.09"/>
<circle cx="90.4" cy="181.6" r="1.8" fill="#2a2a2a" fill-opacity="0.18"/>
<circle cx="70.4" cy="208.0" r="1.4" fill="#2a2a2a" fill-opacity="0.20"/>
<circle cx="99.1" cy="241.7" r="1.3" fill="#2a2a2a" fill-opacity="0.25"/>
<circle cx="107.1" cy="251.9" r="1.2" fill="#2a2a2a" fill-opacity="0.15"/>
<circle cx="80.0" cy="256.9" r="1.3" fill="#2a2a2a" fill-opacity="0.17"/>
<circle cx="66.6" cy="256.8" r="1.1" fill="#2a2a2a" fill-opacity="0.09"/>
<circle cx="95.9" cy="256.4" r="1.5" fill="#2a2a2a" fill-opacity="0.18"/>
<circle cx="98.5" cy="197.5" r="1.4" fill="#2a2a2a" fill-opacity="0.09"/>
<circle cx="36.0" cy="211.5" r="1.3" fill="#2a2a2a" fill-opacity="0.15"/>
<circle cx="28.8" cy="236.1" r="1.3" fill="#2a2a2a" fill-opacity="0.12"/>
<circle cx="54.1" cy="206.5" r="1.0" fill="#2a2a2a" fill-opacity="0.09"/>
<circle cx="114.4" cy="263.0" r="1.5" fill="#2a2a2a" fill-opacity="0.23"/>
<circle cx="65.6" cy="247.0" r="1.0" fill="#2a2a2a" fill-opacity="0.21"/>
<circle cx="80.1" cy="256.7" r="0.9" fill="#2a2a2a" fill-opacity="0.21"/>
<circle cx="35.9" cy="220.5" r="1.8" fill="#2a2a2a" fill-opacity="0.08"/>
<circle cx="47.9" cy="196.9" r="1.1" fill="#2a2a2a" fill-opacity="0.09"/>
<circle cx="112.8" cy="248.0" r="1.2" fill="#2a2a2a" fill-opacity="0.14"/>
<circle cx="81.9" cy="171.8" r="0.8" fill="#2a2a2a" fill-opacity="0.23"/>
<circle cx="54.3" cy="216.6" r="1.7" fill="#2a2a2a" fill-opacity="0.25"/>
<circle cx="70.7" cy="187.7" r="1.1" fill="#2a2a2a" fill-opacity="0.24"/>
<circle cx="112.9" cy="186.7" r="1.6" fill="#2a2a2a" fill-opacity="0.14"/>
<circle cx="70.7" cy="184.3" r="1.7" fill="#2a2a2a" fill-opacity="0.25"/>
<circle cx="43.7" cy="229.9" r="1.0" fill="#2a2a2a" fill-opacity="0.23"/>
<circle cx="28.6" cy="177.8" r="1.5" fill="#2a2a2a" fill-opacity="0.13"/>
<circle cx="113.3" cy="253.4" r="1.5" fill="#2a2a2a" fill-opacity="0.10"/>
<circle cx="92.9" cy="260.1" r="1.2" fill="#2a2a2a" fill-opacity="0.09"/>
<circle cx="45.8" cy="197.7" r="1.5" fill="#2a2a2a" fill-opacity="0.11"/>
<circle cx="41.6" cy="190.6" r="1.5" fill="#2a2a2a" fill-opacity="0.21"/>
<circle cx="60.7" cy="232.8" r="1.7" fill="#2a2a2a" fill-opacity="0.18"/>
<circle cx="46.4" cy="197.1" r="1.7" fill="#2a2a2a" fill-opacity="0.19"/>
<circle cx="51.2" cy="230.7" r="0.9" fill="#2a2a2a" fill-opacity="0.25"/>
<circle cx="67.5" cy="219.6" r="1.3" fill="#2a2a2a" fill-opacity="0.09"/>
<circle cx="83.3" cy="195.5" r="1.1" fill="#2a2a2a" fill-opacity="0.22"/>
<circle cx="32.3" cy="195.5" r="1.6" fill="#2a2a2a" fill-opacity="0.12"/>
<circle cx="51.4" cy="221.6" r="1.0" fill="#2a2a2a" fill-opacity="0.23"/>
<circle cx="122.0" cy="170.6" r="1.3" fill="#2a2a2a" fill-opacity="0.21"/>
<circle cx="61.9" cy="259.3" r="1.3" fill="#2a2a2a" fill-opacity="0.11"/>
<circle cx="79.0" cy="231.2" r="1.2" fill="#2a2a2a" fill-opacity="0.19"/>
<circle cx="101.6" cy="218.5" r="1.3" fill="#2a2a2a" fill-opacity="0.22"/>
<circle cx="91.8" cy="218.8" r="1.8" fill="#2a2a2a" fill-opacity="0.11"/>
<circle cx="101.3" cy="183.7" r="1.4" fill="#2a2a2a" fill-opacity="0.12"/>
<circle cx="67.5" cy="243.8" r="1.6" fill="#2a2a2a" fill-opacity="0.21"/>
<circle cx="47.1" cy="215.7" r="1.0" fill="#2a2a2a" fill-opacity="0.18"/>
<circle cx="73.3" cy="170.8" r="1.4" fill="#2a2a2a" fill-opacity="0.20"/>
<circle cx="80.6" cy="253.7" r="1.0" fill="#2a2a2a" fill-opacity="0.11"/>
<circle cx="25.4" cy="216.4" r="1.2" fill="#2a2a2a" fill-opacity="0.16"/>
<circle cx="49.8" cy="246.4" r="0.9" fill="#2a2a2a" fill-opacity="0.23"/>
<circle cx="80.3" cy="221.1" r="1.6" fill="#2a2a2a" fill-opacity="0.12"/>
<circle cx="38.2" cy="198.1" r="0.8" fill="#2a2a2a" fill-opacity="0.13"/>
<circle cx="85.5" cy="219.3" r="1.1" fill="#2a2a2a" fill-opacity="0.18"/>
<circle cx="32.4" cy="248.5" r="1.0" fill="#2a2a2a" fill-opacity="0.12"/>
<circle cx="39.5" cy="235.7" r="1.6" fill="#2a2a2a" fill-opacity="0.21"/>
<circle cx="29.7" cy="208.0" r="1.2" fill="#2a2a2a" fill-opacity="0.12"/>
</g>
<g>
<circle cx="117.6" cy="171.2" r="1.6" fill="#f0f0f0" fill-opacity="0.50" stroke="#1a1a1a" stroke-opacity="0.19" stroke-width="1.9"/>
<circle cx="117.6" cy="171.2" r="1.6" fill="none" stroke="#1a1a1a" stroke-opacity="0.43" stroke-width="0.8"/>
<circle cx="119.6" cy="174.4" r="2.0" fill="#f0f0f0" fill-opacity="0.23" stroke="#1a1a1a" stroke-opacity="0.10" stroke-width="1.9"/>
<circle cx="119.6" cy="174.4" r="2.0" fill="none" stroke="#1a1a1a" stroke-opacity="0.23" stroke-width="0.8"/>
<circle cx="118.2" cy="170.5" r="1.5" fill="#f0f0f0" fill-opacity="0.30" stroke="#1a1a1a" stroke-opacity="0.14" stroke-width="1.9"/>
<circle cx="118.2" cy="170.5" r="1.5" fill="none" stroke="#1a1a1a" stroke-opacity="0.30" stroke-width="0.8"/>
<circle cx="117.5" cy="171.4" r="2.3" fill="#f0f0f0" fill-opacity="0.41" stroke="#1a1a1a" stroke-opacity="0.20" stroke-width="1.9"/>
<circle cx="117.5" cy="171.4" r="2.3" fill="none" stroke="#1a1a1a" stroke-opacity="0.43" stroke-width="0.8"/>
<circle cx="117.5" cy="173.4" r="1.7" fill="#f0f0f0" fill-opacity="0.31" stroke="#1a1a1a" stroke-opacity="0.13" stroke-width="1.9"/>
<circle cx="117.5" cy="173.4" r="1.7" fill="none" stroke="#1a1a1a" stroke-opacity="0.29" stroke-width="0.8"/>
<circle cx="120.1" cy="170.0" r="1.4" fill="#f0f0f0" fill-opacity="0.36" stroke="#1a1a1a" stroke-opacity="0.22" stroke-width="1.9"/>
<circle cx="120.1" cy="170.0" r="1.4" fill="none" stroke="#1a1a1a" stroke-opacity="0.49" stroke-width="0.8"/>
<circle cx="111.5" cy="176.8" r="1.8" fill="#f0f0f0" fill-opacity="0.27" stroke="#1a1a1a" stroke-opacity="0.11" stroke-width="1.9"/>
<circle cx="111.5" cy="176.8" r="1.8" fill="none" stroke="#1a1a1a" stroke-opacity="0.24" stroke-width="0.8"/>
<circle cx="107.6" cy="171.5" r="1.8" fill="#f0f0f0" fill-opacity="0.31" stroke="#1a1a1a" stroke-opacity="0.21" stroke-width="1.9"/>
<circle cx="107.6" cy="171.5" r="1.8" fill="none" stroke="#1a1a1a" stroke-opacity="0.47" stroke-width="0.8"/>
<circle cx="105.5" cy="179.2" r="1.5" fill="#f0f0f0" fill-opacity="0.23" stroke="#1a1a1a" stroke-opacity="0.20" stroke-width="1.9"/>
<circle cx="105.5" cy="179.2" r="1.5" fill="none" stroke="#1a1a1a" stroke-opacity="0.44" stroke-width="0.8"/>
<circle cx="108.6" cy="177.1" r="1.7" fill="#f0f0f0" fill-opacity="0.22" stroke="#1a1a1a" stroke-opacity="0.12" stroke-width="1.9"/>
<circle cx="108.6" cy="177.1" r="1.7" fill="none" stroke="#1a1a1a" stroke-opacity="0.27" stroke-width="0.8"/>
<circle cx="87.9" cy="184.8" r="1.4" fill="#f0f0f0" fill-opacity="0.50" stroke="#1a1a1a" stroke-opacity="0.16" stroke-width="1.9"/>
<circle cx="87.9" cy="184.8" r="1.4" fill="none" stroke="#1a1a1a" stroke-opacity="0.35" stroke-width="0.8"/>
<circle cx="85.2" cy="177.7" r="1.3" fill="#f0f0f0" fill-opacity="0.18" stroke="#1a1a1a" stroke-opacity="0.15" stroke-width="1.9"/>
<circle cx="85.2" cy="177.7" r="1.3" fill="none" stroke="#1a1a1a" stroke-opacity="0.33" stroke-width="0.8"/>
<circle cx="86.6" cy="180.2" r="1.4" fill="#f0f0f0" fill-opacity="0.21" stroke="#1a1a1a" stroke-opacity="0.10" stroke-width="1.9"/>
<circle cx="86.6" cy="180.2" r="1.4" fill="none" stroke="#1a1a1a" stroke-opacity="0.23" stroke-width="0.8"/>
<circle cx="87.2" cy="184.4" r="2.2" fill="#f0f0f0" fill-opacity="0.24" stroke="#1a1a1a" stroke-opacity="0.19" stroke-width="1.9"/>
<circle cx="87.2" cy="184.4" r="2.2" fill="none" stroke="#1a1a1a" stroke-opacity="0.42" stroke-width="0.8"/>
<circle cx="82.7" cy="171.0" r="2.2" fill="#f0f0f0" fill-opacity="0.42" stroke="#1a1a1a" stroke-opacity="0.14" stroke-width="1.9"/>
<circle cx="82.7" cy="171.0" r="2.2" fill="none" stroke="#1a1a1a" stroke-opacity="0.32" stroke-width="0.8"/>
<circle cx="82.4" cy="164.7" r="1.0" fill="#f0f0f0" fill-opacity="0.28" stroke="#1a1a1a" stroke-opacity="0.14" stroke-width="1.9"/>
<circle cx="82.4" cy="164.7" r="1.0" fill="none" stroke="#1a1a1a" stroke-opacity="0.31" stroke-width="0.8"/>
<circle cx="88.1" cy="173.0" r="1.4" fill="#f0f0f0" fill-opacity="0.33" stroke="#1a1a1a" stroke-opacity="0.20" stroke-width="1.9"/>
<circle cx="88.1" cy="173.0" r="1.4" fill="none" stroke="#1a1a1a" stroke-opacity="0.44" stroke-width="0.8"/>
<circle cx="85.7" cy="171.1" r="1.3" fill="#f0f0f0" fill-opacity="0.20" stroke="#1a1a1a" stroke-opacity="0.10" stroke-width="1.9"/>
<circle cx="85.7" cy="171.1" r="1.3" fill="none" stroke="#1a1a1a" stroke-opacity="0.23" stroke-width="0.8"/>
<circle cx="78.2" cy="194.9" r="1.4" fill="#f0f0f0" fill-opacity="0.34" stroke="#1a1a1a" stroke-opacity="0.15" stroke-width="1.9"/>
<circle cx="78.2" cy="194.9" r="1.4" fill="none" stroke="#1a1a1a" stroke-opacity="0.34" stroke-width="0.8"/>
<circle cx="82.2" cy="199.4" r="1.3" fill="#f0f0f0" fill-opacity="0.38" stroke="#1a1a1a" stroke-opacity="0.19" stroke-width="1.9"/>
<circle cx="82.2" cy="199.4" r="1.3" fill="none" stroke="#1a1a1a" stroke-opacity="0.42" stroke-width="0.8"/>
<circle cx="79.4" cy="196.4" r="1.4" fill="#f0f0f0" fill-opacity="0.29" stroke="#1a1a1a" stroke-opacity="0.19" stroke-width="1.9"/>
<circle cx="79.4" cy="196.4" r="1.4" fill="none" stroke="#1a1a1a" stroke-opacity="0.42" stroke-width="0.8"/>
<circle cx="73.0" cy="199.6" r="1.3" fill="#f0f0f0" fill-opacity="0.27" stroke="#1a1a1a" stroke-opacity="0.14" stroke-width="1.9"/>
<circle cx="73.0" cy="199.6" r="1.3" fill="none" stroke="#1a1a1a" stroke-opacity="0.30" stroke-width="0.8"/>
<circle cx="78.5" cy="195.3" r="1.0" fill="#f0f0f0" fill-opacity="0.35" stroke="#1a1a1a" stroke-opacity="0.18" stroke-width="1.9"/>
<circle cx="78.5" cy="195.3" r="1.0" fill="none" stroke="#1a1a1a" stroke-opacity="0.40" stroke-width="0.8"/>
<circle cx="81.3" cy="187.6" r="1.4" fill="#f0f0f0" fill-opacity="0.47" stroke="#1a1a1a" stroke-opacity="0.18" stroke-width="1.9"/>
<circle cx="81.3" cy="187.6" r="1.4" fill="none" stroke="#1a1a1a" stroke-opacity="0.41" stroke-width="0.8"/>
<circle cx="87.3" cy="202.5" r="1.9" fill="#f0f0f0" fill-opacity="0.45" stroke="#1a1a1a" stroke-opacity="0.22" stroke-width="1.9"/>
<circle cx="87.3" cy="202.5" r="1.9" fill="none" stroke="#1a1a1a" stroke-opacity="0.49" stroke-width="0.8"/>
<circle cx="86.8" cy="202.2" r="1.1" fill="#f0f0f0" fill-opacity="0.29" stroke="#1a1a1a" stroke-opacity="0.15" stroke-width="1.9"/>
<circle cx="86.8" cy="202.2" r="1.1" fill="none" stroke="#1a1a1a" stroke-opacity="0.34" stroke-width="0.8"/>
<circle cx="88.7" cy="198.9" r="1.4" fill="#f0f0f0" fill-opacity="0.25" stroke="#1a1a1a" stroke-opacity="0.16" stroke-width="1.9"/>
<circle cx="88.7" cy="198.9" r="1.4" fill="none" stroke="#1a1a1a" stroke-opacity="0.36" stroke-width="0.8"/>
<circle cx="87.8" cy="200.3" r="1.6" fill="#f0f0f0" fill-opacity="0.38" stroke="#1a1a1a" stroke-opacity="0.12" stroke-width="1.9"/>
<circle cx="87.8" cy="200.3" r="1.6" fill="none" stroke="#1a1a1a" stroke-opacity="0.27" stroke-width="0.8"/>
<circle cx="86.4" cy="198.6" r="1.4" fill="#f0f0f0" fill-opacity="0.20" stroke="#1a1a1a" stroke-opacity="0.15" stroke-width="1.9"/>
<circle cx="86.4" cy="198.6" r="1.4" fill="none" stroke="#1a1a1a" stroke-opacity="0.34" stroke-width="0.8"/>
<circle cx="82.3" cy="195.7" r="1.7" fill="#f0f0f0" fill-opacity="0.16" stroke="#1a1a1a" stroke-opacity="0.19" stroke-width="1.9"/>
<circle cx="82.3" cy="195.7" r="1.7" fill="none" stroke="#1a1a1a" stroke-opacity="0.42" stroke-width="0.8"/>
<circle cx="80.7" cy="205.3" r="1.1" fill="#f0f0f0" fill-opacity="0.17" stroke="#1a1a1a" stroke-opacity="0.15" stroke-width="1.9"/>
<circle cx="80.7" cy="205.3" r="1.1" fill="none" stroke="#1a1a1a" stroke-opacity="0.33" stroke-width="0.8"/>
<circle cx="79.0" cy="204.0" r="1.6" fill="#f0f0f0" fill-opacity="0.24" stroke="#1a1a1a" stroke-opacity="0.14" stroke-width="1.9"/>
<circle cx="79.0" cy="204.0" r="1.6" fill="none" stroke="#1a1a1a" stroke-opacity="0.31" stroke-width="0.8"/>
<circle cx="84.3" cy="204.2" r="2.2" fill="#f0f0f0" fill-opacity="0.24" stroke="#1a1a1a" stroke-opacity="0.17" stroke-width="1.9"/>
<circle cx="84.3" cy="204.2" r="2.2" fill="none" stroke="#1a1a1a" stroke-opacity="0.38" stroke-width="0.8"/>
<circle cx="81.8" cy="203.0" r="1.6" fill="#f0f0f0" fill-opacity="0.48" stroke="#1a1a1a" stroke-opacity="0.18" stroke-width="1.9"/>
<circle cx="81.8" cy="203.0" r="1.6" fill="none" stroke="#1a1a1a" stroke-opacity="0.39" stroke-width="0.8"/>
<circle cx="80.2" cy="206.5" r="2.2" fill="#f0f0f0" fill-opacity="0.37" stroke="#1a1a1a" stroke-opacity="0.20" stroke-width="1.9"/>
<circle cx="80.2" cy="206.5" r="2.2" fill="none" stroke="#1a1a1a" stroke-opacity="0.44" stroke-width="0.8"/>
<circle cx="28.7" cy="187.3" r="1.5" fill="#f0f0f0" fill-opacity="0.44" stroke="#1a1a1a" stroke-opacity="0.13" stroke-width="1.9"/>
<circle cx="28.7" cy="187.3" r="1.5" fill="none" stroke="#1a1a1a" stroke-opacity="0.30" stroke-width="0.8"/>
<circle cx="32.3" cy="187.4" r="2.2" fill="#f0f0f0" fill-opacity="0.20" stroke="#1a1a1a" stroke-opacity="0.10" stroke-width="1.9"/>
<circle cx="32.3" cy="187.4" r="2.2" fill="none" stroke="#1a1a1a" stroke-opacity="0.23" stroke-width="0.8"/>
<circle cx="28.6" cy="189.0" r="1.5" fill="#f0f0f0" fill-opacity="0.20" stroke="#1a1a1a" stroke-opacity="0.22" stroke-width="1.9"/>
<circle cx="28.6" cy="189.0" r="1.5" fill="none" stroke="#1a1a1a" stroke-opacity="0.49" stroke-width="0.8"/>
<circle cx="31.1" cy="190.4" r="1.9" fill="#f0f0f0" fill-opacity="0.15" stroke="#1a1a1a" stroke-opacity="0.13" stroke-width="1.9"/>
<circle cx="31.1" cy="190.4" r="1.9" fill="none" stroke="#1a1a1a" stroke-opacity="0.29" stroke-width="0.8"/>
<circle cx="34.4" cy="186.5" r="1.3" fill="#f0f0f0" fill-opacity="0.38" stroke="#1a1a1a" stroke-opacity="0.16" stroke-width="1.9"/>
<circle cx="34.4" cy="186.5" r="1.3" fill="none" stroke="#1a1a1a" stroke-opacity="0.36" stroke-width="0.8"/>
<circle cx="33.1" cy="186.0" r="1.7" fill="#f0f0f0" fill-opacity="0.49" stroke="#1a1a1a" stroke-opacity="0.20" stroke-width="1.9"/>
<circle cx="33.1" cy="186.0" r="1.7" fill="none" stroke="#1a1a1a" stroke-opacity="0.45" stroke-width="0.8"/>
<circle cx="35.5" cy="188.8" r="2.2" fill="#f0f0f0" fill-opacity="0.40" stroke="#1a1a1a" stroke-opacity="0.14" stroke-width="1.9"/>
<circle cx="35.5" cy="188.8" r="2.2" fill="none" stroke="#1a1a1a" stroke-opacity="0.31" stroke-width="0.8"/>
<circle cx="35.2" cy="183.4" r="2.3" fill="#f0f0f0" fill-opacity="0.21" stroke="#1a1a1a" stroke-opacity="0.20" stroke-width="1.9"/>
<circle cx="35.2" cy="183.4" r="2.3" fill="none" stroke="#1a1a1a" stroke-opacity="0.45" stroke-width="0.8"/>
<circle cx="61.6" cy="183.3" r="1.7" fill="#f0f0f0" fill-opacity="0.25" stroke="#1a1a1a" stroke-opacity="0.15" stroke-width="1.9"/>
<circle cx="61.6" cy="183.3" r="1.7" fill="none" stroke="#1a1a1a" stroke-opacity="0.32" stroke-width="0.8"/>
<circle cx="63.4" cy="182.3" r="1.3" fill="#f0f0f0" fill-opacity="0.26" stroke="#1a1a1a" stroke-opacity="0.13" stroke-width="1.9"/>
<circle cx="63.4" cy="182.3" r="1.3" fill="none" stroke="#1a1a1a" stroke-opacity="0.29" stroke-width="0.8"/>
<circle cx="64.6" cy="187.6" r="1.2" fill="#f0f0f0" fill-opacity="0.17" stroke="#1a1a1a" stroke-opacity="0.11" stroke-width="1.9"/>
<circle cx="64.6" cy="187.6" r="1.2" fill="none" stroke="#1a1a1a" stroke-opacity="0.24" stroke-width="0.8"/>
<circle cx="66.4" cy="187.3" r="1.1" fill="#f0f0f0" fill-opacity="0.42" stroke="#1a1a1a" stroke-opacity="0.16" stroke-width="1.9"/>
<circle cx="66.4" cy="187.3" r="1.1" fill="none" stroke="#1a1a1a" stroke-opacity="0.35" stroke-width="0.8"/>
<circle cx="48.6" cy="206.0" r="2.1" fill="#f0f0f0" fill-opacity="0.17" stroke="#1a1a1a" stroke-opacity="0.21" stroke-width="1.9"/>
<circle cx="48.6" cy="206.0" r="2.1" fill="none" stroke="#1a1a1a" stroke-opacity="0.46" stroke-width="0.8"/>
<circle cx="49.4" cy="208.6" r="2.0" fill="#f0f0f0" fill-opacity="0.40" stroke="#1a1a1a" stroke-opacity="0.15" stroke-width="1.9"/>
<circle cx="49.4" cy="208.6" r="2.0" fill="none" stroke="#1a1a1a" stroke-opacity="0.33" stroke-width="0.8"/>
<circle cx="49.5" cy="209.7" r="1.4" fill="#f0f0f0" fill-opacity="0.42" stroke="#1a1a1a" stroke-opacity="0.14" stroke-width="1.9"/>
<circle cx="49.5" cy="209.7" r="1.4" fill="none" stroke="#1a1a1a" stroke-opacity="0.31" stroke-width="0.8"/>
<circle cx="51.9" cy="202.3" r="1.7" fill="#f0f0f0" fill-opacity="0.40" stroke="#1a1a1a" stroke-opacity="0.15" stroke-width="1.9"/>
<circle cx="51.9" cy="202.3" r="1.7" fill="none" stroke="#1a1a1a" stroke-opacity="0.34" stroke-width="0.8"/>
<circle cx="56.2" cy="210.6" r="2.0" fill="#f0f0f0" fill-opacity="0.28" stroke="#1a1a1a" stroke-opacity="0.11" stroke-width="1.9"/>
<circle cx="56.2" cy="210.6" r="2.0" fill="none" stroke="#1a1a1a" stroke-opacity="0.26" stroke-width="0.8"/>
<circle cx="59.6" cy="213.4" r="1.2" fill="#f0f0f0" fill-opacity="0.35" stroke="#1a1a1a" stroke-opacity="0.10" stroke-width="1.9"/>
<circle cx="59.6" cy="213.4" r="1.2" fill="none" stroke="#1a1a1a" stroke-opacity="0.22" stroke-width="0.8"/>
<circle cx="67.0" cy="212.3" r="1.2" fill="#f0f0f0" fill-opacity="0.30" stroke="#1a1a1a" stroke-opacity="0.19" stroke-width="1.9"/>
<circle cx="67.0" cy="212.3" r="1.2" fill="none" stroke="#1a1a1a" stroke-opacity="0.41" stroke-width="0.8"/>
<circle cx="58.5" cy="212.7" r="2.2" fill="#f0f0f0" fill-opacity="0.17" stroke="#1a1a1a" stroke-opacity="0.22" stroke-width="1.9"/>
<circle cx="58.5" cy="212.7" r="2.2" fill="none" stroke="#1a1a1a" stroke-opacity="0.50" stroke-width="0.8"/>
<circle cx="60.3" cy="214.0" r="1.1" fill="#f0f0f0" fill-opacity="0.41" stroke="#1a1a1a" stroke-opacity="0.14" stroke-width="1.9"/>
<circle cx="60.3" cy="214.0" r="1.1" fill="none" stroke="#1a1a1a" stroke-opacity="0.30" stroke-width="0.8"/>
<circle cx="61.3" cy="214.8" r="1.4" fill="#f0f0f0" fill-opacity="0.34" stroke="#1a1a1a" stroke-opacity="0.10" stroke-width="1.9"/>
<circle cx="61.3" cy="214.8" r="1.4" fill="none" stroke="#1a1a1a" stroke-opacity="0.23" stroke-width="0.8"/>
<circle cx="45.4" cy="217.0" r="1.4" fill="#f0f0f0" fill-opacity="0.44" stroke="#1a1a1a" stroke-opacity="0.20" stroke-width="1.9"/>
<circle cx="45.4" cy="217.0" r="1.4" fill="none" stroke="#1a1a1a" stroke-opacity="0.44" stroke-width="0.8"/>
<circle cx="47.0" cy="219.0" r="1.8" fill="#f0f0f0" fill-opacity="0.49" stroke="#1a1a1a" stroke-opacity="0.20" stroke-width="1.9"/>
<circle cx="47.0" cy="219.0" r="1.8" fill="none" stroke="#1a1a1a" stroke-opacity="0.43" stroke-width="0.8"/>
<circle cx="44.4" cy="219.4" r="1.7" fill="#f0f0f0" fill-opacity="0.20" stroke="#1a1a1a" stroke-opacity="0.20" stroke-width="1.9"/>
<circle cx="44.4" cy="219.4" r="1.7" fill="none" stroke="#1a1a1a" stroke-opacity="0.44" stroke-width="0.8"/>
<circle cx="47.8" cy="217.3" r="2.2" fill="#f0f0f0" fill-opacity="0.32" stroke="#1a1a1a" stroke-opacity="0.13" stroke-width="1.9"/>
<circle cx="47.8" cy="217.3" r="2.2" fill="none" stroke="#1a1a1a" stroke-opacity="0.29" stroke-width="0.8"/>
<circle cx="108.1" cy="214.5" r="1.0" fill="#f0f0f0" fill-opacity="0.20" stroke="#1a1a1a" stroke-opacity="0.17" stroke-width="1.9"/>
<circle cx="108.1" cy="214.5" r="1.0" fill="none" stroke="#1a1a1a" stroke-opacity="0.38" stroke-width="0.8"/>
<circle cx="104.8" cy="211.3" r="1.3" fill="#f0f0f0" fill-opacity="0.28" stroke="#1a1a1a" stroke-opacity="0.16" stroke-width="1.9"/>
<circle cx="104.8" cy="211.3" r="1.3" fill="none" stroke="#1a1a1a" stroke-opacity="0.36" stroke-width="0.8"/>
<circle cx="106.2" cy="213.2" r="1.1" fill="#f0f0f0" fill-opacity="0.26" stroke="#1a1a1a" stroke-opacity="0.21" stroke-width="1.9"/>
<circle cx="106.2" cy="213.2" r="1.1" fill="none" stroke="#1a1a1a" stroke-opacity="0.47" stroke-width="0.8"/>
<circle cx="107.5" cy="213.5" r="1.6" fill="#f0f0f0" fill-opacity="0.22" stroke="#1a1a1a" stroke-opacity="0.22" stroke-width="1.9"/>
<circle cx="107.5" cy="213.5" r="1.6" fill="none" stroke="#1a1a1a" stroke-opacity="0.50" stroke-width="0.8"/>
<circle cx="108.8" cy="210.1" r="1.5" fill="#f0f0f0" fill-opacity="0.29" stroke="#1a1a1a" stroke-opacity="0.20" stroke-width="1.9"/>
<circle cx="108.8" cy="210.1" r="1.5" fill="none" stroke="#1a1a1a" stroke-opacity="0.45" stroke-width="0.8"/>
<circle cx="110.2" cy="214.3" r="1.9" fill="#f0f0f0" fill-opacity="0.25" stroke="#1a1a1a" stroke-opacity="0.18" stroke-width="1.9"/>
<circle cx="110.2" cy="214.3" r="1.9" fill="none" stroke="#1a1a1a" stroke-opacity="0.39" stroke-width="0.8"/>
<circle cx="121.8" cy="217.9" r="2.3" fill="#f0f0f0" fill-opacity="0.44" stroke="#1a1a1a" stroke-opacity="0.15" stroke-width="1.9"/>
<circle cx="121.8" cy="217.9" r="2.3" fill="none" stroke="#1a1a1a" stroke-opacity="0.34" stroke-width="0.8"/>
<circle cx="117.1" cy="218.8" r="1.0" fill="#f0f0f0" fill-opacity="0.19" stroke="#1a1a1a" stroke-opacity="0.12" stroke-width="1.9"/>
<circle cx="117.1" cy="218.8" r="1.0" fill="none" stroke="#1a1a1a" stroke-opacity="0.27" stroke-width="0.8"/>
<circle cx="119.1" cy="220.7" r="2.0" fill="#f0f0f0" fill-opacity="0.33" stroke="#1a1a1a" stroke-opacity="0.14" stroke-width="1.9"/>
<circle cx="119.1" cy="220.7" r="2.0" fill="none" stroke="#1a1a1a" stroke-opacity="0.31" stroke-width="0.8"/>
<circle cx="118.4" cy="219.8" r="2.2" fill="#f0f0f0" fill-opacity="0.33" stroke="#1a1a1a" stroke-opacity="0.10" stroke-width="1.9"/>
<circle cx="118.4" cy="219.8" r="2.2" fill="none" stroke="#1a1a1a" stroke-opacity="0.22" stroke-width="0.8"/>
<circle cx="118.9" cy="215.5" r="2.0" fill="#f0f0f0" fill-opacity="0.43" stroke="#1a1a1a" stroke-opacity="0.15" stroke-width="1.9"/>
<circle cx="118.9" cy="215.5" r="2.0" fill="none" stroke="#1a1a1a" stroke-opacity="0.33" stroke-width="0.8"/>
<circle cx="122.1" cy="183.5" r="2.3" fill="#f0f0f0" fill-opacity="0.48" stroke="#1a1a1a" stroke-opacity="0.11" stroke-width="1.9"/>
<circle cx="122.1" cy="183.5" r="2.3" fill="none" stroke="#1a1a1a" stroke-opacity="0.25" stroke-width="0.8"/>
<circle cx="117.2" cy="189.2" r="1.3" fill="#f0f0f0" fill-opacity="0.16" stroke="#1a1a1a" stroke-opacity="0.21" stroke-width="1.9"/>
<circle cx="117.2" cy="189.2" r="1.3" fill="none" stroke="#1a1a1a" stroke-opacity="0.47" stroke-width="0.8"/>
<circle cx="119.1" cy="186.5" r="1.5" fill="#f0f0f0" fill-opacity="0.38" stroke="#1a1a1a" stroke-opacity="0.15" stroke-width="1.9"/>
<circle cx="119.1" cy="186.5" r="1.5" fill="none" stroke="#1a1a1a" stroke-opacity="0.32" stroke-width="0.8"/>
<circle cx="120.9" cy="185.3" r="1.8" fill="#f0f0f0" fill-opacity="0.25" stroke="#1a1a1a" stroke-opacity="0.14" stroke-width="1.9"/>
<circle cx="120.9" cy="185.3" r="1.8" fill="none" stroke="#1a1a1a" stroke-opacity="0.32" stroke-width="0.8"/>
<circle cx="36.2" cy="228.5" r="1.1" fill="#f0f0f0" fill-opacity="0.41" stroke="#1a1a1a" stroke-opacity="0.14" stroke-width="1.9"/>
<circle cx="36.2" cy="228.5" r="1.1" fill="none" stroke="#1a1a1a" stroke-opacity="0.31" stroke-width="0.8"/>
<circle cx="35.7" cy="234.2" r="1.7" fill="#f0f0f0" fill-opacity="0.21" stroke="#1a1a1a" stroke-opacity="0.18" stroke-width="1.9"/>
<circle cx="35.7" cy="234.2" r="1.7" fill="none" stroke="#1a1a1a" stroke-opacity="0.41" stroke-width="0.8"/>
<circle cx="35.3" cy="230.2" r="1.5" fill="#f0f0f0" fill-opacity="0.15" stroke="#1a1a1a" stroke-opacity="0.15" stroke-width="1.9"/>
<circle cx="35.3" cy="230.2" r="1.5" fill="none" stroke="#1a1a1a" stroke-opacity="0.34" stroke-width="0.8"/>
<circle cx="32.0" cy="229.6" r="1.4" fill="#f0f0f0" fill-opacity="0.48" stroke="#1a1a1a" stroke-opacity="0.17" stroke-width="1.9"/>
<circle cx="32.0" cy="229.6" r="1.4" fill="none" stroke="#1a1a1a" stroke-opacity="0.37" stroke-width="0.8"/>
<circle cx="51.3" cy="246.6" r="1.4" fill="#f0f0f0" fill-opacity="0.19" stroke="#1a1a1a" stroke-opacity="0.19" stroke-width="1.9"/>
<circle cx="51.3" cy="246.6" r="1.4" fill="none" stroke="#1a1a1a" stroke-opacity="0.43" stroke-width="0.8"/>
<circle cx="52.6" cy="240.3" r="2.3" fill="#f0f0f0" fill-opacity="0.29" stroke="#1a1a1a" stroke-opacity="0.13" stroke-width="1.9"/>
<circle cx="52.6" cy="240.3" r="2.3" fill="none" stroke="#1a1a1a" stroke-opacity="0.28" stroke-width="0.8"/>
<circle cx="49.1" cy="239.3" r="1.4" fill="#f0f0f0" fill-opacity="0.48" stroke="#1a1a1a" stroke-opacity="0.18" stroke-width="1.9"/>
<circle cx="49.1" cy="239.3" r="1.4" fill="none" stroke="#1a1a1a" stroke-opacity="0.41" stroke-width="0.8"/>
<circle cx="48.9" cy="241.7" r="1.5" fill="#f0f0f0" fill-opacity="0.20" stroke="#1a1a1a" stroke-opacity="0.22" stroke-width="1.9"/>
<circle cx="48.9" cy="241.7" r="1.5" fill="none" stroke="#1a1a1a" stroke-opacity="0.50" stroke-width="0.8"/>
<circle cx="47.7" cy="238.5" r="1.8" fill="#f0f0f0" fill-opacity="0.37" stroke="#1a1a1a" stroke-opacity="0.13" stroke-width="1.9"/>
<circle cx="47.7" cy="238.5" r="1.8" fill="none" stroke="#1a1a1a" stroke-opacity="0.28" stroke-width="0.8"/>
<circle cx="63.9" cy="238.6" r="1.8" fill="#f0f0f0" fill-opacity="0.35" stroke="#1a1a1a" stroke-opacity="0.16" stroke-width="1.9"/>
<circle cx="63.9" cy="238.6" r="1.8" fill="none" stroke="#1a1a1a" stroke-opacity="0.36" stroke-width="0.8"/>
<circle cx="63.8" cy="244.5" r="1.9" fill="#f0f0f0" fill-opacity="0.38" stroke="#1a1a1a" stroke-opacity="0.16" stroke-width="1.9"/>
<circle cx="63.8" cy="244.5" r="1.9" fill="none" stroke="#1a1a1a" stroke-opacity="0.35" stroke-width="0.8"/>
<circle cx="58.7" cy="242.5" r="1.3" fill="#f0f0f0" fill-opacity="0.35" stroke="#1a1a1a" stroke-opacity="0.17" stroke-width="1.9"/>
<circle cx="58.7" cy="242.5" r="1.3" fill="none" stroke="#1a1a1a" stroke-opacity="0.39" stroke-width="0.8"/>
<circle cx="60.3" cy="241.5" r="1.8" fill="#f0f0f0" fill-opacity="0.36" stroke="#1a1a1a" stroke-opacity="0.16" stroke-width="1.9"/>
<circle cx="60.3" cy="241.5" r="1.8" fill="none" stroke="#1a1a1a" stroke-opacity="0.35" stroke-width="0.8"/>
<circle cx="59.1" cy="247.2" r="1.2" fill="#f0f0f0" fill-opacity="0.50" stroke="#1a1a1a" stroke-opacity="0.16" stroke-width="1.9"/>
<circle cx="59.1" cy="247.2" r="1.2" fill="none" stroke="#1a1a1a" stroke-opacity="0.35" stroke-width="0.8"/>
<circle cx="65.2" cy="248.9" r="2.0" fill="#f0f0f0" fill-opacity="0.29" stroke="#1a1a1a" stroke-opacity="0.22" stroke-width="1.9"/>
<circle cx="65.2" cy="248.9" r="2.0" fill="none" stroke="#1a1a1a" stroke-opacity="0.50" stroke-width="0.8"/>
<circle cx="66.1" cy="250.7" r="2.3" fill="#f0f0f0" fill-opacity="0.23" stroke="#1a1a1a" stroke-opacity="0.16" stroke-width="1.9"/>
<circle cx="66.1" cy="250.7" r="2.3" fill="none" stroke="#1a1a1a" stroke-opacity="0.36" stroke-width="0.8"/>
<circle cx="68.3" cy="247.0" r="2.2" fill="#f0f0f0" fill-opacity="0.43" stroke="#1a1a1a" stroke-opacity="0.20" stroke-width="1.9"/>
<circle cx="68.3" cy="247.0" r="2.2" fill="none" stroke="#1a1a1a" stroke-opacity="0.45" stroke-width="0.8"/>
<circle cx="57.3" cy="250.9" r="1.1" fill="#f0f0f0" fill-opacity="0.40" stroke="#1a1a1a" stroke-opacity="0.21" stroke-width="1.9"/>
<circle cx="57.3" cy="250.9" r="1.1" fill="none" stroke="#1a1a1a" stroke-opacity="0.46" stroke-width="0.8"/>
<circle cx="65.4" cy="258.0" r="1.6" fill="#f0f0f0" fill-opacity="0.45" stroke="#1a1a1a" stroke-opacity="0.17" stroke-width="1.9"/>
<circle cx="65.4" cy="258.0" r="1.6" fill="none" stroke="#1a1a1a" stroke-opacity="0.37" stroke-width="0.8"/>
<circle cx="73.9" cy="247.0" r="1.8" fill="#f0f0f0" fill-opacity="0.34" stroke="#1a1a1a" stroke-opacity="0.11" stroke-width="1.9"/>
<circle cx="73.9" cy="247.0" r="1.8" fill="none" stroke="#1a1a1a" stroke-opacity="0.24" stroke-width="0.8"/>
<circle cx="74.1" cy="242.8" r="1.3" fill="#f0f0f0" fill-opacity="0.45" stroke="#1a1a1a" stroke-opacity="0.20" stroke-width="1.9"/>
<circle cx="74.1" cy="242.8" r="1.3" fill="none" stroke="#1a1a1a" stroke-opacity="0.44" stroke-width="0.8"/>
<circle cx="73.8" cy="242.4" r="2.2" fill="#f0f0f0" fill-opacity="0.20" stroke="#1a1a1a" stroke-opacity="0.20" stroke-width="1.9"/>
<circle cx="73.8" cy="242.4" r="2.2" fill="none" stroke="#1a1a1a" stroke-opacity="0.44" stroke-width="0.8"/>
<circle cx="73.0" cy="245.9" r="1.0" fill="#f0f0f0" fill-opacity="0.45" stroke="#1a1a1a" stroke-opacity="0.14" stroke-width="1.9"/>
<circle cx="73.0" cy="245.9" r="1.0" fill="none" stroke="#1a1a1a" stroke-opacity="0.32" stroke-width="0.8"/>
<circle cx="73.7" cy="244.9" r="1.2" fill="#f0f0f0" fill-opacity="0.45" stroke="#1a1a1a" stroke-opacity="0.15" stroke-width="1.9"/>
<circle cx="73.7" cy="244.9" r="1.2" fill="none" stroke="#1a1a1a" stroke-opacity="0.33" stroke-width="0.8"/>
<circle cx="71.2" cy="218.8" r="1.1" fill="#f0f0f0" fill-opacity="0.22" stroke="#1a1a1a" stroke-opacity="0.22" stroke-width="1.9"/>
<circle cx="71.2" cy="218.8" r="1.1" fill="none" stroke="#1a1a1a" stroke-opacity="0.50" stroke-width="0.8"/>
<circle cx="71.5" cy="218.7" r="1.9" fill="#f0f0f0" fill-opacity="0.38" stroke="#1a1a1a" stroke-opacity="0.12" stroke-width="1.9"/>
<circle cx="71.5" cy="218.7" r="1.9" fill="none" stroke="#1a1a1a" stroke-opacity="0.28" stroke-width="0.8"/>
<circle cx="74.3" cy="221.8" r="1.4" fill="#f0f0f0" fill-opacity="0.37" stroke="#1a1a1a" stroke-opacity="0.14" stroke-width="1.9"/>
<circle cx="74.3" cy="221.8" r="1.4" fill="none" stroke="#1a1a1a" stroke-opacity="0.31" stroke-width="0.8"/>
<circle cx="73.9" cy="224.6" r="1.9" fill="#f0f0f0" fill-opacity="0.19" stroke="#1a1a1a" stroke-opacity="0.12" stroke-width="1.9"/>
<circle cx="73.9" cy="224.6" r="1.9" fill="none" stroke="#1a1a1a" stroke-opacity="0.27" stroke-width="0.8"/>
<circle cx="31.6" cy="255.9" r="1.2" fill="#f0f0f0" fill-opacity="0.48" stroke="#1a1a1a" stroke-opacity="0.11" stroke-width="1.9"/>
<circle cx="31.6" cy="255.9" r="1.2" fill="none" stroke="#1a1a1a" stroke-opacity="0.25" stroke-width="0.8"/>
<circle cx="31.0" cy="257.1" r="1.3" fill="#f0f0f0" fill-opacity="0.39" stroke="#1a1a1a" stroke-opacity="0.22" stroke-width="1.9"/>
<circle cx="31.0" cy="257.1" r="1.3" fill="none" stroke="#1a1a1a" stroke-opacity="0.50" stroke-width="0.8"/>
<circle cx="32.4" cy="256.3" r="1.4" fill="#f0f0f0" fill-opacity="0.20" stroke="#1a1a1a" stroke-opacity="0.15" stroke-width="1.9"/>
<circle cx="32.4" cy="256.3" r="1.4" fill="none" stroke="#1a1a1a" stroke-opacity="0.33" stroke-width="0.8"/>
<circle cx="30.9" cy="256.6" r="2.1" fill="#f0f0f0" fill-opacity="0.31" stroke="#1a1a1a" stroke-opacity="0.15" stroke-width="1.9"/>
<circle cx="30.9" cy="256.6" r="2.1" fill="none" stroke="#1a1a1a" stroke-opacity="0.33" stroke-width="0.8"/>
<circle cx="50.0" cy="256.2" r="1.5" fill="#f0f0f0" fill-opacity="0.23" stroke="#1a1a1a" stroke-opacity="0.19" stroke-width="1.9"/>
<circle cx="50.0" cy="256.2" r="1.5" fill="none" stroke="#1a1a1a" stroke-opacity="0.42" stroke-width="0.8"/>
<circle cx="53.3" cy="255.7" r="2.1" fill="#f0f0f0" fill-opacity="0.45" stroke="#1a1a1a" stroke-opacity="0.14" stroke-width="1.9"/>
<circle cx="53.3" cy="255.7" r="2.1" fill="none" stroke="#1a1a1a" stroke-opacity="0.30" stroke-width="0.8"/>
<circle cx="53.5" cy="254.4" r="2.2" fill="#f0f0f0" fill-opacity="0.41" stroke="#1a1a1a" stroke-opacity="0.15" stroke-width="1.9"/>
<circle cx="53.5" cy="254.4" r="2.2" fill="none" stroke="#1a1a1a" stroke-opacity="0.33" stroke-width="0.8"/>
<circle cx="52.7" cy="255.1" r="1.1" fill="#f0f0f0" fill-opacity="0.25" stroke="#1a1a1a" stroke-opacity="0.15" stroke-width="1.9"/>
<circle cx="52.7" cy="255.1" r="1.1" fill="none" stroke="#1a1a1a" stroke-opacity="0.34" stroke-width="0.8"/>
<circle cx="100.0" cy="254.1" r="1.4" fill="#f0f0f0" fill-opacity="0.39" stroke="#1a1a1a" stroke-opacity="0.19" stroke-width="1.9"/>
<circle cx="100.0" cy="254.1" r="1.4" fill="none" stroke="#1a1a1a" stroke-opacity="0.41" stroke-width="0.8"/>
<circle cx="104.3" cy="254.4" r="1.2" fill="#f0f0f0" fill-opacity="0.24" stroke="#1a1a1a" stroke-opacity="0.21" stroke-width="1.9"/>
<circle cx="104.3" cy="254.4" r="1.2" fill="none" stroke="#1a1a1a" stroke-opacity="0.47" stroke-width="0.8"/>
<circle cx="102.8" cy="253.2" r="2.1" fill="#f0f0f0" fill-opacity="0.36" stroke="#1a1a1a" stroke-opacity="0.21" stroke-width="1.9"/>
<circle cx="102.8" cy="253.2" r="2.1" fill="none" stroke="#1a1a1a" stroke-opacity="0.46" stroke-width="0.8"/>
<circle cx="103.8" cy="252.3" r="2.2" fill="#f0f0f0" fill-opacity="0.28" stroke="#1a1a1a" stroke-opacity="0.11" stroke-width="1.9"/>
<circle cx="103.8" cy="252.3" r="2.2" fill="none" stroke="#1a1a1a" stroke-opacity="0.24" stroke-width="0.8"/>
<circle cx="92.6" cy="232.4" r="1.9" fill="#f0f0f0" fill-opacity="0.46" stroke="#1a1a1a" stroke-opacity="0.14" stroke-width="1.9"/>
<circle cx="92.6" cy="232.4" r="1.9" fill="none" stroke="#1a1a1a" stroke-opacity="0.32" stroke-width="0.8"/>
<circle cx="95.4" cy="229.6" r="1.8" fill="#f0f0f0" fill-opacity="0.28" stroke="#1a1a1a" stroke-opacity="0.16" stroke-width="1.9"/>
<circle cx="95.4" cy="229.6" r="1.8" fill="none" stroke="#1a1a1a" stroke-opacity="0.35" stroke-width="0.8"/>
<circle cx="93.7" cy="230.0" r="1.9" fill="#f0f0f0" fill-opacity="0.49" stroke="#1a1a1a" stroke-opacity="0.18" stroke-width="1.9"/>
<circle cx="93.7" cy="230.0" r="1.9" fill="none" stroke="#1a1a1a" stroke-opacity="0.39" stroke-width="0.8"/>
<circle cx="100.5" cy="228.9" r="1.5" fill="#f0f0f0" fill-opacity="0.38" stroke="#1a1a1a" stroke-opacity="0.20" stroke-width="1.9"/>
<circle cx="100.5" cy="228.9" r="1.5" fill="none" stroke="#1a1a1a" stroke-opacity="0.45" stroke-width="0.8"/>
<circle cx="42.1" cy="170.7" r="1.1" fill="#f0f0f0" fill-opacity="0.29" stroke="#1a1a1a" stroke-opacity="0.16" stroke-width="1.9"/>
<circle cx="42.1" cy="170.7" r="1.1" fill="none" stroke="#1a1a1a" stroke-opacity="0.35" stroke-width="0.8"/>
<circle cx="42.9" cy="174.4" r="2.3" fill="#f0f0f0" fill-opacity="0.28" stroke="#1a1a1a" stroke-opacity="0.13" stroke-width="1.9"/>
<circle cx="42.9" cy="174.4" r="2.3" fill="none" stroke="#1a1a1a" stroke-opacity="0.28" stroke-width="0.8"/>
<circle cx="44.7" cy="176.7" r="2.0" fill="#f0f0f0" fill-opacity="0.21" stroke="#1a1a1a" stroke-opacity="0.11" stroke-width="1.9"/>
<circle cx="44.7" cy="176.7" r="2.0" fill="none" stroke="#1a1a1a" stroke-opacity="0.24" stroke-width="0.8"/>
<circle cx="96.7" cy="194.8" r="2.0" fill="#f0f0f0" fill-opacity="0.43" stroke="#1a1a1a" stroke-opacity="0.13" stroke-width="1.9"/>
<circle cx="96.7" cy="194.8" r="2.0" fill="none" stroke="#1a1a1a" stroke-opacity="0.29" stroke-width="0.8"/>
<circle cx="97.9" cy="193.7" r="1.2" fill="#f0f0f0" fill-opacity="0.16" stroke="#1a1a1a" stroke-opacity="0.16" stroke-width="1.9"/>
<circle cx="97.9" cy="193.7" r="1.2" fill="none" stroke="#1a1a1a" stroke-opacity="0.35" stroke-width="0.8"/>
<circle cx="100.9" cy="193.9" r="2.2" fill="#f0f0f0" fill-opacity="0.27" stroke="#1a1a1a" stroke-opacity="0.10" stroke-width="1.9"/>
<circle cx="100.9" cy="193.9" r="2.2" fill="none" stroke="#1a1a1a" stroke-opacity="0.23" stroke-width="0.8"/>
<circle cx="82.9" cy="236.0" r="1.1" fill="#f0f0f0" fill-opacity="0.26" stroke="#1a1a1a" stroke-opacity="0.20" stroke-width="1.9"/>
<circle cx="82.9" cy="236.0" r="1.1" fill="none" stroke="#1a1a1a" stroke-opacity="0.44" stroke-width="0.8"/>
<circle cx="84.8" cy="236.6" r="1.7" fill="#f0f0f0" fill-opacity="0.18" stroke="#1a1a1a" stroke-opacity="0.12" stroke-width="1.9"/>
<circle cx="84.8" cy="236.6" r="1.7" fill="none" stroke="#1a1a1a" stroke-opacity="0.26" stroke-width="0.8"/>
<circle cx="83.9" cy="236.5" r="2.0" fill="#f0f0f0" fill-opacity="0.29" stroke="#1a1a1a" stroke-opacity="0.13" stroke-width="1.9"/>
<circle cx="83.9" cy="236.5" r="2.0" fill="none" stroke="#1a1a1a" stroke-opacity="0.29" stroke-width="0.8"/>
<circle cx="29.6" cy="244.9" r="1.6" fill="#f0f0f0" fill-opacity="0.31" stroke="#1a1a1a" stroke-opacity="0.17" stroke-width="1.9"/>
<circle cx="29.6" cy="244.9" r="1.6" fill="none" stroke="#1a1a1a" stroke-opacity="0.38" stroke-width="0.8"/>
<circle cx="28.9" cy="244.1" r="2.1" fill="#f0f0f0" fill-opacity="0.49" stroke="#1a1a1a" stroke-opacity="0.12" stroke-width="1.9"/>
<circle cx="28.9" cy="244.1" r="2.1" fill="none" stroke="#1a1a1a" stroke-opacity="0.26" stroke-width="0.8"/>
<circle cx="26.7" cy="244.2" r="1.8" fill="#f0f0f0" fill-opacity="0.49" stroke="#1a1a1a" stroke-opacity="0.21" stroke-width="1.9"/>
<circle cx="26.7" cy="244.2" r="1.8" fill="none" stroke="#1a1a1a" stroke-opacity="0.46" stroke-width="0.8"/>
<circle cx="28.5" cy="244.5" r="1.2" fill="#f0f0f0" fill-opacity="0.41" stroke="#1a1a1a" stroke-opacity="0.20" stroke-width="1.9"/>
<circle cx="28.5" cy="244.5" r="1.2" fill="none" stroke="#1a1a1a" stroke-opacity="0.45" stroke-width="0.8"/>
<circle cx="53.3" cy="194.4" r="1.7" fill="#f0f0f0" fill-opacity="0.19" stroke="#1a1a1a" stroke-opacity="0.10" stroke-width="1.9"/>
<circle cx="53.3" cy="194.4" r="1.7" fill="none" stroke="#1a1a1a" stroke-opacity="0.23" stroke-width="0.8"/>
<circle cx="52.2" cy="199.0" r="1.8" fill="#f0f0f0" fill-opacity="0.17" stroke="#1a1a1a" stroke-opacity="0.21" stroke-width="1.9"/>
<circle cx="52.2" cy="199.0" r="1.8" fill="none" stroke="#1a1a1a" stroke-opacity="0.46" stroke-width="0.8"/>
<circle cx="53.2" cy="195.2" r="1.3" fill="#f0f0f0" fill-opacity="0.47" stroke="#1a1a1a" stroke-opacity="0.11" stroke-width="1.9"/>
<circle cx="53.2" cy="195.2" r="1.3" fill="none" stroke="#1a1a1a" stroke-opacity="0.25" stroke-width="0.8"/>
<circle cx="92.3" cy="218.7" r="1.9" fill="#f0f0f0" fill-opacity="0.48" stroke="#1a1a1a" stroke-opacity="0.21" stroke-width="1.9"/>
<circle cx="92.3" cy="218.7" r="1.9" fill="none" stroke="#1a1a1a" stroke-opacity="0.47" stroke-width="0.8"/>
<circle cx="91.3" cy="215.9" r="2.2" fill="#f0f0f0" fill-opacity="0.25" stroke="#1a1a1a" stroke-opacity="0.15" stroke-width="1.9"/>
<circle cx="91.3" cy="215.9" r="2.2" fill="none" stroke="#1a1a1a" stroke-opacity="0.33" stroke-width="0.8"/>
<circle cx="93.2" cy="215.7" r="1.5" fill="#f0f0f0" fill-opacity="0.32" stroke="#1a1a1a" stroke-opacity="0.15" stroke-width="1.9"/>
<circle cx="93.2" cy="215.7" r="1.5" fill="none" stroke="#1a1a1a" stroke-opacity="0.34" stroke-width="0.8"/>
<circle cx="59.3" cy="209.9" r="1.3" fill="#f4f4f4" fill-opacity="0.35" stroke="#333" stroke-opacity="0.07" stroke-width="1.7"/>
<circle cx="59.3" cy="209.9" r="1.3" fill="none" stroke="#333" stroke-opacity="0.15" stroke-width="0.7"/>
<circle cx="29.7" cy="219.6" r="1.3" fill="#f4f4f4" fill-opacity="0.17" stroke="#333" stroke-opacity="0.10" stroke-width="1.7"/>
<circle cx="29.7" cy="219.6" r="1.3" fill="none" stroke="#333" stroke-opacity="0.23" stroke-width="0.7"/>
<circle cx="33.5" cy="204.1" r="1.1" fill="#f4f4f4" fill-opacity="0.17" stroke="#333" stroke-opacity="0.11" stroke-width="1.7"/>
<circle cx="33.5" cy="204.1" r="1.1" fill="none" stroke="#333" stroke-opacity="0.25" stroke-width="0.7"/>
<circle cx="98.2" cy="215.6" r="0.8" fill="#f4f4f4" fill-opacity="0.39" stroke="#333" stroke-opacity="0.10" stroke-width="1.7"/>
<circle cx="98.2" cy="215.6" r="0.8" fill="none" stroke="#333" stroke-opacity="0.23" stroke-width="0.7"/>
<circle cx="24.3" cy="226.0" r="1.8" fill="#f4f4f4" fill-opacity="0.28" stroke="#333" stroke-opacity="0.10" stroke-width="1.7"/>
<circle cx="24.3" cy="226.0" r="1.8" fill="none" stroke="#333" stroke-opacity="0.22" stroke-width="0.7"/>
<circle cx="60.3" cy="197.1" r="1.4" fill="#f4f4f4" fill-opacity="0.19" stroke="#333" stroke-opacity="0.12" stroke-width="1.7"/>
<circle cx="60.3" cy="197.1" r="1.4" fill="none" stroke="#333" stroke-opacity="0.27" stroke-width="0.7"/>
<circle cx="73.2" cy="218.4" r="1.6" fill="#f4f4f4" fill-opacity="0.13" stroke="#333" stroke-opacity="0.07" stroke-width="1.7"/>
<circle cx="73.2" cy="218.4" r="1.6" fill="none" stroke="#333" stroke-opacity="0.15" stroke-width="0.7"/>
<circle cx="48.7" cy="194.0" r="1.6" fill="#f4f4f4" fill-opacity="0.36" stroke="#333" stroke-opacity="0.11" stroke-width="1.7"/>
<circle cx="48.7" cy="194.0" r="1.6" fill="none" stroke="#333" stroke-opacity="0.23" stroke-width="0.7"/>
<circle cx="63.7" cy="195.6" r="1.5" fill="#f4f4f4" fill-opacity="0.40" stroke="#333" stroke-opacity="0.07" stroke-width="1.7"/>
<circle cx="63.7" cy="195.6" r="1.5" fill="none" stroke="#333" stroke-opacity="0.16" stroke-width="0.7"/>
<circle cx="106.4" cy="199.8" r="1.1" fill="#f4f4f4" fill-opacity="0.34" stroke="#333" stroke-opacity="0.14" stroke-width="1.7"/>
<circle cx="106.4" cy="199.8" r="1.1" fill="none" stroke="#333" stroke-opacity="0.32" stroke-width="0.7"/>
<circle cx="87.6" cy="172.9" r="1.6" fill="#f4f4f4" fill-opacity="0.29" stroke="#333" stroke-opacity="0.07" stroke-width="1.7"/>
<circle cx="87.6" cy="172.9" r="1.6" fill="none" stroke="#333" stroke-opacity="0.15" stroke-width="0.7"/>
<circle cx="78.6" cy="259.1" r="1.4" fill="#f4f4f4" fill-opacity="0.38" stroke="#333" stroke-opacity="0.07" stroke-width="1.7"/>
<circle cx="78.6" cy="259.1" r="1.4" fill="none" stroke="#333" stroke-opacity="0.14" stroke-width="0.7"/>
<circle cx="98.6" cy="224.7" r="0.8" fill="#f4f4f4" fill-opacity="0.23" stroke="#333" stroke-opacity="0.14" stroke-width="1.7"/>
<circle cx="98.6" cy="224.7" r="0.8" fill="none" stroke="#333" stroke-opacity="0.30" stroke-width="0.7"/>
<circle cx="91.3" cy="264.7" r="1.7" fill="#f4f4f4" fill-opacity="0.33" stroke="#333" stroke-opacity="0.07" stroke-width="1.7"/>
<circle cx="91.3" cy="264.7" r="1.7" fill="none" stroke="#333" stroke-opacity="0.16" stroke-width="0.7"/>
<circle cx="67.5" cy="241.7" r="1.2" fill="#f4f4f4" fill-opacity="0.23" stroke="#333" stroke-opacity="0.11" stroke-width="1.7"/>
<circle cx="67.5" cy="241.7" r="1.2" fill="none" stroke="#333" stroke-opacity="0.24" stroke-width="0.7"/>
<circle cx="35.4" cy="199.0" r="1.5" fill="#f4f4f4" fill-opacity="0.13" stroke="#333" stroke-opacity="0.07" stroke-width="1.7"/>
<circle cx="35.4" cy="199.0" r="1.5" fill="none" stroke="#333" stroke-opacity="0.16" stroke-width="0.7"/>
<circle cx="106.7" cy="233.3" r="1.3" fill="#f4f4f4" fill-opacity="0.14" stroke="#333" stroke-opacity="0.07" stroke-width="1.7"/>
<circle cx="106.7" cy="233.3" r="1.3" fill="none" stroke="#333" stroke-opacity="0.16" stroke-width="0.7"/>
<circle cx="54.5" cy="261.7" r="1.4" fill="#f4f4f4" fill-opacity="0.16" stroke="#333" stroke-opacity="0.15" stroke-width="1.7"/>
<circle cx="54.5" cy="261.7" r="1.4" fill="none" stroke="#333" stroke-opacity="0.34" stroke-width="0.7"/>
<circle cx="64.9" cy="220.4" r="1.6" fill="#f4f4f4" fill-opacity="0.36" stroke="#333" stroke-opacity="0.08" stroke-width="1.7"/>
<circle cx="64.9" cy="220.4" r="1.6" fill="none" stroke="#333" stroke-opacity="0.17" stroke-width="0.7"/>
<circle cx="70.7" cy="170.4" r="1.2" fill="#f4f4f4" fill-opacity="0.30" stroke="#333" stroke-opacity="0.10" stroke-width="1.7"/>
<circle cx="70.7" cy="170.4" r="1.2" fill="none" stroke="#333" stroke-opacity="0.22" stroke-width="0.7"/>
<circle cx="116.0" cy="216.2" r="1.5" fill="#f4f4f4" fill-opacity="0.33" stroke="#333" stroke-opacity="0.10" stroke-width="1.7"/>
<circle cx="116.0" cy="216.2" r="1.5" fill="none" stroke="#333" stroke-opacity="0.23" stroke-width="0.7"/>
<circle cx="34.1" cy="240.8" r="1.0" fill="#f4f4f4" fill-opacity="0.16" stroke="#333" stroke-opacity="0.12" stroke-width="1.7"/>
<circle cx="34.1" cy="240.8" r="1.0" fill="none" stroke="#333" stroke-opacity="0.27" stroke-width="0.7"/>
<circle cx="58.1" cy="183.5" r="1.1" fill="#f4f4f4" fill-opacity="0.26" stroke="#333" stroke-opacity="0.12" stroke-width="1.7"/>
<circle cx="58.1" cy="183.5" r="1.1" fill="none" stroke="#333" stroke-opacity="0.27" stroke-width="0.7"/>
<circle cx="62.3" cy="224.2" r="1.6" fill="#f4f4f4" fill-opacity="0.28" stroke="#333" stroke-opacity="0.10" stroke-width="1.7"/>
<circle cx="62.3" cy="224.2" r="1.6" fill="none" stroke="#333" stroke-opacity="0.22" stroke-width="0.7"/>
<circle cx="71.5" cy="264.4" r="1.1" fill="#f4f4f4" fill-opacity="0.17" stroke="#333" stroke-opacity="0.13" stroke-width="1.7"/>
<circle cx="71.5" cy="264.4" r="1.1" fill="none" stroke="#333" stroke-opacity="0.29" stroke-width="0.7"/>
<circle cx="49.6" cy="239.6" r="1.4" fill="#f4f4f4" fill-opacity="0.12" stroke="#333" stroke-opacity="0.09" stroke-width="1.7"/>
<circle cx="49.6" cy="239.6" r="1.4" fill="none" stroke="#333" stroke-opacity="0.20" stroke-width="0.7"/>
<circle cx="105.8" cy="204.7" r="1.5" fill="#f4f4f4" fill-opacity="0.29" stroke="#333" stroke-opacity="0.11" stroke-width="1.7"/>
<circle cx="105.8" cy="204.7" r="1.5" fill="none" stroke="#333" stroke-opacity="0.24" stroke-width="0.7"/>
<circle cx="79.3" cy="263.9" r="1.7" fill="#f4f4f4" fill-opacity="0.25" stroke="#333" stroke-opacity="0.11" stroke-width="1.7"/>
<circle cx="79.3" cy="263.9" r="1.7" fill="none" stroke="#333" stroke-opacity="0.24" stroke-width="0.7"/>
<circle cx="46.6" cy="241.9" r="0.9" fill="#f4f4f4" fill-opacity="0.35" stroke="#333" stroke-opacity="0.09" stroke-width="1.7"/>
<circle cx="46.6" cy="241.9" r="0.9" fill="none" stroke="#333" stroke-opacity="0.21" stroke-width="0.7"/>
<circle cx="27.1" cy="236.4" r="1.4" fill="#f4f4f4" fill-opacity="0.20" stroke="#333" stroke-opacity="0.12" stroke-width="1.7"/>
<circle cx="27.1" cy="236.4" r="1.4" fill="none" stroke="#333" stroke-opacity="0.26" stroke-width="0.7"/>
<circle cx="38.7" cy="261.4" r="1.6" fill="#f4f4f4" fill-opacity="0.13" stroke="#333" stroke-opacity="0.14" stroke-width="1.7"/>
<circle cx="38.7" cy="261.4" r="1.6" fill="none" stroke="#333" stroke-opacity="0.32" stroke-width="0.7"/>
<circle cx="101.7" cy="188.9" r="1.0" fill="#f4f4f4" fill-opacity="0.28" stroke="#333" stroke-opacity="0.12" stroke-width="1.7"/>
<circle cx="101.7" cy="188.9" r="1.0" fill="none" stroke="#333" stroke-opacity="0.26" stroke-width="0.7"/>
<circle cx="35.6" cy="243.0" r="1.4" fill="#f4f4f4" fill-opacity="0.38" stroke="#333" stroke-opacity="0.15" stroke-width="1.7"/>
<circle cx="35.6" cy="243.0" r="1.4" fill="none" stroke="#333" stroke-opacity="0.34" stroke-width="0.7"/>
<circle cx="92.3" cy="203.3" r="1.8" fill="#f4f4f4" fill-opacity="0.19" stroke="#333" stroke-opacity="0.13" stroke-width="1.7"/>
<circle cx="92.3" cy="203.3" r="1.8" fill="none" stroke="#333" stroke-opacity="0.30" stroke-width="0.7"/>
<circle cx="109.0" cy="239.3" r="1.1" fill="#f4f4f4" fill-opacity="0.11" stroke="#333" stroke-opacity="0.09" stroke-width="1.7"/>
<circle cx="109.0" cy="239.3" r="1.1" fill="none" stroke="#333" stroke-opacity="0.19" stroke-width="0.7"/>
<circle cx="77.1" cy="192.4" r="1.1" fill="#f4f4f4" fill-opacity="0.14" stroke="#333" stroke-opacity="0.09" stroke-width="1.7"/>
<circle cx="77.1" cy="192.4" r="1.1" fill="none" stroke="#333" stroke-opacity="0.20" stroke-width="0.7"/>
<circle cx="71.9" cy="194.3" r="1.1" fill="#f4f4f4" fill-opacity="0.25" stroke="#333" stroke-opacity="0.09" stroke-width="1.7"/>
<circle cx="71.9" cy="194.3" r="1.1" fill="none" stroke="#333" stroke-opacity="0.20" stroke-width="0.7"/>
<circle cx="110.6" cy="183.2" r="1.7" fill="#f4f4f4" fill-opacity="0.28" stroke="#333" stroke-opacity="0.15" stroke-width="1.7"/>
<circle cx="110.6" cy="183.2" r="1.7" fill="none" stroke="#333" stroke-opacity="0.33" stroke-width="0.7"/>
<circle cx="77.8" cy="240.0" r="1.3" fill="#f4f4f4" fill-opacity="0.38" stroke="#333" stroke-opacity="0.13" stroke-width="1.7"/>
<circle cx="77.8" cy="240.0" r="1.3" fill="none" stroke="#333" stroke-opacity="0.29" stroke-width="0.7"/>
<circle cx="100.8" cy="193.0" r="0.9" fill="#f4f4f4" fill-opacity="0.21" stroke="#333" stroke-opacity="0.16" stroke-width="1.7"/>
<circle cx="100.8" cy="193.0" r="0.9" fill="none" stroke="#333" stroke-opacity="0.35" stroke-width="0.7"/>
<circle cx="102.0" cy="190.4" r="1.3" fill="#f4f4f4" fill-opacity="0.32" stroke="#333" stroke-opacity="0.10" stroke-width="1.7"/>
<circle cx="102.0" cy="190.4" r="1.3" fill="none" stroke="#333" stroke-opacity="0.22" stroke-width="0.7"/>
<circle cx="117.6" cy="217.4" r="1.4" fill="#f4f4f4" fill-opacity="0.17" stroke="#333" stroke-opacity="0.10" stroke-width="1.7"/>
<circle cx="117.6" cy="217.4" r="1.4" fill="none" stroke="#333" stroke-opacity="0.22" stroke-width="0.7"/>
<circle cx="118.2" cy="178.2" r="1.7" fill="#f4f4f4" fill-opacity="0.12" stroke="#333" stroke-opacity="0.13" stroke-width="1.7"/>
<circle cx="118.2" cy="178.2" r="1.7" fill="none" stroke="#333" stroke-opacity="0.28" stroke-width="0.7"/>
<circle cx="113.4" cy="177.4" r="1.4" fill="#f4f4f4" fill-opacity="0.40" stroke="#333" stroke-opacity="0.07" stroke-width="1.7"/>
<circle cx="113.4" cy="177.4" r="1.4" fill="none" stroke="#333" stroke-opacity="0.17" stroke-width="0.7"/>
<circle cx="54.4" cy="253.6" r="0.9" fill="#f4f4f4" fill-opacity="0.12" stroke="#333" stroke-opacity="0.13" stroke-width="1.7"/>
<circle cx="54.4" cy="253.6" r="0.9" fill="none" stroke="#333" stroke-opacity="0.29" stroke-width="0.7"/>
<circle cx="26.6" cy="223.8" r="1.8" fill="#f4f4f4" fill-opacity="0.36" stroke="#333" stroke-opacity="0.13" stroke-width="1.7"/>
<circle cx="26.6" cy="223.8" r="1.8" fill="none" stroke="#333" stroke-opacity="0.29" stroke-width="0.7"/>
<circle cx="101.8" cy="218.9" r="0.9" fill="#f4f4f4" fill-opacity="0.16" stroke="#333" stroke-opacity="0.12" stroke-width="1.7"/>
<circle cx="101.8" cy="218.9" r="0.9" fill="none" stroke="#333" stroke-opacity="0.26" stroke-width="0.7"/>
<circle cx="76.1" cy="202.4" r="1.3" fill="#f4f4f4" fill-opacity="0.31" stroke="#333" stroke-opacity="0.08" stroke-width="1.7"/>
<circle cx="76.1" cy="202.4" r="1.3" fill="none" stroke="#333" stroke-opacity="0.18" stroke-width="0.7"/>
<circle cx="65.2" cy="215.4" r="0.9" fill="#f4f4f4" fill-opacity="0.27" stroke="#333" stroke-opacity="0.11" stroke-width="1.7"/>
<circle cx="65.2" cy="215.4" r="0.9" fill="none" stroke="#333" stroke-opacity="0.25" stroke-width="0.7"/>
<circle cx="120.5" cy="222.9" r="0.9" fill="#f4f4f4" fill-opacity="0.20" stroke="#333" stroke-opacity="0.09" stroke-width="1.7"/>
<circle cx="120.5" cy="222.9" r="0.9" fill="none" stroke="#333" stroke-opacity="0.21" stroke-width="0.7"/>
<circle cx="93.5" cy="260.2" r="1.8" fill="#f4f4f4" fill-opacity="0.38" stroke="#333" stroke-opacity="0.16" stroke-width="1.7"/>
<circle cx="93.5" cy="260.2" r="1.8" fill="none" stroke="#333" stroke-opacity="0.35" stroke-width="0.7"/>
<circle cx="109.1" cy="259.9" r="0.8" fill="#f4f4f4" fill-opacity="0.28" stroke="#333" stroke-opacity="0.11" stroke-width="1.7"/>
<circle cx="109.1" cy="259.9" r="0.8" fill="none" stroke="#333" stroke-opacity="0.25" stroke-width="0.7"/>
<circle cx="91.9" cy="228.0" r="1.4" fill="#f4f4f4" fill-opacity="0.13" stroke="#333" stroke-opacity="0.16" stroke-width="1.7"/>
<circle cx="91.9" cy="228.0" r="1.4" fill="none" stroke="#333" stroke-opacity="0.35" stroke-width="0.7"/>
<circle cx="75.3" cy="262.3" r="0.8" fill="#f4f4f4" fill-opacity="0.36" stroke="#333" stroke-opacity="0.07" stroke-width="1.7"/>
<circle cx="75.3" cy="262.3" r="0.8" fill="none" stroke="#333" stroke-opacity="0.16" stroke-width="0.7"/>
<circle cx="118.9" cy="169.7" r="0.8" fill="#f4f4f4" fill-opacity="0.31" stroke="#333" stroke-opacity="0.15" stroke-width="1.7"/>
<circle cx="118.9" cy="169.7" r="0.8" fill="none" stroke="#333" stroke-opacity="0.32" stroke-width="0.7"/>
<circle cx="75.4" cy="224.7" r="1.6" fill="#f4f4f4" fill-opacity="0.10" stroke="#333" stroke-opacity="0.14" stroke-width="1.7"/>
<circle cx="75.4" cy="224.7" r="1.6" fill="none" stroke="#333" stroke-opacity="0.32" stroke-width="0.7"/>
<circle cx="30.4" cy="245.9" r="1.8" fill="#f4f4f4" fill-opacity="0.22" stroke="#333" stroke-opacity="0.15" stroke-width="1.7"/>
<circle cx="30.4" cy="245.9" r="1.8" fill="none" stroke="#333" stroke-opacity="0.32" stroke-width="0.7"/>
<circle cx="57.0" cy="201.6" r="0.8" fill="#f4f4f4" fill-opacity="0.18" stroke="#333" stroke-opacity="0.14" stroke-width="1.7"/>
<circle cx="57.0" cy="201.6" r="0.8" fill="none" stroke="#333" stroke-opacity="0.31" stroke-width="0.7"/>
<circle cx="81.9" cy="219.4" r="1.1" fill="#f4f4f4" fill-opacity="0.24" stroke="#333" stroke-opacity="0.13" stroke-width="1.7"/>
<circle cx="81.9" cy="219.4" r="1.1" fill="none" stroke="#333" stroke-opacity="0.29" stroke-width="0.7"/>
<circle cx="46.9" cy="254.6" r="1.0" fill="#f4f4f4" fill-opacity="0.18" stroke="#333" stroke-opacity="0.08" stroke-width="1.7"/>
<circle cx="46.9" cy="254.6" r="1.0" fill="none" stroke="#333" stroke-opacity="0.17" stroke-width="0.7"/>
<circle cx="71.3" cy="244.9" r="1.1" fill="#f4f4f4" fill-opacity="0.30" stroke="#333" stroke-opacity="0.09" stroke-width="1.7"/>
<circle cx="71.3" cy="244.9" r="1.1" fill="none" stroke="#333" stroke-opacity="0.19" stroke-width="0.7"/>
<circle cx="49.5" cy="219.1" r="1.1" fill="#f4f4f4" fill-opacity="0.16" stroke="#333" stroke-opacity="0.15" stroke-width="1.7"/>
<circle cx="49.5" cy="219.1" r="1.1" fill="none" stroke="#333" stroke-opacity="0.33" stroke-width="0.7"/>
<circle cx="46.7" cy="197.1" r="1.1" fill="#f4f4f4" fill-opacity="0.30" stroke="#333" stroke-opacity="0.13" stroke-width="1.7"/>
<circle cx="46.7" cy="197.1" r="1.1" fill="none" stroke="#333" stroke-opacity="0.30" stroke-width="0.7"/>
<circle cx="102.3" cy="220.8" r="0.9" fill="#f4f4f4" fill-opacity="0.17" stroke="#333" stroke-opacity="0.14" stroke-width="1.7"/>
<circle cx="102.3" cy="220.8" r="0.9" fill="none" stroke="#333" stroke-opacity="0.31" stroke-width="0.7"/>
<circle cx="45.3" cy="208.3" r="1.8" fill="#f4f4f4" fill-opacity="0.21" stroke="#333" stroke-opacity="0.10" stroke-width="1.7"/>
<circle cx="45.3" cy="208.3" r="1.8" fill="none" stroke="#333" stroke-opacity="0.22" stroke-width="0.7"/>
<circle cx="114.3" cy="265.4" r="1.2" fill="#f4f4f4" fill-opacity="0.34" stroke="#333" stroke-opacity="0.08" stroke-width="1.7"/>
<circle cx="114.3" cy="265.4" r="1.2" fill="none" stroke="#333" stroke-opacity="0.17" stroke-width="0.7"/>
<circle cx="101.5" cy="200.8" r="1.6" fill="#f4f4f4" fill-opacity="0.19" stroke="#333" stroke-opacity="0.10" stroke-width="1.7"/>
<circle cx="101.5" cy="200.8" r="1.6" fill="none" stroke="#333" stroke-opacity="0.22" stroke-width="0.7"/>
<circle cx="82.7" cy="240.7" r="1.3" fill="#f4f4f4" fill-opacity="0.10" stroke="#333" stroke-opacity="0.14" stroke-width="1.7"/>
<circle cx="82.7" cy="240.7" r="1.3" fill="none" stroke="#333" stroke-opacity="0.32" stroke-width="0.7"/>
<circle cx="73.3" cy="205.0" r="0.9" fill="#f4f4f4" fill-opacity="0.14" stroke="#333" stroke-opacity="0.15" stroke-width="1.7"/>
<circle cx="73.3" cy="205.0" r="0.9" fill="none" stroke="#333" stroke-opacity="0.34" stroke-width="0.7"/>
<circle cx="44.1" cy="254.2" r="1.8" fill="#f4f4f4" fill-opacity="0.20" stroke="#333" stroke-opacity="0.16" stroke-width="1.7"/>
<circle cx="44.1" cy="254.2" r="1.8" fill="none" stroke="#333" stroke-opacity="0.34" stroke-width="0.7"/>
<circle cx="116.3" cy="181.3" r="1.5" fill="#f4f4f4" fill-opacity="0.16" stroke="#333" stroke-opacity="0.16" stroke-width="1.7"/>
<circle cx="116.3" cy="181.3" r="1.5" fill="none" stroke="#333" stroke-opacity="0.35" stroke-width="0.7"/>
<circle cx="37.1" cy="234.4" r="1.7" fill="#f4f4f4" fill-opacity="0.38" stroke="#333" stroke-opacity="0.13" stroke-width="1.7"/>
<circle cx="37.1" cy="234.4" r="1.7" fill="none" stroke="#333" stroke-opacity="0.30" stroke-width="0.7"/>
<circle cx="68.8" cy="204.2" r="0.9" fill="#f4f4f4" fill-opacity="0.38" stroke="#333" stroke-opacity="0.09" stroke-width="1.7"/>
<circle cx="68.8" cy="204.2" r="0.9" fill="none" stroke="#333" stroke-opacity="0.20" stroke-width="0.7"/>
<circle cx="30.7" cy="185.6" r="1.1" fill="#f4f4f4" fill-opacity="0.19" stroke="#333" stroke-opacity="0.07" stroke-width="1.7"/>
<circle cx="30.7" cy="185.6" r="1.1" fill="none" stroke="#333" stroke-opacity="0.15" stroke-width="0.7"/>
<circle cx="41.8" cy="179.5" r="1.3" fill="#f4f4f4" fill-opacity="0.27" stroke="#333" stroke-opacity="0.12" stroke-width="1.7"/>
<circle cx="41.8" cy="179.5" r="1.3" fill="none" stroke="#333" stroke-opacity="0.26" stroke-width="0.7"/>
</g>
<rect x="23.6" y="167.3" width="99.6" height="99.0" filter="url(#mott)" opacity="0.3"/>
</g>
<rect x="99.40" y="258.40" width="21.60" height="1.80" fill="#111"/>
<rect x="216.90" y="35.41" width="17.00" height="72.29" fill="#1c1c1c"/>
<line x1="225.40" y1="35.41" x2="225.40" y2="23.52" stroke="#141414" stroke-width="0.9"/>
<line x1="221.20" y1="23.52" x2="229.60" y2="23.52" stroke="#141414" stroke-width="0.9"/>
<rect x="240.90" y="88.38" width="17.00" height="19.32" fill="#1c1c1c"/>
<line x1="249.40" y1="88.38" x2="249.40" y2="86.19" stroke="#141414" stroke-width="0.9"/>
<line x1="245.20" y1="86.19" x2="253.60" y2="86.19" stroke="#141414" stroke-width="0.9"/>
<rect x="264.80" y="105.50" width="17.00" height="2.20" fill="#1c1c1c"/>
<line x1="273.30" y1="105.50" x2="273.30" y2="105.02" stroke="#141414" stroke-width="0.9"/>
<line x1="269.10" y1="105.02" x2="277.50" y2="105.02" stroke="#141414" stroke-width="0.9"/>
<rect x="289.00" y="106.45" width="17.00" height="1.25" fill="#1c1c1c"/>
<line x1="297.50" y1="106.45" x2="297.50" y2="106.07" stroke="#141414" stroke-width="0.9"/>
<line x1="293.30" y1="106.07" x2="301.70" y2="106.07" stroke="#141414" stroke-width="0.9"/>
<line x1="213.20" y1="11.80" x2="213.20" y2="108.00" stroke="#141414" stroke-width="1.4"/>
<line x1="212.60" y1="107.70" x2="310.60" y2="107.70" stroke="#141414" stroke-width="1.7"/>
<line x1="209.60" y1="107.40" x2="213.20" y2="107.40" stroke="#141414" stroke-width="1.0"/>
<text x="209.40" y="110.50" font-size="8.7" text-anchor="end" font-weight="normal" fill="#141414" stroke="#141414" stroke-width="0.22">0</text>
<line x1="209.60" y1="83.62" x2="213.20" y2="83.62" stroke="#141414" stroke-width="1.0"/>
<text x="209.40" y="86.72" font-size="8.7" text-anchor="end" font-weight="normal" fill="#141414" stroke="#141414" stroke-width="0.22">25</text>
<line x1="209.60" y1="59.85" x2="213.20" y2="59.85" stroke="#141414" stroke-width="1.0"/>
<text x="209.40" y="62.95" font-size="8.7" text-anchor="end" font-weight="normal" fill="#141414" stroke="#141414" stroke-width="0.22">50</text>
<line x1="209.60" y1="36.08" x2="213.20" y2="36.08" stroke="#141414" stroke-width="1.0"/>
<text x="209.40" y="39.18" font-size="8.7" text-anchor="end" font-weight="normal" fill="#141414" stroke="#141414" stroke-width="0.22">75</text>
<line x1="209.60" y1="12.30" x2="213.20" y2="12.30" stroke="#141414" stroke-width="1.0"/>
<text x="209.40" y="15.40" font-size="8.7" text-anchor="end" font-weight="normal" fill="#141414" stroke="#141414" stroke-width="0.22">100</text>
<line x1="225.40" y1="107.40" x2="225.40" y2="110.80" stroke="#141414" stroke-width="1.0"/>
<text x="228.20" y="118.40" font-size="9.0" text-anchor="end" font-weight="normal" fill="#141414" transform="rotate(-45 228.20 118.40)" stroke="#141414" stroke-width="0.22">30-100</text>
<line x1="249.40" y1="107.40" x2="249.40" y2="110.80" stroke="#141414" stroke-width="1.0"/>
<text x="252.20" y="118.40" font-size="9.0" text-anchor="end" font-weight="normal" fill="#141414" transform="rotate(-45 252.20 118.40)" stroke="#141414" stroke-width="0.22">100-200</text>
<line x1="273.30" y1="107.40" x2="273.30" y2="110.80" stroke="#141414" stroke-width="1.0"/>
<text x="276.10" y="118.40" font-size="9.0" text-anchor="end" font-weight="normal" fill="#141414" transform="rotate(-45 276.10 118.40)" stroke="#141414" stroke-width="0.22">200-300</text>
<line x1="297.50" y1="107.40" x2="297.50" y2="110.80" stroke="#141414" stroke-width="1.0"/>
<text x="300.30" y="118.40" font-size="9.0" text-anchor="end" font-weight="normal" fill="#141414" transform="rotate(-45 300.30 118.40)" stroke="#141414" stroke-width="0.22">300-400</text>
<text x="189.60" y="59.60" font-size="9.05" text-anchor="middle" font-weight="normal" fill="#141414" transform="rotate(-90 189.60 59.60)" stroke="#141414" stroke-width="0.22">Vesicle number/image</text>
<text x="262.00" y="154.30" font-size="9.1" text-anchor="middle" font-weight="normal" fill="#141414" stroke="#141414" stroke-width="0.22">Vesicle size [nm]</text>
<rect x="216.90" y="180.17" width="17.00" height="86.43" fill="#1c1c1c"/>
<line x1="225.40" y1="180.17" x2="225.40" y2="171.08" stroke="#141414" stroke-width="0.9"/>
<line x1="221.20" y1="171.08" x2="229.60" y2="171.08" stroke="#141414" stroke-width="0.9"/>
<rect x="240.90" y="258.26" width="17.00" height="8.34" fill="#1c1c1c"/>
<line x1="249.40" y1="258.26" x2="249.40" y2="257.50" stroke="#141414" stroke-width="0.9"/>
<line x1="245.20" y1="257.50" x2="253.60" y2="257.50" stroke="#141414" stroke-width="0.9"/>
<rect x="264.80" y="261.51" width="17.00" height="5.09" fill="#1c1c1c"/>
<line x1="273.30" y1="261.51" x2="273.30" y2="260.94" stroke="#141414" stroke-width="0.9"/>
<line x1="269.10" y1="260.94" x2="277.50" y2="260.94" stroke="#141414" stroke-width="0.9"/>
<rect x="289.00" y="264.77" width="17.00" height="1.83" fill="#1c1c1c"/>
<line x1="297.50" y1="264.77" x2="297.50" y2="264.29" stroke="#141414" stroke-width="0.9"/>
<line x1="293.30" y1="264.29" x2="301.70" y2="264.29" stroke="#141414" stroke-width="0.9"/>
<line x1="213.20" y1="170.10" x2="213.20" y2="266.90" stroke="#141414" stroke-width="1.4"/>
<line x1="212.60" y1="266.60" x2="310.60" y2="266.60" stroke="#141414" stroke-width="1.7"/>
<line x1="209.60" y1="266.30" x2="213.20" y2="266.30" stroke="#141414" stroke-width="1.0"/>
<text x="209.40" y="269.40" font-size="8.7" text-anchor="end" font-weight="normal" fill="#141414" stroke="#141414" stroke-width="0.22">0</text>
<line x1="209.60" y1="242.38" x2="213.20" y2="242.38" stroke="#141414" stroke-width="1.0"/>
<text x="209.40" y="245.47" font-size="8.7" text-anchor="end" font-weight="normal" fill="#141414" stroke="#141414" stroke-width="0.22">25</text>
<line x1="209.60" y1="218.45" x2="213.20" y2="218.45" stroke="#141414" stroke-width="1.0"/>
<text x="209.40" y="221.55" font-size="8.7" text-anchor="end" font-weight="normal" fill="#141414" stroke="#141414" stroke-width="0.22">50</text>
<line x1="209.60" y1="194.52" x2="213.20" y2="194.52" stroke="#141414" stroke-width="1.0"/>
<text x="209.40" y="197.62" font-size="8.7" text-anchor="end" font-weight="normal" fill="#141414" stroke="#141414" stroke-width="0.22">75</text>
<line x1="209.60" y1="170.60" x2="213.20" y2="170.60" stroke="#141414" stroke-width="1.0"/>
<text x="209.40" y="173.70" font-size="8.7" text-anchor="end" font-weight="normal" fill="#141414" stroke="#141414" stroke-width="0.22">100</text>
<line x1="225.40" y1="266.30" x2="225.40" y2="269.70" stroke="#141414" stroke-width="1.0"/>
<text x="228.20" y="277.30" font-size="9.0" text-anchor="end" font-weight="normal" fill="#141414" transform="rotate(-45 228.20 277.30)" stroke="#141414" stroke-width="0.22">30-100</text>
<line x1="249.40" y1="266.30" x2="249.40" y2="269.70" stroke="#141414" stroke-width="1.0"/>
<text x="252.20" y="277.30" font-size="9.0" text-anchor="end" font-weight="normal" fill="#141414" transform="rotate(-45 252.20 277.30)" stroke="#141414" stroke-width="0.22">100-200</text>
<line x1="273.30" y1="266.30" x2="273.30" y2="269.70" stroke="#141414" stroke-width="1.0"/>
<text x="276.10" y="277.30" font-size="9.0" text-anchor="end" font-weight="normal" fill="#141414" transform="rotate(-45 276.10 277.30)" stroke="#141414" stroke-width="0.22">200-300</text>
<line x1="297.50" y1="266.30" x2="297.50" y2="269.70" stroke="#141414" stroke-width="1.0"/>
<text x="300.30" y="277.30" font-size="9.0" text-anchor="end" font-weight="normal" fill="#141414" transform="rotate(-45 300.30 277.30)" stroke="#141414" stroke-width="0.22">300-400</text>
<text x="189.30" y="218.10" font-size="9.05" text-anchor="middle" font-weight="normal" fill="#141414" transform="rotate(-90 189.30 218.10)" stroke="#141414" stroke-width="0.22">Vesicle number/image</text>
<text x="262.00" y="313.00" font-size="9.1" text-anchor="middle" font-weight="normal" fill="#141414" stroke="#141414" stroke-width="0.22">Vesicle size [nm]</text>
<line x1="374.20" y1="103.73" x2="512.80" y2="103.73" stroke="#222" stroke-width="1.4"/>
<path d="M390.76,106.70 L391.45,106.13 L392.14,105.09 L392.83,102.79 L393.52,99.76 L394.21,96.62 L394.90,94.01 L395.59,91.89 L396.28,89.90 L396.97,87.93 L397.66,85.89 L398.35,83.83 L399.04,81.76 L399.73,79.68 L400.42,77.52 L401.11,75.36 L401.80,73.31 L402.49,71.43 L403.18,69.64 L403.87,67.98 L404.56,66.52 L405.25,65.03 L405.94,63.91 L406.63,63.57 L407.32,63.39 L408.01,63.27 L408.70,63.24 L409.39,63.43 L410.08,63.85 L410.77,64.41 L411.46,65.00 L412.15,66.26 L412.84,67.33 L413.53,66.91 L414.22,67.67 L414.91,68.25 L415.60,69.89 L416.29,70.97 L416.98,71.81 L417.67,73.30 L418.36,73.87 L419.05,73.55 L419.74,75.70 L420.43,75.93 L421.12,77.38 L421.81,79.10 L422.50,79.80 L423.19,81.14 L423.88,81.20 L424.57,82.29 L425.26,84.17 L425.95,85.07 L426.64,85.65 L427.33,86.76 L428.02,87.61 L428.71,87.41 L429.40,90.92 L430.09,90.05 L430.78,90.83 L431.47,91.29 L432.16,92.35 L432.85,91.90 L433.54,93.98 L434.23,93.85 L434.92,95.48 L435.61,96.00 L436.30,96.83 L436.99,96.20 L437.68,97.81 L438.37,97.42 L439.06,97.20 L439.75,98.22 L440.44,99.23 L441.13,98.74 L441.82,100.25 L442.51,101.17 L443.20,101.48 L443.89,101.68 L444.58,101.23 L445.27,101.78 L445.96,101.08 L446.65,101.35 L447.34,102.26 L448.03,104.36 L448.72,105.42 L449.41,105.77 L450.10,105.93 L450.79,105.60 L451.48,106.47 L452.17,105.34 L452.86,106.17 L453.55,104.96 L454.24,106.67 L454.93,106.42 L455.62,106.56 L456.31,105.08 L457.00,106.46 L457.69,106.53 L458.38,106.32 L459.07,106.68 L459.76,103.64 L460.45,103.60 L461.14,106.68 L461.83,105.53 L462.52,106.68 L463.21,106.10 L463.90,106.16 L464.59,105.97 L465.28,104.35 L465.97,106.51 L466.66,105.83 L467.35,106.52 L468.04,104.24 L468.73,106.53 L469.42,106.34 L470.11,105.78 L470.80,104.74 L471.49,106.65 L472.18,106.27 L472.87,106.22 L473.56,106.59 L474.25,106.59 L474.94,106.20 L475.63,105.56 L476.32,106.24 L477.01,104.58 L477.70,105.92 L478.39,104.73 L479.08,106.07 L479.77,106.35 L480.46,104.77 L481.15,106.68 L481.84,105.35 L482.53,104.27 L483.22,104.68 L483.91,106.49 L484.60,106.23 L485.29,106.36 L485.98,105.19 L486.67,105.17 L487.36,106.54 L488.05,106.66 L488.74,106.10 L489.43,106.16 L490.12,106.66 L490.81,104.45 L491.50,106.68 L492.19,106.45 L492.88,106.66 L493.57,104.92 L494.26,105.74 L494.95,106.54 L495.64,106.27 L496.33,106.35 L497.02,105.91 L497.71,104.81 L498.40,106.11 L499.09,106.24 L499.78,106.26 L500.47,105.64 L501.16,105.42 L501.85,106.58 L502.54,105.73 L503.23,105.09 L503.92,106.07 L504.61,106.66 L505.30,104.79 L505.99,106.30 L506.68,106.02 L507.37,106.14 L508.06,105.69 L508.75,106.57 L509.44,106.06 L510.13,106.69 L510.82,104.77 L511.51,105.88 L512.20,106.62" fill="none" stroke="#6fae45" stroke-width="1.35" stroke-linejoin="round" stroke-linecap="butt"/>
<path d="M388.34,106.70 L389.03,106.00 L389.72,104.60 L390.41,101.27 L391.11,96.75 L391.80,91.97 L392.49,86.78 L393.18,81.02 L393.87,75.60 L394.56,70.24 L395.25,65.45 L395.94,61.58 L396.62,58.24 L397.31,55.81 L398.00,53.84 L398.69,53.03 L399.38,53.23 L400.07,53.68 L400.76,54.21 L401.45,54.88 L402.14,55.76 L402.83,56.80 L403.52,57.92 L404.21,59.07 L404.91,60.35 L405.60,62.45 L406.29,63.62 L406.98,65.09 L407.67,65.52 L408.36,68.98 L409.05,69.71 L409.74,71.34 L410.43,74.63 L411.12,76.25 L411.81,77.01 L412.50,78.59 L413.19,79.17 L413.88,81.43 L414.56,83.27 L415.25,83.83 L415.94,85.87 L416.63,86.77 L417.33,87.72 L418.02,88.04 L418.71,88.19 L419.40,88.94 L420.09,90.33 L420.78,91.44 L421.47,92.16 L422.16,92.53 L422.85,93.16 L423.54,95.31 L424.23,95.39 L424.92,95.50 L425.61,98.27 L426.30,98.41 L426.99,98.25 L427.68,98.99 L428.37,100.34 L429.06,99.78 L429.75,99.90 L430.44,100.63 L431.12,101.32 L431.82,101.16 L432.51,102.26 L433.20,102.49 L433.89,103.47 L434.58,103.07 L435.27,104.08 L435.96,103.85 L436.65,104.55 L437.34,104.22 L438.03,105.09 L438.72,104.73 L439.41,105.51 L440.10,105.35 L440.79,105.40 L441.48,105.97 L442.17,105.98 L442.86,106.13 L443.55,105.69 L444.24,105.89 L444.93,106.59 L445.62,106.66 L446.31,106.69 L447.00,104.42 L447.69,106.54 L448.38,104.79 L449.07,106.06 L449.76,106.22 L450.45,106.39 L451.14,106.65 L451.83,106.20 L452.52,106.57 L453.21,106.26 L453.90,106.28 L454.59,106.26 L455.28,106.67 L455.97,106.18 L456.66,106.32 L457.35,104.67 L458.04,105.16 L458.73,106.65 L459.42,106.42 L460.11,106.21 L460.80,104.98 L461.49,104.42 L462.18,106.59 L462.87,105.74 L463.56,106.57 L464.25,106.09 L464.94,106.36 L465.63,105.50 L466.32,104.13 L467.01,106.45 L467.70,105.97 L468.39,106.25 L469.08,106.55 L469.77,106.56 L470.46,106.64 L471.15,106.37 L471.84,106.65 L472.53,106.46 L473.22,106.05 L473.91,106.14 L474.60,106.62 L475.29,105.10 L475.98,106.58 L476.67,103.94 L477.36,106.52 L478.05,106.46 L478.74,104.82 L479.43,106.41 L480.12,106.45 L480.81,103.40 L481.50,106.45 L482.19,106.43 L482.88,106.28 L483.57,106.11 L484.26,103.61 L484.95,106.17 L485.64,105.74 L486.33,105.67 L487.02,106.45 L487.71,105.27 L488.40,106.21 L489.09,106.43 L489.78,106.12 L490.47,106.49 L491.16,105.95 L491.85,106.40 L492.54,105.16 L493.23,106.34 L493.92,106.05 L494.61,105.65 L495.30,106.57 L495.99,106.45 L496.68,105.03 L497.37,106.28 L498.06,105.83 L498.75,106.16 L499.44,106.17 L500.13,104.43 L500.82,106.59 L501.51,106.27 L502.20,105.73 L502.89,106.65 L503.58,106.27 L504.27,106.01 L504.96,104.90 L505.65,106.43 L506.34,106.69 L507.03,106.54 L507.72,105.06 L508.41,104.56 L509.10,105.97 L509.79,106.23 L510.48,105.07 L511.17,105.48 L511.86,105.92" fill="none" stroke="#7299c8" stroke-width="1.35" stroke-linejoin="round" stroke-linecap="butt"/>
<path d="M386.62,106.70 L387.31,105.57 L388.00,103.47 L388.69,98.94 L389.38,92.92 L390.07,86.60 L390.76,79.25 L391.45,71.43 L392.14,64.89 L392.83,59.14 L393.52,54.18 L394.21,49.82 L394.90,45.81 L395.59,42.69 L396.28,40.77 L396.97,39.29 L397.66,38.55 L398.35,39.08 L399.04,40.76 L399.73,42.93 L400.42,45.12 L401.11,47.77 L401.80,50.74 L402.49,53.74 L403.18,56.80 L403.87,59.98 L404.56,63.03 L405.25,65.73 L405.94,68.19 L406.63,70.50 L407.32,72.74 L408.01,74.91 L408.70,77.01 L409.39,79.07 L410.08,81.16 L410.77,83.32 L411.46,85.40 L412.15,87.23 L412.84,88.75 L413.53,90.10 L414.22,91.36 L414.91,92.58 L415.60,93.74 L416.29,94.86 L416.98,95.93 L417.67,96.96 L418.36,98.02 L419.05,99.09 L419.74,100.10 L420.43,101.00 L421.12,101.71 L421.81,102.28 L422.50,102.80 L423.19,103.26 L423.88,103.68 L424.57,104.05 L425.26,104.38 L425.95,104.66 L426.64,104.90 L427.33,105.13 L428.02,105.33 L428.71,105.51 L429.40,105.67 L430.09,105.83 L430.78,105.99 L431.47,106.15 L432.16,106.33 L432.85,106.49 L433.54,106.62 L434.23,106.69 L434.92,106.02 L435.61,106.23 L436.30,106.32 L436.99,105.94 L437.68,105.92 L438.37,106.21 L439.06,105.88 L439.75,105.55 L440.44,106.59 L441.13,106.68 L441.82,106.55 L442.51,106.13 L443.20,106.29 L443.89,106.52 L444.58,106.51 L445.27,106.51 L445.96,105.76 L446.65,105.71 L447.34,106.70 L448.03,106.56 L448.72,106.54 L449.41,106.37 L450.10,106.20 L450.79,106.18 L451.48,103.89 L452.17,105.98 L452.86,104.64 L453.55,105.59 L454.24,104.53 L454.93,106.49 L455.62,106.57 L456.31,106.28 L457.00,104.66 L457.69,106.15 L458.38,106.03 L459.07,105.62 L459.76,106.50 L460.45,103.83 L461.14,106.06 L461.83,106.04 L462.52,106.31 L463.21,106.10 L463.90,106.55 L464.59,106.46 L465.28,106.39 L465.97,106.23 L466.66,105.88 L467.35,106.35 L468.04,105.47 L468.73,106.67 L469.42,105.26 L470.11,105.50 L470.80,106.58 L471.49,106.22 L472.18,106.30 L472.87,105.63 L473.56,106.39 L474.25,106.31 L474.94,106.66 L475.63,105.91 L476.32,104.52 L477.01,106.28 L477.70,106.63 L478.39,105.71 L479.08,106.50 L479.77,102.97 L480.46,105.12 L481.15,105.63 L481.84,104.08 L482.53,106.63 L483.22,105.65 L483.91,103.17 L484.60,106.40 L485.29,105.27 L485.98,106.34 L486.67,106.39 L487.36,106.61 L488.05,106.49 L488.74,106.44 L489.43,106.68 L490.12,106.45 L490.81,106.34 L491.50,106.42 L492.19,106.36 L492.88,106.37 L493.57,106.56 L494.26,106.28 L494.95,106.19 L495.64,106.23 L496.33,106.57 L497.02,104.67 L497.71,105.53 L498.40,106.57 L499.09,106.10 L499.78,105.95 L500.47,106.58 L501.16,106.57 L501.85,106.52 L502.54,106.64 L503.23,103.78 L503.92,106.55 L504.61,106.48 L505.30,105.94 L505.99,106.33 L506.68,106.03 L507.37,106.60 L508.06,106.62 L508.75,105.02 L509.44,104.68 L510.13,106.16 L510.82,106.52 L511.51,106.65 L512.20,106.28" fill="none" stroke="#bd1a70" stroke-width="1.5" stroke-linejoin="round" stroke-linecap="butt" stroke-dasharray="2 1.4"/>
<path d="M383.17,106.70 L383.86,105.82 L384.55,103.95 L385.24,100.46 L385.93,95.76 L386.62,90.02 L387.31,80.73 L388.00,70.56 L388.69,62.56 L389.38,55.43 L390.07,49.38 L390.76,43.91 L391.45,39.47 L392.14,37.03 L392.83,35.31 L393.52,34.51 L394.21,34.85 L394.90,35.89 L395.59,37.31 L396.28,38.97 L396.97,41.47 L397.66,44.51 L398.35,47.56 L399.04,50.58 L399.73,53.74 L400.42,56.93 L401.11,60.06 L401.80,63.29 L402.49,66.42 L403.18,69.18 L403.87,71.48 L404.56,73.54 L405.25,75.66 L405.94,77.08 L406.63,79.04 L407.32,81.96 L408.01,84.10 L408.70,86.39 L409.39,87.14 L410.08,89.01 L410.77,90.43 L411.46,92.08 L412.15,92.77 L412.84,94.13 L413.53,95.48 L414.22,95.92 L414.91,97.70 L415.60,98.63 L416.29,98.67 L416.98,100.19 L417.67,100.30 L418.36,99.97 L419.05,101.40 L419.74,102.33 L420.43,102.44 L421.12,102.92 L421.81,103.87 L422.50,103.36 L423.19,104.34 L423.88,104.14 L424.57,104.47 L425.26,105.13 L425.95,105.08 L426.64,105.33 L427.33,105.32 L428.02,105.67 L428.71,105.85 L429.40,105.97 L430.09,106.70 L430.78,106.68 L431.47,105.92 L432.16,105.82 L432.85,106.09 L433.54,105.32 L434.23,106.30 L434.92,105.61 L435.61,106.24 L436.30,106.67 L436.99,106.05 L437.68,106.44 L438.37,106.36 L439.06,106.06 L439.75,105.61 L440.44,105.33 L441.13,106.25 L441.82,106.41 L442.51,105.18 L443.20,106.61 L443.89,105.91 L444.58,106.07 L445.27,106.03 L445.96,104.39 L446.65,106.33 L447.34,105.48 L448.03,106.53 L448.72,106.01 L449.41,106.38 L450.10,106.45 L450.79,105.84 L451.48,105.42 L452.17,104.60 L452.86,104.66 L453.55,105.18 L454.24,106.55 L454.93,104.99 L455.62,106.65 L456.31,105.93 L457.00,103.82 L457.69,106.06 L458.38,106.03 L459.07,106.22 L459.76,106.30 L460.45,106.10 L461.14,105.12 L461.83,104.79 L462.52,105.71 L463.21,104.37 L463.90,106.54 L464.59,106.18 L465.28,106.62 L465.97,106.57 L466.66,106.53 L467.35,106.55 L468.04,105.79 L468.73,106.39 L469.42,106.34 L470.11,106.23 L470.80,106.27 L471.49,106.52 L472.18,106.53 L472.87,105.11 L473.56,106.56 L474.25,105.75 L474.94,104.22 L475.63,106.57 L476.32,104.03 L477.01,105.74 L477.70,106.46 L478.39,106.27 L479.08,105.56 L479.77,104.75 L480.46,105.96 L481.15,105.96 L481.84,105.31 L482.53,106.36 L483.22,106.52 L483.91,106.50 L484.60,104.79 L485.29,106.69 L485.98,105.87 L486.67,106.64 L487.36,106.33 L488.05,106.54 L488.74,106.43 L489.43,104.25 L490.12,105.79 L490.81,105.98 L491.50,106.54 L492.19,106.25 L492.88,105.75 L493.57,105.75 L494.26,104.61 L494.95,106.55 L495.64,105.93 L496.33,106.12 L497.02,106.50 L497.71,105.96 L498.40,106.59 L499.09,105.73 L499.78,106.62 L500.47,106.21 L501.16,106.62 L501.85,104.53 L502.54,106.58 L503.23,105.28 L503.92,104.03 L504.61,106.64 L505.30,104.59 L505.99,106.50 L506.68,106.35 L507.37,106.40 L508.06,106.40 L508.75,105.55 L509.44,106.02 L510.13,106.68 L510.82,104.93 L511.51,106.47 L512.20,106.42" fill="none" stroke="#b3164f" stroke-width="1.4" stroke-linejoin="round" stroke-linecap="butt"/>
<line x1="373.90" y1="11.40" x2="373.90" y2="107.70" stroke="#141414" stroke-width="1.5"/>
<line x1="373.20" y1="107.00" x2="512.90" y2="107.00" stroke="#141414" stroke-width="1.6"/>
<line x1="369.60" y1="106.70" x2="374.20" y2="106.70" stroke="#141414" stroke-width="1.0"/>
<text x="369.70" y="109.75" font-size="8.5" text-anchor="end" font-weight="normal" fill="#141414" stroke="#141414" stroke-width="0.22">0</text>
<line x1="369.60" y1="82.95" x2="374.20" y2="82.95" stroke="#141414" stroke-width="1.0"/>
<text x="369.70" y="86.00" font-size="8.5" text-anchor="end" font-weight="normal" fill="#141414" stroke="#141414" stroke-width="0.22">100</text>
<line x1="369.60" y1="59.20" x2="374.20" y2="59.20" stroke="#141414" stroke-width="1.0"/>
<text x="369.70" y="62.25" font-size="8.5" text-anchor="end" font-weight="normal" fill="#141414" stroke="#141414" stroke-width="0.22">200</text>
<line x1="369.60" y1="35.45" x2="374.20" y2="35.45" stroke="#141414" stroke-width="1.0"/>
<text x="369.70" y="38.50" font-size="8.5" text-anchor="end" font-weight="normal" fill="#141414" stroke="#141414" stroke-width="0.22">300</text>
<line x1="369.60" y1="11.70" x2="374.20" y2="11.70" stroke="#141414" stroke-width="1.0"/>
<text x="369.70" y="14.75" font-size="8.5" text-anchor="end" font-weight="normal" fill="#141414" stroke="#141414" stroke-width="0.22">400</text>
<line x1="374.20" y1="106.70" x2="374.20" y2="110.30" stroke="#141414" stroke-width="1.0"/>
<text x="374.20" y="118.90" font-size="8.5" text-anchor="middle" font-weight="normal" fill="#141414" stroke="#141414" stroke-width="0.22">0</text>
<line x1="408.70" y1="106.70" x2="408.70" y2="110.30" stroke="#141414" stroke-width="1.0"/>
<text x="408.70" y="118.90" font-size="8.5" text-anchor="middle" font-weight="normal" fill="#141414" stroke="#141414" stroke-width="0.22">10</text>
<line x1="443.20" y1="106.70" x2="443.20" y2="110.30" stroke="#141414" stroke-width="1.0"/>
<text x="443.20" y="118.90" font-size="8.5" text-anchor="middle" font-weight="normal" fill="#141414" stroke="#141414" stroke-width="0.22">20</text>
<line x1="477.70" y1="106.70" x2="477.70" y2="110.30" stroke="#141414" stroke-width="1.0"/>
<text x="477.70" y="118.90" font-size="8.5" text-anchor="middle" font-weight="normal" fill="#141414" stroke="#141414" stroke-width="0.22">30</text>
<line x1="512.20" y1="106.70" x2="512.20" y2="110.30" stroke="#141414" stroke-width="1.0"/>
<text x="512.20" y="118.90" font-size="8.5" text-anchor="middle" font-weight="normal" fill="#141414" stroke="#141414" stroke-width="0.22">40</text>
<text x="349.00" y="58.60" font-size="8.6" text-anchor="middle" font-weight="normal" fill="#141414" transform="rotate(-90 349.00 58.60)" stroke="#141414" stroke-width="0.22">Thrombin [nM]</text>
<text x="442.60" y="131.00" font-size="8.6" text-anchor="middle" font-weight="normal" fill="#141414" stroke="#141414" stroke-width="0.22">Time [min]</text>
<line x1="452.70" y1="13.10" x2="466.20" y2="13.10" stroke="#222" stroke-width="1.2"/>
<text x="469.00" y="15.80" font-size="7.5" text-anchor="start" font-weight="normal" fill="#141414" stroke="#141414" stroke-width="0.1">buffer</text>
<line x1="452.70" y1="22.10" x2="466.20" y2="22.10" stroke="#6fae45" stroke-width="1.2"/>
<text x="469.00" y="24.80" font-size="7.5" text-anchor="start" font-weight="normal" fill="#141414" stroke="#141414" stroke-width="0.1">7 µg/ml</text>
<line x1="452.70" y1="31.70" x2="466.20" y2="31.70" stroke="#7299c8" stroke-width="1.2"/>
<text x="469.00" y="34.40" font-size="7.5" text-anchor="start" font-weight="normal" fill="#141414" stroke="#141414" stroke-width="0.1">14 µg/ml</text>
<line x1="452.70" y1="42.70" x2="466.20" y2="42.70" stroke="#b3164f" stroke-width="1.2"/>
<text x="469.00" y="45.40" font-size="7.5" text-anchor="start" font-weight="normal" fill="#141414" stroke="#141414" stroke-width="0.1">28 µg/ml</text>
<line x1="452.70" y1="57.30" x2="466.20" y2="57.30" stroke="#bd1a70" stroke-width="1.3" stroke-dasharray="2 1.4"/>
<text x="469.00" y="60.00" font-size="7.5" text-anchor="start" font-weight="normal" fill="#141414" stroke="#141414" stroke-width="0.1">28 µg/ml</text>
<text x="450.80" y="68.50" font-size="7.4" text-anchor="start" font-weight="normal" fill="#141414" stroke="#141414" stroke-width="0.1">(vesicle depleted)</text>
<line x1="374.20" y1="263.03" x2="512.80" y2="263.03" stroke="#222" stroke-width="1.4"/>
<path d="M415.60,266.00 L416.29,265.57 L416.98,265.11 L417.67,264.40 L418.36,263.17 L419.05,261.59 L419.74,259.85 L420.43,258.17 L421.12,256.74 L421.81,255.55 L422.50,254.44 L423.19,253.39 L423.88,252.38 L424.57,251.39 L425.26,250.39 L425.95,249.38 L426.64,248.32 L427.33,247.24 L428.02,246.16 L428.71,245.09 L429.40,244.07 L430.09,243.12 L430.78,242.25 L431.47,241.46 L432.16,240.71 L432.85,239.99 L433.54,239.32 L434.23,238.68 L434.92,238.07 L435.61,237.50 L436.30,236.94 L436.99,236.40 L437.68,235.87 L438.37,235.39 L439.06,234.95 L439.75,234.57 L440.44,234.26 L441.13,233.95 L441.82,233.66 L442.51,233.39 L443.20,233.18 L443.89,233.04 L444.58,232.99 L445.27,233.03 L445.96,233.13 L446.65,233.29 L447.34,233.08 L448.03,233.34 L448.72,234.22 L449.41,233.97 L450.10,234.30 L450.79,234.59 L451.48,235.09 L452.17,235.90 L452.86,237.14 L453.55,236.85 L454.24,238.15 L454.93,238.32 L455.62,238.45 L456.31,239.92 L457.00,239.51 L457.69,240.46 L458.38,240.82 L459.07,242.58 L459.76,242.52 L460.45,244.04 L461.14,244.22 L461.83,245.29 L462.52,245.97 L463.21,247.17 L463.90,248.02 L464.59,249.27 L465.28,249.88 L465.97,250.66 L466.66,251.55 L467.35,252.08 L468.04,252.46 L468.73,253.35 L469.42,253.61 L470.11,254.64 L470.80,255.16 L471.49,255.73 L472.18,256.44 L472.87,256.57 L473.56,257.43 L474.25,257.04 L474.94,258.25 L475.63,258.65 L476.32,258.63 L477.01,259.06 L477.70,259.74 L478.39,259.97 L479.08,260.74 L479.77,261.40 L480.46,261.55 L481.15,261.78 L481.84,262.38 L482.53,263.01 L483.22,263.51 L483.91,263.36 L484.60,264.06 L485.29,260.15 L485.98,265.17 L486.67,263.90 L487.36,262.03 L488.05,265.76 L488.74,265.63 L489.43,264.85 L490.12,265.71 L490.81,265.25 L491.50,265.79 L492.19,263.83 L492.88,265.62 L493.57,265.95 L494.26,265.44 L494.95,265.99 L495.64,265.25 L496.33,262.88 L497.02,260.09 L497.71,262.69 L498.40,265.99 L499.09,262.11 L499.78,262.99 L500.47,265.86 L501.16,265.37 L501.85,265.71 L502.54,265.94 L503.23,265.25 L503.92,264.47 L504.61,265.56 L505.30,265.66 L505.99,265.51 L506.68,265.48 L507.37,265.07 L508.06,265.98 L508.75,265.78 L509.44,265.95 L510.13,264.27 L510.82,265.07 L511.51,264.40 L512.20,265.32" fill="none" stroke="#6fae45" stroke-width="1.35" stroke-linejoin="round" stroke-linecap="butt"/>
<path d="M402.83,266.00 L403.52,265.37 L404.21,264.57 L404.90,262.78 L405.59,259.83 L406.28,256.17 L406.97,252.28 L407.66,248.61 L408.35,245.49 L409.04,242.49 L409.73,239.55 L410.42,236.71 L411.11,234.02 L411.80,231.51 L412.49,229.11 L413.18,226.80 L413.87,224.60 L414.56,222.55 L415.25,220.64 L415.94,218.79 L416.63,216.97 L417.32,215.29 L418.01,213.86 L418.70,212.80 L419.39,211.96 L420.08,211.19 L420.77,210.58 L421.46,210.24 L422.15,210.27 L422.84,210.87 L423.53,211.84 L424.22,212.97 L424.91,214.07 L425.60,215.36 L426.29,216.83 L426.98,218.43 L427.67,220.12 L428.36,221.82 L429.05,223.64 L429.74,225.22 L430.43,227.48 L431.12,229.51 L431.81,231.78 L432.50,233.28 L433.19,235.17 L433.88,236.88 L434.57,238.66 L435.26,240.59 L435.95,241.64 L436.64,242.78 L437.33,243.52 L438.02,244.70 L438.71,244.58 L439.40,246.03 L440.09,247.31 L440.78,247.24 L441.47,248.43 L442.16,250.33 L442.85,250.81 L443.54,252.49 L444.23,254.24 L444.92,255.39 L445.61,256.25 L446.30,256.82 L446.99,258.06 L447.68,258.33 L448.37,258.05 L449.06,258.44 L449.75,258.62 L450.44,259.37 L451.13,259.70 L451.82,260.72 L452.51,262.02 L453.20,261.25 L453.89,263.44 L454.58,263.36 L455.27,262.96 L455.96,263.92 L456.65,263.83 L457.34,260.87 L458.03,264.56 L458.72,264.28 L459.41,265.65 L460.10,265.20 L460.79,264.38 L461.48,265.83 L462.17,265.74 L462.86,264.83 L463.55,264.91 L464.24,262.97 L464.93,265.51 L465.62,263.26 L466.31,264.99 L467.00,265.83 L467.69,265.70 L468.38,265.86 L469.07,265.88 L469.76,264.73 L470.45,265.00 L471.14,265.63 L471.83,265.03 L472.52,264.55 L473.21,265.63 L473.90,265.13 L474.59,265.40 L475.28,262.65 L475.97,265.39 L476.66,265.33 L477.35,265.03 L478.04,264.78 L478.73,265.16 L479.42,265.97 L480.11,266.00 L480.80,265.89 L481.49,265.72 L482.18,265.68 L482.87,264.17 L483.56,264.22 L484.25,265.55 L484.94,265.66 L485.63,265.88 L486.32,263.80 L487.01,264.31 L487.70,263.50 L488.39,265.68 L489.08,264.64 L489.77,265.38 L490.46,262.94 L491.15,265.54 L491.84,265.73 L492.53,265.56 L493.22,264.23 L493.91,264.79 L494.60,265.07 L495.29,265.30 L495.98,265.80 L496.67,265.21 L497.36,265.18 L498.05,265.88 L498.74,263.31 L499.43,265.74 L500.12,263.80 L500.81,265.99 L501.50,265.57 L502.19,264.15 L502.88,265.32 L503.57,263.72 L504.26,265.92 L504.95,265.57 L505.64,265.73 L506.33,265.11 L507.02,265.13 L507.71,264.49 L508.40,264.30 L509.09,265.71 L509.78,264.79 L510.47,265.42 L511.16,265.61 L511.85,263.96" fill="none" stroke="#7299c8" stroke-width="1.35" stroke-linejoin="round" stroke-linecap="butt"/>
<path d="M395.25,266.00 L395.94,264.25 L396.62,261.59 L397.31,257.21 L398.00,251.99 L398.69,246.72 L399.38,240.93 L400.07,234.93 L400.76,229.19 L401.45,224.03 L402.14,219.13 L402.83,213.97 L403.52,207.91 L404.21,200.65 L404.90,194.27 L405.59,188.76 L406.28,184.19 L406.98,182.94 L407.67,184.22 L408.36,186.36 L409.05,188.93 L409.74,192.49 L410.43,196.37 L411.12,199.83 L411.81,202.93 L412.50,205.93 L413.19,208.95 L413.88,212.07 L414.56,215.26 L415.25,218.39 L415.94,221.36 L416.63,224.17 L417.32,228.34 L418.01,229.41 L418.71,232.07 L419.39,233.50 L420.09,238.04 L420.78,238.46 L421.47,241.02 L422.16,242.18 L422.85,243.21 L423.54,244.34 L424.23,244.63 L424.92,245.47 L425.61,246.62 L426.30,251.03 L426.99,252.24 L427.68,252.82 L428.37,254.29 L429.06,254.50 L429.75,255.32 L430.44,257.23 L431.12,257.29 L431.82,257.22 L432.50,258.47 L433.20,259.30 L433.89,260.21 L434.58,260.34 L435.27,261.35 L435.96,262.06 L436.65,261.86 L437.34,261.56 L438.03,261.08 L438.72,261.77 L439.41,263.28 L440.10,263.53 L440.79,264.79 L441.48,265.15 L442.17,264.91 L442.86,265.10 L443.55,265.95 L444.24,265.98 L444.93,263.84 L445.62,265.72 L446.31,265.69 L447.00,264.28 L447.69,264.89 L448.38,265.31 L449.07,265.55 L449.76,262.40 L450.45,265.99 L451.14,265.59 L451.83,265.63 L452.52,265.99 L453.21,264.11 L453.90,264.17 L454.59,265.24 L455.28,265.02 L455.97,264.89 L456.66,265.12 L457.35,265.33 L458.04,264.05 L458.73,265.61 L459.42,262.63 L460.11,264.16 L460.80,265.55 L461.49,265.55 L462.18,264.13 L462.87,264.54 L463.56,261.95 L464.25,265.65 L464.94,265.76 L465.63,263.71 L466.32,264.21 L467.01,265.88 L467.70,265.41 L468.39,263.93 L469.08,264.67 L469.77,264.86 L470.46,265.96 L471.15,265.15 L471.84,264.82 L472.53,263.60 L473.22,264.09 L473.91,262.66 L474.60,265.34 L475.29,264.45 L475.98,265.56 L476.67,265.31 L477.36,263.71 L478.05,265.63 L478.74,265.79 L479.43,264.23 L480.12,265.76 L480.81,265.66 L481.50,265.07 L482.19,265.91 L482.88,265.86 L483.57,265.73 L484.26,265.34 L484.95,265.16 L485.64,265.84 L486.33,263.26 L487.02,265.70 L487.71,264.13 L488.40,265.53 L489.09,265.95 L489.78,265.27 L490.47,265.84 L491.16,265.77 L491.85,265.52 L492.54,265.49 L493.23,264.29 L493.92,265.70 L494.61,262.77 L495.30,265.72 L495.99,265.85 L496.68,265.17 L497.37,265.95 L498.06,264.89 L498.75,264.92 L499.44,265.90 L500.13,265.75 L500.82,265.88 L501.51,265.96 L502.20,265.98 L502.89,265.44 L503.58,265.17 L504.27,265.95 L504.96,265.46 L505.65,264.73 L506.34,264.52 L507.03,265.62 L507.72,265.53 L508.41,265.10 L509.10,265.51 L509.79,264.42 L510.48,263.51 L511.17,265.27 L511.86,265.81" fill="none" stroke="#bd1a70" stroke-width="1.5" stroke-linejoin="round" stroke-linecap="butt" stroke-dasharray="2 1.4"/>
<path d="M393.87,266.00 L394.56,264.25 L395.25,261.60 L395.94,257.26 L396.62,251.87 L397.31,246.13 L398.00,239.50 L398.69,232.13 L399.38,224.98 L400.07,218.59 L400.76,212.44 L401.45,206.71 L402.14,201.62 L402.83,196.90 L403.52,192.59 L404.21,189.00 L404.90,186.03 L405.60,183.40 L406.29,182.41 L406.98,183.53 L407.67,185.73 L408.36,188.22 L409.05,191.60 L409.74,195.43 L410.43,199.03 L411.12,202.17 L411.81,205.19 L412.50,208.19 L413.19,211.27 L413.88,214.46 L414.56,217.62 L415.25,220.64 L415.94,223.48 L416.63,226.21 L417.33,229.10 L418.01,232.43 L418.71,233.64 L419.40,235.76 L420.09,238.17 L420.78,240.47 L421.47,242.57 L422.16,243.41 L422.85,244.70 L423.54,245.00 L424.23,244.84 L424.92,244.97 L425.61,248.34 L426.30,252.02 L426.99,251.55 L427.68,253.73 L428.37,255.39 L429.06,254.58 L429.75,255.48 L430.44,256.37 L431.12,257.37 L431.82,259.75 L432.50,259.30 L433.20,260.26 L433.89,260.42 L434.58,261.23 L435.27,260.90 L435.96,261.21 L436.65,261.22 L437.34,261.64 L438.03,261.86 L438.72,264.03 L439.41,262.96 L440.10,262.72 L440.79,263.84 L441.48,250.92 L442.17,250.41 L442.86,266.00 L443.55,265.96 L444.24,265.54 L444.93,265.55 L445.62,265.53 L446.31,261.34 L447.00,263.94 L447.69,264.34 L448.38,265.38 L449.07,265.77 L449.76,265.07 L450.45,265.84 L451.14,264.65 L451.83,265.24 L452.52,265.91 L453.21,262.63 L453.90,265.80 L454.59,265.87 L455.28,265.45 L455.97,265.47 L456.66,265.31 L457.35,265.65 L458.04,265.54 L458.73,265.34 L459.42,265.27 L460.11,264.39 L460.80,265.73 L461.49,263.01 L462.18,265.49 L462.87,265.43 L463.56,265.56 L464.25,265.93 L464.94,263.51 L465.63,264.83 L466.32,265.93 L467.01,265.93 L467.70,265.26 L468.39,265.31 L469.08,260.87 L469.77,265.70 L470.46,265.72 L471.15,263.39 L471.84,265.75 L472.53,264.29 L473.22,265.40 L473.91,263.28 L474.60,265.51 L475.29,265.58 L475.98,264.79 L476.67,265.63 L477.36,265.83 L478.05,263.96 L478.74,264.63 L479.43,265.97 L480.12,264.99 L480.81,265.28 L481.50,265.76 L482.19,262.65 L482.88,265.82 L483.57,265.85 L484.26,265.55 L484.95,262.25 L485.64,265.90 L486.33,265.07 L487.02,265.58 L487.71,265.30 L488.40,265.21 L489.09,265.96 L489.78,263.78 L490.47,264.47 L491.16,265.39 L491.85,265.27 L492.54,264.86 L493.23,265.60 L493.92,265.06 L494.61,265.57 L495.30,265.25 L495.99,265.67 L496.68,263.07 L497.37,265.41 L498.06,265.72 L498.75,265.90 L499.44,265.57 L500.13,265.24 L500.82,265.51 L501.51,262.88 L502.20,263.85 L502.89,265.38 L503.58,265.93 L504.27,265.07 L504.96,265.35 L505.65,265.80 L506.34,264.25 L507.03,263.00 L507.72,265.63 L508.41,264.92 L509.10,265.43 L509.79,264.04 L510.48,265.86 L511.17,265.86 L511.86,265.99" fill="none" stroke="#b3164f" stroke-width="1.4" stroke-linejoin="round" stroke-linecap="butt"/>
<line x1="373.90" y1="170.50" x2="373.90" y2="267.00" stroke="#141414" stroke-width="1.5"/>
<line x1="373.20" y1="266.30" x2="512.90" y2="266.30" stroke="#141414" stroke-width="1.6"/>
<line x1="369.60" y1="266.00" x2="374.20" y2="266.00" stroke="#141414" stroke-width="1.0"/>
<text x="369.70" y="269.05" font-size="8.5" text-anchor="end" font-weight="normal" fill="#141414" stroke="#141414" stroke-width="0.22">0</text>
<line x1="369.60" y1="242.25" x2="374.20" y2="242.25" stroke="#141414" stroke-width="1.0"/>
<text x="369.70" y="245.30" font-size="8.5" text-anchor="end" font-weight="normal" fill="#141414" stroke="#141414" stroke-width="0.22">100</text>
<line x1="369.60" y1="218.50" x2="374.20" y2="218.50" stroke="#141414" stroke-width="1.0"/>
<text x="369.70" y="221.55" font-size="8.5" text-anchor="end" font-weight="normal" fill="#141414" stroke="#141414" stroke-width="0.22">200</text>
<line x1="369.60" y1="194.75" x2="374.20" y2="194.75" stroke="#141414" stroke-width="1.0"/>
<text x="369.70" y="197.80" font-size="8.5" text-anchor="end" font-weight="normal" fill="#141414" stroke="#141414" stroke-width="0.22">300</text>
<line x1="369.60" y1="171.00" x2="374.20" y2="171.00" stroke="#141414" stroke-width="1.0"/>
<text x="369.70" y="174.05" font-size="8.5" text-anchor="end" font-weight="normal" fill="#141414" stroke="#141414" stroke-width="0.22">400</text>
<line x1="374.20" y1="266.00" x2="374.20" y2="269.60" stroke="#141414" stroke-width="1.0"/>
<text x="374.20" y="278.20" font-size="8.5" text-anchor="middle" font-weight="normal" fill="#141414" stroke="#141414" stroke-width="0.22">0</text>
<line x1="408.70" y1="266.00" x2="408.70" y2="269.60" stroke="#141414" stroke-width="1.0"/>
<text x="408.70" y="278.20" font-size="8.5" text-anchor="middle" font-weight="normal" fill="#141414" stroke="#141414" stroke-width="0.22">10</text>
<line x1="443.20" y1="266.00" x2="443.20" y2="269.60" stroke="#141414" stroke-width="1.0"/>
<text x="443.20" y="278.20" font-size="8.5" text-anchor="middle" font-weight="normal" fill="#141414" stroke="#141414" stroke-width="0.22">20</text>
<line x1="477.70" y1="266.00" x2="477.70" y2="269.60" stroke="#141414" stroke-width="1.0"/>
<text x="477.70" y="278.20" font-size="8.5" text-anchor="middle" font-weight="normal" fill="#141414" stroke="#141414" stroke-width="0.22">30</text>
<line x1="512.20" y1="266.00" x2="512.20" y2="269.60" stroke="#141414" stroke-width="1.0"/>
<text x="512.20" y="278.20" font-size="8.5" text-anchor="middle" font-weight="normal" fill="#141414" stroke="#141414" stroke-width="0.22">40</text>
<text x="349.00" y="218.00" font-size="8.6" text-anchor="middle" font-weight="normal" fill="#141414" transform="rotate(-90 349.00 218.00)" stroke="#141414" stroke-width="0.22">Thrombin [nM]</text>
<text x="442.60" y="290.20" font-size="8.6" text-anchor="middle" font-weight="normal" fill="#141414" stroke="#141414" stroke-width="0.22">Time [min]</text>
<line x1="451.70" y1="170.40" x2="465.80" y2="170.40" stroke="#222" stroke-width="1.2"/>
<text x="467.70" y="173.10" font-size="7.5" text-anchor="start" font-weight="normal" fill="#141414" stroke="#141414" stroke-width="0.1">buffer</text>
<line x1="451.70" y1="179.60" x2="465.80" y2="179.60" stroke="#6fae45" stroke-width="1.2"/>
<text x="467.70" y="182.30" font-size="7.5" text-anchor="start" font-weight="normal" fill="#141414" stroke="#141414" stroke-width="0.1">7 µg/ml</text>
<line x1="451.70" y1="188.70" x2="465.80" y2="188.70" stroke="#7299c8" stroke-width="1.2"/>
<text x="467.70" y="191.40" font-size="7.5" text-anchor="start" font-weight="normal" fill="#141414" stroke="#141414" stroke-width="0.1">14 µg/ml</text>
<line x1="451.70" y1="197.70" x2="465.80" y2="197.70" stroke="#b3164f" stroke-width="1.2"/>
<text x="467.70" y="200.40" font-size="7.5" text-anchor="start" font-weight="normal" fill="#141414" stroke="#141414" stroke-width="0.1">28 µg/ml</text>
<line x1="451.70" y1="212.30" x2="465.80" y2="212.30" stroke="#bd1a70" stroke-width="1.3" stroke-dasharray="2 1.4"/>
<text x="467.70" y="215.00" font-size="7.5" text-anchor="start" font-weight="normal" fill="#141414" stroke="#141414" stroke-width="0.1">28 µg/ml</text>
<text x="450.60" y="223.70" font-size="7.4" text-anchor="start" font-weight="normal" fill="#141414" stroke="#141414" stroke-width="0.1">(vesicle depleted)</text>
<path d="M76.05,421.20 L76.51,420.79 L76.98,420.41 L77.45,419.92 L77.91,419.21 L78.38,418.03 L78.85,416.43 L79.31,414.49 L79.78,412.30 L80.25,409.93 L80.72,407.47 L81.18,404.99 L81.65,402.44 L82.12,399.58 L82.58,396.46 L83.05,393.16 L83.52,389.74 L83.99,386.29 L84.45,382.87 L84.92,379.51 L85.39,376.05 L85.85,372.52 L86.32,369.03 L86.79,365.66 L87.25,362.46 L87.72,359.29 L88.19,356.25 L88.66,353.51 L89.12,351.08 L89.59,348.59 L90.06,346.85 L90.52,346.67 L90.99,347.31 L91.46,348.41 L91.92,349.82 L92.39,351.35 L92.86,353.47 L93.33,356.43 L93.79,359.69 L94.26,362.75 L94.73,365.21 L95.19,367.40 L95.66,369.44 L96.13,371.39 L96.59,373.27 L97.06,375.13 L97.53,376.89 L98.00,378.59 L98.46,380.31 L98.93,382.10 L99.40,383.96 L99.86,385.86 L100.33,387.83 L100.80,390.24 L101.26,390.83 L101.73,392.58 L102.20,395.36 L102.67,397.14 L103.13,398.18 L103.60,399.68 L104.07,401.77 L104.53,403.27 L105.00,404.25 L105.47,405.53 L105.93,406.64 L106.40,407.74 L106.87,410.01 L107.34,410.31 L107.80,410.78 L108.27,411.44 L108.74,411.17 L109.20,412.85 L109.67,411.15 L110.14,412.59 L110.60,413.09 L111.07,414.12 L111.54,414.91 L112.01,416.18 L112.47,415.73 L112.94,416.12 L113.41,417.32 L113.87,414.60 L114.34,417.13 L114.81,417.15 L115.27,416.53 L115.74,417.61 L116.21,417.75 L116.68,418.28 L117.14,418.49 L117.61,418.35 L118.08,419.56 L118.54,416.20 L119.01,418.17 L119.48,418.38 L119.94,419.45 L120.41,419.81 L120.88,418.73 L121.35,419.28 L121.81,419.48 L122.28,419.05 L122.75,420.17 L123.21,418.10 L123.68,418.82 L124.15,419.37 L124.61,418.69 L125.08,419.27 L125.55,419.16 L126.02,419.84 L126.48,419.16 L126.95,419.33 L127.42,419.34 L127.88,418.44 L128.35,419.67 L128.82,420.01 L129.28,418.66 L129.75,419.97 L130.22,419.95 L130.69,418.77 L131.15,418.70 L131.62,419.80 L132.09,420.84 L132.55,419.42 L133.02,420.46 L133.49,420.07 L133.95,415.74 L134.42,420.46 L134.89,419.67 L135.36,419.68 L135.82,421.20 L136.29,421.00 L136.76,421.20 L137.22,420.90 L137.69,420.43 L138.16,420.93 L138.62,419.56 L139.09,421.19 L139.56,420.69 L140.03,419.95 L140.49,421.19 L140.96,421.06 L141.43,420.15 L141.89,421.00 L142.36,421.04 L142.83,421.05 L143.29,421.04 L143.76,420.92 L144.23,420.75 L144.70,420.39 L145.16,419.38 L145.63,420.76 L146.10,419.94 L146.56,421.16 L147.03,420.87 L147.50,420.75 L147.96,420.70 L148.43,421.10 L148.90,421.16 L149.37,420.53 L149.83,421.03 L150.30,421.19 L150.77,421.14 L151.23,420.77 L151.70,420.37 L152.17,421.20 L152.63,420.29 L153.10,421.06 L153.57,420.48 L154.04,420.95 L154.50,420.68 L154.97,421.03 L155.44,420.80 L155.90,420.75 L156.37,419.73 L156.84,421.18 L157.30,420.45 L157.77,420.89 L158.24,420.75 L158.71,421.05 L159.17,420.38 L159.64,421.09 L160.11,420.06 L160.57,419.80 L161.04,421.17 L161.51,420.88 L161.97,421.13 L162.44,420.01 L162.91,421.12 L163.38,420.13 L163.84,421.18 L164.31,421.17 L164.78,421.10 L165.24,420.85 L165.71,420.69 L166.18,421.17 L166.64,420.80 L167.11,420.94 L167.58,420.38 L168.05,418.20 L168.51,420.96 L168.98,420.40 L169.45,420.54 L169.91,420.85 L170.38,421.07 L170.85,420.82 L171.31,421.17 L171.78,420.97 L172.25,421.12 L172.72,420.23 L173.18,419.98 L173.65,420.98 L174.12,420.73 L174.58,421.19 L175.05,418.48 L175.52,419.99 L175.98,421.19 L176.45,420.71 L176.92,421.19 L177.39,419.82 L177.85,419.96 L178.32,420.66 L178.79,421.05 L179.25,421.05 L179.72,421.14 L180.19,419.26 L180.65,421.09 L181.12,421.09 L181.59,420.95 L182.06,421.11 L182.52,420.15 L182.99,420.85 L183.46,420.99 L183.92,420.98 L184.39,414.29 L184.86,420.97 L185.32,419.74 L185.79,420.52 L186.26,421.06 L186.73,420.56 L187.19,419.68 L187.66,421.12 L188.13,420.99 L188.59,421.14 L189.06,419.64 L189.53,420.92 L189.99,420.90 L190.46,421.02 L190.93,420.96 L191.40,420.98 L191.86,420.70 L192.33,421.05 L192.80,418.23 L193.26,421.20 L193.73,421.04 L194.20,421.03 L194.66,420.93 L195.13,420.94 L195.60,420.70 L196.07,417.94 L196.53,420.27 L197.00,421.16 L197.47,420.63 L197.93,421.10 L198.40,420.77" fill="none" stroke="#111" stroke-width="1.4" stroke-linejoin="round" stroke-linecap="butt"/>
<path d="M94.49,421.20 L94.96,420.97 L95.43,420.75 L95.89,420.52 L96.36,420.25 L96.83,419.93 L97.29,419.57 L97.76,419.17 L98.23,418.74 L98.70,418.28 L99.16,417.80 L99.63,417.31 L100.10,416.81 L100.56,416.31 L101.03,415.81 L101.50,415.32 L101.96,414.85 L102.43,414.37 L102.90,413.86 L103.37,413.34 L103.83,412.80 L104.30,412.26 L104.77,411.72 L105.23,411.19 L105.70,410.68 L106.17,410.20 L106.63,409.75 L107.10,409.34 L107.57,408.98 L108.04,408.67 L108.50,408.37 L108.97,408.07 L109.44,407.79 L109.90,407.52 L110.37,407.25 L110.84,407.00 L111.30,406.75 L111.77,406.52 L112.24,406.30 L112.71,406.09 L113.17,405.89 L113.64,405.71 L114.11,405.54 L114.57,405.36 L115.04,405.96 L115.51,404.70 L115.97,404.85 L116.44,403.97 L116.91,405.22 L117.38,405.19 L117.84,404.11 L118.31,404.30 L118.78,404.75 L119.24,404.93 L119.71,405.06 L120.18,404.06 L120.64,404.77 L121.11,403.91 L121.58,404.65 L122.05,404.31 L122.51,403.95 L122.98,402.98 L123.45,403.71 L123.91,404.08 L124.38,402.72 L124.85,405.01 L125.31,403.08 L125.78,403.33 L126.25,404.09 L126.72,403.67 L127.18,403.14 L127.65,403.99 L128.12,404.12 L128.58,404.36 L129.05,404.76 L129.52,404.23 L129.98,403.64 L130.45,405.00 L130.92,405.18 L131.39,406.15 L131.85,405.18 L132.32,405.22 L132.79,405.37 L133.25,406.65 L133.72,405.98 L134.19,406.84 L134.65,406.66 L135.12,407.40 L135.59,406.47 L136.06,408.01 L136.52,407.99 L136.99,408.98 L137.46,407.95 L137.92,408.24 L138.39,408.13 L138.86,408.27 L139.32,409.29 L139.79,409.79 L140.26,409.91 L140.73,409.57 L141.19,410.49 L141.66,410.24 L142.13,410.52 L142.59,410.30 L143.06,410.03 L143.53,409.96 L143.99,410.56 L144.46,411.09 L144.93,411.30 L145.40,411.74 L145.86,411.22 L146.33,412.37 L146.80,411.69 L147.26,412.57 L147.73,412.39 L148.20,412.73 L148.66,413.27 L149.13,411.95 L149.60,412.53 L150.07,413.85 L150.53,413.22 L151.00,412.73 L151.47,413.72 L151.93,414.01 L152.40,414.46 L152.87,414.81 L153.33,414.79 L153.80,414.17 L154.27,414.87 L154.74,414.75 L155.20,415.64 L155.67,415.92 L156.14,416.56 L156.60,415.38 L157.07,416.88 L157.54,415.59 L158.00,417.06 L158.47,417.15 L158.94,417.08 L159.41,416.99 L159.87,417.73 L160.34,416.77 L160.81,417.47 L161.27,417.85 L161.74,418.05 L162.21,418.16 L162.67,418.48 L163.14,418.24 L163.61,417.34 L164.08,418.54 L164.54,418.93 L165.01,418.83 L165.48,418.35 L165.94,418.91 L166.41,418.55 L166.88,418.88 L167.34,419.27 L167.81,418.75 L168.28,420.03 L168.75,419.53 L169.21,419.86 L169.68,419.16 L170.15,418.83 L170.61,419.09 L171.08,419.31 L171.55,419.31 L172.01,420.18 L172.48,419.51 L172.95,419.86 L173.42,421.20 L173.88,420.57 L174.35,420.21 L174.82,420.69 L175.28,420.14 L175.75,419.41 L176.22,419.93 L176.68,421.20 L177.15,420.23 L177.62,420.36 L178.09,420.81 L178.55,421.00 L179.02,420.55 L179.49,421.07 L179.95,419.94 L180.42,420.80 L180.89,420.96 L181.35,421.18 L181.82,420.93 L182.29,420.93 L182.76,420.12 L183.22,420.78 L183.69,421.02 L184.16,421.00 L184.62,421.15 L185.09,420.55 L185.56,420.88 L186.02,419.83 L186.49,421.05 L186.96,420.23 L187.43,420.74 L187.89,420.90 L188.36,420.88 L188.83,420.82 L189.29,420.62 L189.76,420.63 L190.23,421.05 L190.69,421.16 L191.16,421.01 L191.63,419.82 L192.10,420.81 L192.56,420.02 L193.03,421.08 L193.50,420.76 L193.96,421.16 L194.43,421.19 L194.90,419.67 L195.36,420.74 L195.83,421.17 L196.30,420.21 L196.77,420.94 L197.23,420.66 L197.70,421.05 L198.17,419.09" fill="none" stroke="#565698" stroke-width="1.3" stroke-linejoin="round" stroke-linecap="butt"/>
<path d="M95.66,421.20 L96.13,420.91 L96.59,420.63 L97.06,420.32 L97.53,419.93 L97.99,419.38 L98.46,418.66 L98.93,417.80 L99.40,416.82 L99.86,415.77 L100.33,414.68 L100.80,413.58 L101.26,412.41 L101.73,411.10 L102.20,409.70 L102.66,408.23 L103.13,406.74 L103.60,405.25 L104.07,403.80 L104.53,402.41 L105.00,400.99 L105.47,399.55 L105.93,398.12 L106.40,396.72 L106.87,395.38 L107.33,394.11 L107.80,392.94 L108.27,391.84 L108.74,390.74 L109.20,389.66 L109.67,388.62 L110.14,387.62 L110.60,386.68 L111.07,385.80 L111.54,385.02 L112.00,384.32 L112.47,383.74 L112.94,383.22 L113.41,382.74 L113.87,382.30 L114.34,381.90 L114.81,381.55 L115.27,381.24 L115.74,381.98 L116.21,381.80 L116.67,379.97 L117.14,381.16 L117.61,380.55 L118.08,380.94 L118.54,380.46 L119.01,377.57 L119.48,380.48 L119.94,381.62 L120.41,379.34 L120.88,380.91 L121.34,380.59 L121.81,382.17 L122.28,382.29 L122.75,382.36 L123.21,384.40 L123.68,383.82 L124.15,384.08 L124.61,385.86 L125.08,384.35 L125.55,385.26 L126.01,387.60 L126.48,385.90 L126.95,389.34 L127.42,389.30 L127.88,389.30 L128.35,391.99 L128.82,390.32 L129.28,392.62 L129.75,392.34 L130.22,394.40 L130.68,392.62 L131.15,395.90 L131.62,396.48 L132.09,397.23 L132.55,398.57 L133.02,399.96 L133.49,401.00 L133.95,399.65 L134.42,401.07 L134.89,402.54 L135.35,403.19 L135.82,405.28 L136.29,405.23 L136.76,405.81 L137.22,406.59 L137.69,407.53 L138.16,407.08 L138.62,407.76 L139.09,409.50 L139.56,410.11 L140.02,410.46 L140.49,412.61 L140.96,411.12 L141.43,412.33 L141.89,413.20 L142.36,412.65 L142.83,413.94 L143.29,412.79 L143.76,413.01 L144.23,415.22 L144.69,415.06 L145.16,414.94 L145.63,414.66 L146.10,415.98 L146.56,415.25 L147.03,417.45 L147.50,416.26 L147.96,416.87 L148.43,416.66 L148.90,417.45 L149.36,419.38 L149.83,416.79 L150.30,416.82 L150.77,419.10 L151.23,415.85 L151.70,418.55 L152.17,417.92 L152.63,417.74 L153.10,420.27 L153.57,417.71 L154.03,419.50 L154.50,419.70 L154.97,417.47 L155.44,417.59 L155.90,419.30 L156.37,419.08 L156.84,417.28 L157.30,419.17 L157.77,419.35 L158.24,419.96 L158.70,418.91 L159.17,420.07 L159.64,419.21 L160.11,421.19 L160.57,418.85 L161.04,417.74 L161.51,420.35 L161.97,419.43 L162.44,420.10 L162.91,417.48 L163.37,419.93 L163.84,421.20 L164.31,420.61 L164.78,420.83 L165.24,419.56 L165.71,421.20 L166.18,419.49 L166.64,420.34 L167.11,421.20 L167.58,420.61 L168.04,420.51 L168.51,420.96 L168.98,420.25 L169.45,420.06 L169.91,421.16 L170.38,421.05 L170.85,421.07 L171.31,419.54 L171.78,420.07 L172.25,420.78 L172.71,421.03 L173.18,420.16 L173.65,419.95 L174.12,421.07 L174.58,419.96 L175.05,421.17 L175.52,421.04 L175.98,420.24 L176.45,420.89 L176.92,420.83 L177.38,420.97 L177.85,420.61 L178.32,420.47 L178.79,420.78 L179.25,421.18 L179.72,420.74 L180.19,421.04 L180.65,420.60 L181.12,421.18 L181.59,420.97 L182.05,421.05 L182.52,420.89 L182.99,420.76 L183.46,419.15 L183.92,421.12 L184.39,420.62 L184.86,419.92 L185.32,420.92 L185.79,421.10 L186.26,420.65 L186.72,421.03 L187.19,420.83 L187.66,420.40 L188.13,420.27 L188.59,420.84 L189.06,421.01 L189.53,421.20 L189.99,421.07 L190.46,420.99 L190.93,420.99 L191.39,420.55 L191.86,421.08 L192.33,420.38 L192.80,420.36 L193.26,421.11 L193.73,420.63 L194.20,421.18 L194.66,421.14 L195.13,419.57 L195.60,421.07 L196.06,419.06 L196.53,420.89 L197.00,420.97 L197.47,420.74 L197.93,420.95 L198.40,421.05" fill="none" stroke="#7b3f8c" stroke-width="1.3" stroke-linejoin="round" stroke-linecap="butt"/>
<path d="M80.25,421.20 L80.72,420.87 L81.18,420.55 L81.65,420.23 L82.12,419.89 L82.58,419.51 L83.05,419.07 L83.52,418.58 L83.98,418.05 L84.45,417.47 L84.92,416.84 L85.39,416.18 L85.85,415.48 L86.32,414.74 L86.79,413.98 L87.25,413.17 L87.72,412.27 L88.19,411.29 L88.65,410.24 L89.12,409.13 L89.59,407.97 L90.06,406.77 L90.52,405.56 L90.99,404.33 L91.46,403.12 L91.92,401.91 L92.39,400.74 L92.86,399.61 L93.32,398.50 L93.79,397.37 L94.26,396.24 L94.73,395.11 L95.19,393.97 L95.66,392.84 L96.13,391.72 L96.59,390.62 L97.06,389.54 L97.53,388.48 L97.99,387.44 L98.46,386.44 L98.93,385.47 L99.40,384.47 L99.86,383.45 L100.33,382.44 L100.80,381.45 L101.26,380.52 L101.73,379.65 L102.20,378.88 L102.66,378.22 L103.13,377.70 L103.60,377.25 L104.07,376.82 L104.53,376.46 L105.00,376.23 L105.47,375.80 L105.93,375.82 L106.40,378.31 L106.87,378.34 L107.33,375.33 L107.80,375.91 L108.27,375.36 L108.74,378.29 L109.20,376.73 L109.67,380.46 L110.14,377.85 L110.60,377.06 L111.07,377.95 L111.54,378.81 L112.00,376.18 L112.47,378.37 L112.94,379.20 L113.41,380.52 L113.87,379.17 L114.34,378.93 L114.81,381.76 L115.27,380.95 L115.74,383.31 L116.21,384.81 L116.67,385.84 L117.14,386.79 L117.61,387.48 L118.08,390.51 L118.54,388.97 L119.01,391.85 L119.48,392.15 L119.94,393.46 L120.41,396.27 L120.88,396.47 L121.34,399.12 L121.81,399.68 L122.28,402.46 L122.75,401.66 L123.21,404.00 L123.68,405.41 L124.15,407.64 L124.61,409.05 L125.08,410.53 L125.55,412.42 L126.01,412.91 L126.48,411.44 L126.95,413.12 L127.42,414.28 L127.88,415.75 L128.35,416.04 L128.82,416.93 L129.28,417.08 L129.75,418.46 L130.22,418.44 L130.68,417.56 L131.15,417.22 L131.62,418.18 L132.09,418.70 L132.55,418.92 L133.02,419.60 L133.49,418.41 L133.95,418.67 L134.42,417.98 L134.89,417.89 L135.35,419.93 L135.82,418.90 L136.29,418.90 L136.76,421.20 L137.22,420.71 L137.69,419.58 L138.16,418.97 L138.62,420.75 L139.09,420.68 L139.56,421.11 L140.02,420.49 L140.49,419.63 L140.96,420.98 L141.43,419.36 L141.89,420.93 L142.36,420.98 L142.83,418.51 L143.29,420.84 L143.76,420.92 L144.23,421.14 L144.69,420.92 L145.16,420.72 L145.63,420.59 L146.10,420.71 L146.56,421.04 L147.03,419.90 L147.50,420.70 L147.96,420.66 L148.43,420.69 L148.90,420.96 L149.36,420.74 L149.83,420.83 L150.30,421.12 L150.77,420.01 L151.23,420.22 L151.70,421.04 L152.17,421.20 L152.63,421.11 L153.10,421.11 L153.57,419.59 L154.03,421.14 L154.50,419.34 L154.97,420.94 L155.44,420.71 L155.90,419.83 L156.37,420.76 L156.84,420.81 L157.30,421.15 L157.77,420.02 L158.24,421.05 L158.70,420.95 L159.17,419.90 L159.64,421.20 L160.11,421.18 L160.57,420.80 L161.04,421.12 L161.51,419.14 L161.97,420.96 L162.44,421.01 L162.91,421.07 L163.37,421.10 L163.84,419.90 L164.31,420.68 L164.78,420.83 L165.24,420.63 L165.71,420.77 L166.18,419.18 L166.64,420.30 L167.11,420.38 L167.58,420.62 L168.04,420.41 L168.51,420.52 L168.98,420.47 L169.45,421.19 L169.91,420.15 L170.38,419.14 L170.85,421.18 L171.31,420.98 L171.78,419.52 L172.25,421.06 L172.71,420.93 L173.18,420.64 L173.65,421.15 L174.12,421.15 L174.58,420.82 L175.05,421.05 L175.52,420.50 L175.98,420.91 L176.45,420.82 L176.92,420.49 L177.38,420.34 L177.85,420.24 L178.32,420.76 L178.79,420.76 L179.25,421.04 L179.72,419.43 L180.19,420.87 L180.65,421.18 L181.12,420.89 L181.59,420.92 L182.05,421.17 L182.52,419.62 L182.99,421.02 L183.46,420.95 L183.92,420.97 L184.39,421.12 L184.86,421.02 L185.32,420.75 L185.79,420.91 L186.26,421.19 L186.72,421.13 L187.19,420.91 L187.66,421.02 L188.13,421.11 L188.59,421.01 L189.06,420.86 L189.53,420.30 L189.99,420.82 L190.46,421.12 L190.93,420.58 L191.39,421.08 L191.86,421.16 L192.33,419.34 L192.80,420.87 L193.26,420.68 L193.73,420.69 L194.20,421.13 L194.66,420.84 L195.13,420.12 L195.60,420.48 L196.06,421.12 L196.53,420.99 L197.00,420.68 L197.47,421.19 L197.93,420.50 L198.40,419.46" fill="none" stroke="#b6a7cb" stroke-width="1.3" stroke-linejoin="round" stroke-linecap="butt"/>
<line x1="58.00" y1="325.50" x2="58.00" y2="422.20" stroke="#141414" stroke-width="1.5"/>
<line x1="57.30" y1="421.50" x2="198.40" y2="421.50" stroke="#141414" stroke-width="1.6"/>
<line x1="54.70" y1="421.20" x2="58.30" y2="421.20" stroke="#141414" stroke-width="1.0"/>
<text x="54.80" y="424.25" font-size="8.3" text-anchor="end" font-weight="normal" fill="#141414" stroke="#141414" stroke-width="0.22">0</text>
<line x1="54.70" y1="389.45" x2="58.30" y2="389.45" stroke="#141414" stroke-width="1.0"/>
<text x="54.80" y="392.50" font-size="8.3" text-anchor="end" font-weight="normal" fill="#141414" stroke="#141414" stroke-width="0.22">100</text>
<line x1="54.70" y1="357.70" x2="58.30" y2="357.70" stroke="#141414" stroke-width="1.0"/>
<text x="54.80" y="360.75" font-size="8.3" text-anchor="end" font-weight="normal" fill="#141414" stroke="#141414" stroke-width="0.22">200</text>
<line x1="54.70" y1="325.95" x2="58.30" y2="325.95" stroke="#141414" stroke-width="1.0"/>
<text x="54.80" y="329.00" font-size="8.3" text-anchor="end" font-weight="normal" fill="#141414" stroke="#141414" stroke-width="0.22">300</text>
<line x1="58.30" y1="421.20" x2="58.30" y2="424.80" stroke="#141414" stroke-width="1.0"/>
<text x="58.30" y="433.40" font-size="8.3" text-anchor="middle" font-weight="normal" fill="#141414" stroke="#141414" stroke-width="0.22">0</text>
<line x1="81.65" y1="421.20" x2="81.65" y2="424.80" stroke="#141414" stroke-width="1.0"/>
<text x="81.65" y="433.40" font-size="8.3" text-anchor="middle" font-weight="normal" fill="#141414" stroke="#141414" stroke-width="0.22">10</text>
<line x1="105.00" y1="421.20" x2="105.00" y2="424.80" stroke="#141414" stroke-width="1.0"/>
<text x="105.00" y="433.40" font-size="8.3" text-anchor="middle" font-weight="normal" fill="#141414" stroke="#141414" stroke-width="0.22">20</text>
<line x1="128.35" y1="421.20" x2="128.35" y2="424.80" stroke="#141414" stroke-width="1.0"/>
<text x="128.35" y="433.40" font-size="8.3" text-anchor="middle" font-weight="normal" fill="#141414" stroke="#141414" stroke-width="0.22">30</text>
<line x1="151.70" y1="421.20" x2="151.70" y2="424.80" stroke="#141414" stroke-width="1.0"/>
<text x="151.70" y="433.40" font-size="8.3" text-anchor="middle" font-weight="normal" fill="#141414" stroke="#141414" stroke-width="0.22">40</text>
<line x1="175.05" y1="421.20" x2="175.05" y2="424.80" stroke="#141414" stroke-width="1.0"/>
<text x="175.05" y="433.40" font-size="8.3" text-anchor="middle" font-weight="normal" fill="#141414" stroke="#141414" stroke-width="0.22">50</text>
<line x1="198.40" y1="421.20" x2="198.40" y2="424.80" stroke="#141414" stroke-width="1.0"/>
<text x="198.40" y="433.40" font-size="8.3" text-anchor="middle" font-weight="normal" fill="#141414" stroke="#141414" stroke-width="0.22">60</text>
<text x="32.80" y="373.00" font-size="8.6" text-anchor="middle" font-weight="normal" fill="#141414" transform="rotate(-90 32.80 373.00)" stroke="#141414" stroke-width="0.22">Thrombin [nM]</text>
<text x="128.50" y="446.30" font-size="8.6" text-anchor="middle" font-weight="normal" fill="#141414" stroke="#141414" stroke-width="0.22">Time [min]</text>
<line x1="147.50" y1="329.00" x2="160.00" y2="329.00" stroke="#111" stroke-width="1.2"/>
<text x="163.00" y="331.60" font-size="7.3" text-anchor="start" font-weight="normal" fill="#141414" stroke="#141414" stroke-width="0.1">NP</text>
<line x1="147.50" y1="341.00" x2="160.00" y2="341.00" stroke="#b6a7cb" stroke-width="1.2"/>
<text x="163.00" y="343.60" font-size="7.3" text-anchor="start" font-weight="normal" fill="#141414" stroke="#141414" stroke-width="0.1">FXII def.</text>
<line x1="147.50" y1="352.20" x2="160.00" y2="352.20" stroke="#7b3f8c" stroke-width="1.2"/>
<text x="163.00" y="354.80" font-size="7.3" text-anchor="start" font-weight="normal" fill="#141414" stroke="#141414" stroke-width="0.1">NP+Inf-4</text>
<line x1="147.50" y1="363.50" x2="160.00" y2="363.50" stroke="#565698" stroke-width="1.2"/>
<text x="163.00" y="366.10" font-size="7.3" text-anchor="start" font-weight="normal" fill="#141414" stroke="#141414" stroke-width="0.1">FXI def.</text>
<path d="M417.27,421.50 L417.74,421.20 L418.21,420.93 L418.68,420.65 L419.15,420.32 L419.61,419.91 L420.08,419.34 L420.55,418.58 L421.02,417.68 L421.49,416.69 L421.95,415.63 L422.42,414.57 L422.89,413.54 L423.36,412.51 L423.83,411.40 L424.29,410.25 L424.76,409.06 L425.23,407.87 L425.70,406.68 L426.17,405.52 L426.63,404.41 L427.10,403.36 L427.57,402.40 L428.04,401.49 L428.51,400.57 L428.97,399.65 L429.44,398.75 L429.91,397.87 L430.38,397.03 L430.85,396.22 L431.31,395.46 L431.78,394.76 L432.25,394.12 L432.72,393.55 L433.19,393.06 L433.65,392.65 L434.12,392.26 L434.59,391.87 L435.06,390.60 L435.53,391.47 L435.99,391.10 L436.46,390.43 L436.93,389.87 L437.40,390.91 L437.87,390.36 L438.33,390.02 L438.80,389.72 L439.27,390.54 L439.74,390.42 L440.21,389.30 L440.67,391.03 L441.14,390.48 L441.61,391.39 L442.08,391.25 L442.55,391.21 L443.01,391.39 L443.48,392.05 L443.95,391.40 L444.42,392.34 L444.89,392.22 L445.35,393.74 L445.82,393.66 L446.29,393.60 L446.76,394.99 L447.23,394.90 L447.69,394.80 L448.16,397.18 L448.63,396.77 L449.10,398.34 L449.57,397.31 L450.03,397.58 L450.50,398.24 L450.97,398.17 L451.44,399.18 L451.91,399.58 L452.37,400.78 L452.84,400.37 L453.31,401.96 L453.78,402.27 L454.25,402.51 L454.71,402.72 L455.18,403.40 L455.65,403.38 L456.12,405.78 L456.59,405.76 L457.05,404.84 L457.52,405.91 L457.99,406.45 L458.46,406.91 L458.93,408.59 L459.39,407.65 L459.86,410.03 L460.33,409.47 L460.80,410.39 L461.27,409.77 L461.73,410.76 L462.20,412.09 L462.67,411.76 L463.14,411.91 L463.61,412.37 L464.07,413.31 L464.54,414.32 L465.01,414.34 L465.48,414.46 L465.95,415.07 L466.41,415.06 L466.88,416.02 L467.35,415.84 L467.82,415.75 L468.29,417.45 L468.75,417.95 L469.22,418.56 L469.69,418.43 L470.16,418.32 L470.63,418.65 L471.09,419.85 L471.56,420.50 L472.03,420.70 L472.50,420.23 L472.97,421.16 L473.43,420.78 L473.90,421.44 L474.37,421.50 L474.84,421.29 L475.31,420.77 L475.77,421.23 L476.24,421.49 L476.71,421.23 L477.18,421.25 L477.65,421.25 L478.11,421.46 L478.58,421.19 L479.05,421.01 L479.52,421.42 L479.99,421.05 L480.45,421.16 L480.92,421.43 L481.39,421.41 L481.86,420.87 L482.33,421.34 L482.79,420.48 L483.26,421.20 L483.73,420.84 L484.20,419.47 L484.67,420.80 L485.13,420.73 L485.60,421.28 L486.07,420.10 L486.54,421.28 L487.01,421.34 L487.47,420.36 L487.94,420.33 L488.41,421.01 L488.88,421.20 L489.35,421.19 L489.81,421.02 L490.28,420.61 L490.75,421.36 L491.22,421.35 L491.69,421.39 L492.15,419.47 L492.62,421.39 L493.09,420.68 L493.56,421.46 L494.03,421.28 L494.49,420.73 L494.96,420.97 L495.43,421.37 L495.90,420.23 L496.37,420.19 L496.83,420.68 L497.30,421.39 L497.77,420.78 L498.24,421.06 L498.71,421.42 L499.17,421.38 L499.64,421.28 L500.11,420.89 L500.58,419.53 L501.05,420.92 L501.51,421.08 L501.98,419.56 L502.45,421.45 L502.92,420.93 L503.39,420.21 L503.85,420.78 L504.32,421.03 L504.79,421.34 L505.26,420.89 L505.73,421.18 L506.19,421.35 L506.66,421.22 L507.13,419.30 L507.60,421.32 L508.07,420.00 L508.53,421.00 L509.00,421.06 L509.47,421.42 L509.94,420.47 L510.41,421.33 L510.87,421.46 L511.34,421.04 L511.81,421.33 L512.28,420.27 L512.75,421.24 L513.21,421.41 L513.68,419.30 L514.15,420.91" fill="none" stroke="#82ba86" stroke-width="1.3" stroke-linejoin="round" stroke-linecap="butt"/>
<path d="M391.53,421.50 L392.00,421.09 L392.47,420.70 L392.94,420.22 L393.41,419.50 L393.87,418.32 L394.34,416.72 L394.81,414.78 L395.28,412.58 L395.75,410.20 L396.21,407.73 L396.68,405.24 L397.15,402.69 L397.62,399.82 L398.09,396.70 L398.55,393.39 L399.02,389.96 L399.49,386.50 L399.96,383.07 L400.43,379.71 L400.89,376.23 L401.36,372.70 L401.83,369.20 L402.30,365.82 L402.77,362.61 L403.23,359.43 L403.70,356.39 L404.17,353.64 L404.64,351.21 L405.11,348.70 L405.57,346.96 L406.04,346.79 L406.51,347.42 L406.98,348.53 L407.45,349.94 L407.91,351.47 L408.38,353.60 L408.85,356.56 L409.32,359.84 L409.79,362.91 L410.25,365.37 L410.72,367.56 L411.19,369.61 L411.66,371.56 L412.13,373.45 L412.59,375.31 L413.06,377.07 L413.53,378.78 L414.00,380.51 L414.47,382.30 L414.93,384.17 L415.40,386.07 L415.87,388.04 L416.34,390.47 L416.81,391.05 L417.27,392.81 L417.74,395.59 L418.21,397.38 L418.68,398.42 L419.15,399.92 L419.61,402.02 L420.08,403.52 L420.55,404.51 L421.02,405.79 L421.49,406.90 L421.95,408.00 L422.42,410.28 L422.89,410.58 L423.36,411.06 L423.83,411.71 L424.29,411.44 L424.76,413.13 L425.23,411.43 L425.70,412.87 L426.17,413.37 L426.63,414.40 L427.10,415.20 L427.57,416.47 L428.04,416.01 L428.51,416.41 L428.97,417.61 L429.44,414.88 L429.91,417.42 L430.38,417.44 L430.85,416.82 L431.31,417.90 L431.78,418.04 L432.25,418.57 L432.72,418.78 L433.19,418.64 L433.65,419.86 L434.12,416.49 L434.59,418.47 L435.06,418.68 L435.53,419.75 L435.99,420.11 L436.46,419.03 L436.93,419.57 L437.40,419.78 L437.87,419.34 L438.33,420.46 L438.80,418.39 L439.27,419.11 L439.74,419.66 L440.21,418.98 L440.67,419.56 L441.14,419.46 L441.61,420.14 L442.08,419.45 L442.55,419.63 L443.01,419.63 L443.48,418.73 L443.95,419.96 L444.42,420.31 L444.89,418.96 L445.35,420.26 L445.82,420.25 L446.29,419.06 L446.76,418.99 L447.23,420.09 L447.69,421.14 L448.16,419.71 L448.63,420.75 L449.10,420.36 L449.57,416.02 L450.03,420.76 L450.50,419.97 L450.97,419.98 L451.44,421.50 L451.91,421.30 L452.37,421.50 L452.84,421.20 L453.31,420.73 L453.78,421.23 L454.25,419.86 L454.71,421.49 L455.18,420.99 L455.65,420.24 L456.12,421.49 L456.59,421.36 L457.05,420.44 L457.52,421.30 L457.99,421.34 L458.46,421.35 L458.93,421.34 L459.39,421.22 L459.86,421.05 L460.33,420.69 L460.80,419.68 L461.27,421.05 L461.73,420.24 L462.20,421.46 L462.67,421.17 L463.14,421.05 L463.61,420.99 L464.07,421.40 L464.54,421.46 L465.01,420.83 L465.48,421.33 L465.95,421.49 L466.41,421.44 L466.88,421.07 L467.35,420.67 L467.82,421.50 L468.29,420.58 L468.75,421.35 L469.22,420.77 L469.69,421.25 L470.16,420.98 L470.63,421.33 L471.09,421.10 L471.56,421.05 L472.03,420.02 L472.50,421.48 L472.97,420.75 L473.43,421.19 L473.90,421.05 L474.37,421.35 L474.84,420.68 L475.31,421.38 L475.77,420.35 L476.24,420.09 L476.71,421.47 L477.18,421.18 L477.65,421.43 L478.11,420.31 L478.58,421.42 L479.05,420.42 L479.52,421.48 L479.99,421.47 L480.45,421.40 L480.92,421.15 L481.39,420.99 L481.86,421.47 L482.33,421.10 L482.79,421.24 L483.26,420.68 L483.73,418.49 L484.20,421.26 L484.67,420.70 L485.13,420.83 L485.60,421.15 L486.07,421.37 L486.54,421.11 L487.01,421.47 L487.47,421.27 L487.94,421.42 L488.41,420.53 L488.88,420.27 L489.35,421.28 L489.81,421.02 L490.28,421.49 L490.75,418.77 L491.22,420.28 L491.69,421.49 L492.15,421.01 L492.62,421.49 L493.09,420.11 L493.56,420.26 L494.03,420.96 L494.49,421.35 L494.96,421.35 L495.43,421.44 L495.90,419.55 L496.37,421.39 L496.83,421.39 L497.30,421.25 L497.77,421.41 L498.24,420.45 L498.71,421.15 L499.17,421.29 L499.64,421.28 L500.11,414.57 L500.58,421.27 L501.05,420.04 L501.51,420.82 L501.98,421.36 L502.45,420.86 L502.92,419.98 L503.39,421.42 L503.85,421.29 L504.32,421.44 L504.79,419.94 L505.26,421.22 L505.73,421.20 L506.19,421.32 L506.66,421.26 L507.13,421.28 L507.60,421.00 L508.07,421.35 L508.53,418.53 L509.00,421.50 L509.47,421.34 L509.94,421.33 L510.41,421.23 L510.87,421.24 L511.34,421.00 L511.81,418.23 L512.28,420.57 L512.75,421.46 L513.21,420.93 L513.68,421.40 L514.15,421.06" fill="none" stroke="#111" stroke-width="1.4" stroke-linejoin="round" stroke-linecap="butt"/>
<line x1="373.75" y1="417.52" x2="514.20" y2="417.52" stroke="#4f86a6" stroke-width="1.1"/>
<line x1="373.45" y1="325.50" x2="373.45" y2="422.50" stroke="#141414" stroke-width="1.5"/>
<line x1="372.75" y1="421.80" x2="514.20" y2="421.80" stroke="#141414" stroke-width="1.6"/>
<line x1="370.15" y1="421.50" x2="373.75" y2="421.50" stroke="#141414" stroke-width="1.0"/>
<text x="370.25" y="424.55" font-size="8.3" text-anchor="end" font-weight="normal" fill="#141414" stroke="#141414" stroke-width="0.22">0</text>
<line x1="370.15" y1="389.67" x2="373.75" y2="389.67" stroke="#141414" stroke-width="1.0"/>
<text x="370.25" y="392.72" font-size="8.3" text-anchor="end" font-weight="normal" fill="#141414" stroke="#141414" stroke-width="0.22">100</text>
<line x1="370.15" y1="357.84" x2="373.75" y2="357.84" stroke="#141414" stroke-width="1.0"/>
<text x="370.25" y="360.89" font-size="8.3" text-anchor="end" font-weight="normal" fill="#141414" stroke="#141414" stroke-width="0.22">200</text>
<line x1="370.15" y1="326.01" x2="373.75" y2="326.01" stroke="#141414" stroke-width="1.0"/>
<text x="370.25" y="329.06" font-size="8.3" text-anchor="end" font-weight="normal" fill="#141414" stroke="#141414" stroke-width="0.22">300</text>
<line x1="373.75" y1="421.50" x2="373.75" y2="425.10" stroke="#141414" stroke-width="1.0"/>
<text x="373.75" y="433.70" font-size="8.3" text-anchor="middle" font-weight="normal" fill="#141414" stroke="#141414" stroke-width="0.22">0</text>
<line x1="397.15" y1="421.50" x2="397.15" y2="425.10" stroke="#141414" stroke-width="1.0"/>
<text x="397.15" y="433.70" font-size="8.3" text-anchor="middle" font-weight="normal" fill="#141414" stroke="#141414" stroke-width="0.22">10</text>
<line x1="420.55" y1="421.50" x2="420.55" y2="425.10" stroke="#141414" stroke-width="1.0"/>
<text x="420.55" y="433.70" font-size="8.3" text-anchor="middle" font-weight="normal" fill="#141414" stroke="#141414" stroke-width="0.22">20</text>
<line x1="443.95" y1="421.50" x2="443.95" y2="425.10" stroke="#141414" stroke-width="1.0"/>
<text x="443.95" y="433.70" font-size="8.3" text-anchor="middle" font-weight="normal" fill="#141414" stroke="#141414" stroke-width="0.22">30</text>
<line x1="467.35" y1="421.50" x2="467.35" y2="425.10" stroke="#141414" stroke-width="1.0"/>
<text x="467.35" y="433.70" font-size="8.3" text-anchor="middle" font-weight="normal" fill="#141414" stroke="#141414" stroke-width="0.22">40</text>
<line x1="490.75" y1="421.50" x2="490.75" y2="425.10" stroke="#141414" stroke-width="1.0"/>
<text x="490.75" y="433.70" font-size="8.3" text-anchor="middle" font-weight="normal" fill="#141414" stroke="#141414" stroke-width="0.22">50</text>
<line x1="514.15" y1="421.50" x2="514.15" y2="425.10" stroke="#141414" stroke-width="1.0"/>
<text x="514.15" y="433.70" font-size="8.3" text-anchor="middle" font-weight="normal" fill="#141414" stroke="#141414" stroke-width="0.22">60</text>
<text x="348.40" y="373.00" font-size="8.6" text-anchor="middle" font-weight="normal" fill="#141414" transform="rotate(-90 348.40 373.00)" stroke="#141414" stroke-width="0.22">Thrombin [nM]</text>
<text x="444.20" y="446.30" font-size="8.6" text-anchor="middle" font-weight="normal" fill="#141414" stroke="#141414" stroke-width="0.22">Time [min]</text>
<line x1="445.70" y1="328.50" x2="458.60" y2="328.50" stroke="#111" stroke-width="1.3"/>
<text x="460.50" y="331.10" font-size="7.6" text-anchor="start" font-weight="normal" fill="#141414" stroke="#141414" stroke-width="0.1">NP</text>
<line x1="445.70" y1="341.00" x2="458.60" y2="341.00" stroke="#82ba86" stroke-width="1.3"/>
<text x="460.50" y="343.60" font-size="7.6" text-anchor="start" font-weight="normal" fill="#141414" stroke="#141414" stroke-width="0.1">NP+ASIS</text>
<line x1="445.70" y1="353.80" x2="458.60" y2="353.80" stroke="#4f86a6" stroke-width="1.3"/>
<text x="460.50" y="356.40" font-size="7.6" text-anchor="start" font-weight="normal" fill="#141414" stroke="#141414" stroke-width="0.1">NP+ASIS+Inf-4</text>
<rect x="62.00" y="548.73" width="16.30" height="27.82" fill="#1c1c1c"/>
<line x1="70.15" y1="548.73" x2="70.15" y2="546.41" stroke="#141414" stroke-width="0.9"/>
<line x1="65.95" y1="546.41" x2="74.35" y2="546.41" stroke="#141414" stroke-width="1.0"/>
<line x1="70.15" y1="576.25" x2="70.15" y2="579.60" stroke="#141414" stroke-width="1.0"/>
<text x="71.95" y="587.00" font-size="8.6" text-anchor="end" font-weight="normal" fill="#141414" transform="rotate(-45 71.95 587.00)" stroke="#141414" stroke-width="0.22">NP</text>
<rect x="85.10" y="517.04" width="16.30" height="59.51" fill="#1c1c1c"/>
<line x1="93.25" y1="517.04" x2="93.25" y2="513.17" stroke="#141414" stroke-width="0.9"/>
<line x1="89.05" y1="513.17" x2="97.45" y2="513.17" stroke="#141414" stroke-width="1.0"/>
<text x="93.25" y="511.57" font-size="9.0" text-anchor="middle" font-weight="normal" fill="#141414" stroke="#141414" stroke-width="0.22">***</text>
<line x1="93.25" y1="576.25" x2="93.25" y2="579.60" stroke="#141414" stroke-width="1.0"/>
<text x="95.05" y="587.00" font-size="8.6" text-anchor="end" font-weight="normal" fill="#141414" transform="rotate(-45 95.05 587.00)" stroke="#141414" stroke-width="0.22">NP+Inf-4</text>
<rect x="108.20" y="530.02" width="16.30" height="46.53" fill="#1c1c1c"/>
<line x1="116.35" y1="530.02" x2="116.35" y2="526.31" stroke="#141414" stroke-width="0.9"/>
<line x1="112.15" y1="526.31" x2="120.55" y2="526.31" stroke="#141414" stroke-width="1.0"/>
<text x="116.35" y="524.71" font-size="9.0" text-anchor="middle" font-weight="normal" fill="#141414" stroke="#141414" stroke-width="0.22">**</text>
<line x1="116.35" y1="576.25" x2="116.35" y2="579.60" stroke="#141414" stroke-width="1.0"/>
<text x="118.15" y="587.00" font-size="8.6" text-anchor="end" font-weight="normal" fill="#141414" transform="rotate(-45 118.15 587.00)" stroke="#141414" stroke-width="0.22">FXII def.</text>
<rect x="131.30" y="503.12" width="16.30" height="73.43" fill="#1c1c1c"/>
<line x1="139.45" y1="503.12" x2="139.45" y2="501.11" stroke="#141414" stroke-width="0.9"/>
<line x1="135.25" y1="501.11" x2="143.65" y2="501.11" stroke="#141414" stroke-width="1.0"/>
<text x="139.45" y="499.51" font-size="9.0" text-anchor="middle" font-weight="normal" fill="#141414" stroke="#141414" stroke-width="0.22">***</text>
<line x1="139.45" y1="576.25" x2="139.45" y2="579.60" stroke="#141414" stroke-width="1.0"/>
<text x="141.25" y="587.00" font-size="8.6" text-anchor="end" font-weight="normal" fill="#141414" transform="rotate(-45 141.25 587.00)" stroke="#141414" stroke-width="0.22">FXI def.</text>
<rect x="154.40" y="533.74" width="16.30" height="42.81" fill="#1c1c1c"/>
<line x1="162.55" y1="533.74" x2="162.55" y2="530.26" stroke="#141414" stroke-width="0.9"/>
<line x1="158.35" y1="530.26" x2="166.75" y2="530.26" stroke="#141414" stroke-width="1.0"/>
<text x="162.55" y="528.66" font-size="9.0" text-anchor="middle" font-weight="normal" fill="#141414" stroke="#141414" stroke-width="0.22">**</text>
<line x1="162.55" y1="576.25" x2="162.55" y2="579.60" stroke="#141414" stroke-width="1.0"/>
<text x="164.35" y="587.00" font-size="8.6" text-anchor="end" font-weight="normal" fill="#141414" transform="rotate(-45 164.35 587.00)" stroke="#141414" stroke-width="0.22">NP+ASIS</text>
<rect x="177.50" y="483.00" width="16.30" height="93.55" fill="#1c1c1c"/>
<path d="M177.00,498.60 L194.30,488.90" stroke="#fff" stroke-width="2.5" fill="none"/>
<line x1="185.65" y1="576.25" x2="185.65" y2="579.60" stroke="#141414" stroke-width="1.0"/>
<text x="187.45" y="587.00" font-size="8.6" text-anchor="end" font-weight="normal" fill="#141414" transform="rotate(-45 187.45 587.00)" stroke="#141414" stroke-width="0.22">NP+ASIS+Inf-4</text>
<line x1="58.40" y1="482.90" x2="58.40" y2="490.80" stroke="#141414" stroke-width="1.4"/>
<line x1="58.40" y1="496.80" x2="58.40" y2="576.85" stroke="#141414" stroke-width="1.4"/>
<line x1="52.00" y1="496.10" x2="65.00" y2="488.20" stroke="#141414" stroke-width="0.9"/>
<line x1="52.00" y1="500.10" x2="65.00" y2="492.20" stroke="#141414" stroke-width="0.9"/>
<line x1="57.80" y1="576.55" x2="197.20" y2="576.55" stroke="#141414" stroke-width="1.7"/>
<line x1="54.60" y1="576.25" x2="58.40" y2="576.25" stroke="#141414" stroke-width="1.0"/>
<text x="54.20" y="579.25" font-size="8.4" text-anchor="end" font-weight="normal" fill="#141414" stroke="#141414" stroke-width="0.22">0</text>
<line x1="54.60" y1="553.06" x2="58.40" y2="553.06" stroke="#141414" stroke-width="1.0"/>
<text x="54.20" y="556.06" font-size="8.4" text-anchor="end" font-weight="normal" fill="#141414" stroke="#141414" stroke-width="0.22">300</text>
<line x1="54.60" y1="529.87" x2="58.40" y2="529.87" stroke="#141414" stroke-width="1.0"/>
<text x="54.20" y="532.87" font-size="8.4" text-anchor="end" font-weight="normal" fill="#141414" stroke="#141414" stroke-width="0.22">600</text>
<line x1="54.60" y1="506.68" x2="58.40" y2="506.68" stroke="#141414" stroke-width="1.0"/>
<text x="54.20" y="509.68" font-size="8.4" text-anchor="end" font-weight="normal" fill="#141414" stroke="#141414" stroke-width="0.22">900</text>
<line x1="54.60" y1="483.30" x2="58.40" y2="483.30" stroke="#141414" stroke-width="1.0"/>
<text x="54.20" y="486.00" font-size="8.5" text-anchor="end" font-weight="normal" fill="#141414" stroke="#141414" stroke-width="0.22">&gt;1500</text>
<text x="32.00" y="529.20" font-size="8.5" text-anchor="middle" font-weight="normal" fill="#141414" transform="rotate(-90 32.00 529.20)" stroke="#141414" stroke-width="0.22">Clotting time [sec]</text>
<path d="M372.90,569.20 L381.92,568.80 L390.94,568.50 L399.96,568.30 L408.98,568.10 L418.00,568.00 L427.02,567.90 L436.04,567.90 L445.06,567.80 L454.08,567.80 L463.10,567.70 L472.12,567.60 L481.14,567.50 L490.16,567.50 L499.18,567.40 L508.20,567.30" fill="none" stroke="#222" stroke-width="0.8" stroke-linejoin="round" stroke-linecap="butt"/>
<rect x="371.35" y="567.65" width="3.1" height="3.1" fill="#fff" stroke="#222" stroke-width="0.9"/>
<rect x="380.37" y="567.25" width="3.1" height="3.1" fill="#fff" stroke="#222" stroke-width="0.9"/>
<rect x="389.39" y="566.95" width="3.1" height="3.1" fill="#fff" stroke="#222" stroke-width="0.9"/>
<rect x="398.41" y="566.75" width="3.1" height="3.1" fill="#fff" stroke="#222" stroke-width="0.9"/>
<rect x="407.43" y="566.55" width="3.1" height="3.1" fill="#fff" stroke="#222" stroke-width="0.9"/>
<rect x="416.45" y="566.45" width="3.1" height="3.1" fill="#fff" stroke="#222" stroke-width="0.9"/>
<rect x="425.47" y="566.35" width="3.1" height="3.1" fill="#fff" stroke="#222" stroke-width="0.9"/>
<rect x="434.49" y="566.35" width="3.1" height="3.1" fill="#fff" stroke="#222" stroke-width="0.9"/>
<rect x="443.51" y="566.25" width="3.1" height="3.1" fill="#fff" stroke="#222" stroke-width="0.9"/>
<rect x="452.53" y="566.25" width="3.1" height="3.1" fill="#fff" stroke="#222" stroke-width="0.9"/>
<rect x="461.55" y="566.15" width="3.1" height="3.1" fill="#fff" stroke="#222" stroke-width="0.9"/>
<rect x="470.57" y="566.05" width="3.1" height="3.1" fill="#fff" stroke="#222" stroke-width="0.9"/>
<rect x="479.59" y="565.95" width="3.1" height="3.1" fill="#fff" stroke="#222" stroke-width="0.9"/>
<rect x="488.61" y="565.95" width="3.1" height="3.1" fill="#fff" stroke="#222" stroke-width="0.9"/>
<rect x="497.63" y="565.85" width="3.1" height="3.1" fill="#fff" stroke="#222" stroke-width="0.9"/>
<rect x="506.65" y="565.75" width="3.1" height="3.1" fill="#fff" stroke="#222" stroke-width="0.9"/>
<path d="M372.90,569.60 L381.92,567.70 L390.94,566.30 L399.96,564.60 L408.98,563.30 L418.00,562.20 L427.02,561.60 L436.04,561.00 L445.06,560.30 L454.08,559.90 L463.10,559.30 L472.12,558.90 L481.14,558.40 L490.16,558.00 L499.18,557.60 L508.20,557.20" fill="none" stroke="#86b85a" stroke-width="0.8" stroke-linejoin="round" stroke-linecap="butt"/>
<path d="M372.90,567.60 L374.80,570.90 L371.00,570.90 Z" fill="#fff" stroke="#86b85a" stroke-width="0.8"/>
<path d="M381.92,565.70 L383.82,569.00 L380.02,569.00 Z" fill="#fff" stroke="#86b85a" stroke-width="0.8"/>
<path d="M390.94,564.30 L392.84,567.60 L389.04,567.60 Z" fill="#fff" stroke="#86b85a" stroke-width="0.8"/>
<path d="M399.96,562.60 L401.86,565.90 L398.06,565.90 Z" fill="#fff" stroke="#86b85a" stroke-width="0.8"/>
<path d="M408.98,561.30 L410.88,564.60 L407.08,564.60 Z" fill="#fff" stroke="#86b85a" stroke-width="0.8"/>
<path d="M418.00,560.20 L419.90,563.50 L416.10,563.50 Z" fill="#fff" stroke="#86b85a" stroke-width="0.8"/>
<path d="M427.02,559.60 L428.92,562.90 L425.12,562.90 Z" fill="#fff" stroke="#86b85a" stroke-width="0.8"/>
<path d="M436.04,559.00 L437.94,562.30 L434.14,562.30 Z" fill="#fff" stroke="#86b85a" stroke-width="0.8"/>
<path d="M445.06,558.30 L446.96,561.60 L443.16,561.60 Z" fill="#fff" stroke="#86b85a" stroke-width="0.8"/>
<path d="M454.08,557.90 L455.98,561.20 L452.18,561.20 Z" fill="#fff" stroke="#86b85a" stroke-width="0.8"/>
<path d="M463.10,557.30 L465.00,560.60 L461.20,560.60 Z" fill="#fff" stroke="#86b85a" stroke-width="0.8"/>
<path d="M472.12,556.90 L474.02,560.20 L470.22,560.20 Z" fill="#fff" stroke="#86b85a" stroke-width="0.8"/>
<path d="M481.14,556.40 L483.04,559.70 L479.24,559.70 Z" fill="#fff" stroke="#86b85a" stroke-width="0.8"/>
<path d="M490.16,556.00 L492.06,559.30 L488.26,559.30 Z" fill="#fff" stroke="#86b85a" stroke-width="0.8"/>
<path d="M499.18,555.60 L501.08,558.90 L497.28,558.90 Z" fill="#fff" stroke="#86b85a" stroke-width="0.8"/>
<path d="M508.20,555.20 L510.10,558.50 L506.30,558.50 Z" fill="#fff" stroke="#86b85a" stroke-width="0.8"/>
<path d="M372.90,567.30 L381.92,564.60 L390.94,561.40 L399.96,557.80 L408.98,554.20 L418.00,550.60 L427.02,547.40 L436.04,544.60 L445.06,541.90 L454.08,539.80 L463.10,537.70 L472.12,536.00 L481.14,534.50 L490.16,533.30 L499.18,532.00 L508.20,530.90" fill="none" stroke="#7aa6d6" stroke-width="0.8" stroke-linejoin="round" stroke-linecap="butt"/>
<path d="M372.90,569.30 L374.80,566.00 L371.00,566.00 Z" fill="#fff" stroke="#7aa6d6" stroke-width="0.8"/>
<path d="M381.92,566.60 L383.82,563.30 L380.02,563.30 Z" fill="#fff" stroke="#7aa6d6" stroke-width="0.8"/>
<path d="M390.94,563.40 L392.84,560.10 L389.04,560.10 Z" fill="#fff" stroke="#7aa6d6" stroke-width="0.8"/>
<path d="M399.96,559.80 L401.86,556.50 L398.06,556.50 Z" fill="#fff" stroke="#7aa6d6" stroke-width="0.8"/>
<path d="M408.98,556.20 L410.88,552.90 L407.08,552.90 Z" fill="#fff" stroke="#7aa6d6" stroke-width="0.8"/>
<path d="M418.00,552.60 L419.90,549.30 L416.10,549.30 Z" fill="#fff" stroke="#7aa6d6" stroke-width="0.8"/>
<path d="M427.02,549.40 L428.92,546.10 L425.12,546.10 Z" fill="#fff" stroke="#7aa6d6" stroke-width="0.8"/>
<path d="M436.04,546.60 L437.94,543.30 L434.14,543.30 Z" fill="#fff" stroke="#7aa6d6" stroke-width="0.8"/>
<path d="M445.06,543.90 L446.96,540.60 L443.16,540.60 Z" fill="#fff" stroke="#7aa6d6" stroke-width="0.8"/>
<path d="M454.08,541.80 L455.98,538.50 L452.18,538.50 Z" fill="#fff" stroke="#7aa6d6" stroke-width="0.8"/>
<path d="M463.10,539.70 L465.00,536.40 L461.20,536.40 Z" fill="#fff" stroke="#7aa6d6" stroke-width="0.8"/>
<path d="M472.12,538.00 L474.02,534.70 L470.22,534.70 Z" fill="#fff" stroke="#7aa6d6" stroke-width="0.8"/>
<path d="M481.14,536.50 L483.04,533.20 L479.24,533.20 Z" fill="#fff" stroke="#7aa6d6" stroke-width="0.8"/>
<path d="M490.16,535.30 L492.06,532.00 L488.26,532.00 Z" fill="#fff" stroke="#7aa6d6" stroke-width="0.8"/>
<path d="M499.18,534.00 L501.08,530.70 L497.28,530.70 Z" fill="#fff" stroke="#7aa6d6" stroke-width="0.8"/>
<path d="M508.20,532.90 L510.10,529.60 L506.30,529.60 Z" fill="#fff" stroke="#7aa6d6" stroke-width="0.8"/>
<path d="M372.90,566.30 L381.92,562.00 L390.94,554.60 L399.96,547.20 L408.98,540.40 L418.00,534.00 L427.02,528.70 L436.04,523.90 L445.06,519.70 L454.08,516.10 L463.10,512.90 L472.12,510.20 L481.14,508.10 L490.16,506.20 L499.18,504.50 L508.20,502.80" fill="none" stroke="#8d3c8f" stroke-width="0.8" stroke-linejoin="round" stroke-linecap="butt"/>
<circle cx="372.90" cy="566.30" r="1.45" fill="#fff" stroke="#8d3c8f" stroke-width="0.8"/>
<circle cx="381.92" cy="562.00" r="1.45" fill="#fff" stroke="#8d3c8f" stroke-width="0.8"/>
<circle cx="390.94" cy="554.60" r="1.45" fill="#fff" stroke="#8d3c8f" stroke-width="0.8"/>
<circle cx="399.96" cy="547.20" r="1.45" fill="#fff" stroke="#8d3c8f" stroke-width="0.8"/>
<circle cx="408.98" cy="540.40" r="1.45" fill="#fff" stroke="#8d3c8f" stroke-width="0.8"/>
<circle cx="418.00" cy="534.00" r="1.45" fill="#fff" stroke="#8d3c8f" stroke-width="0.8"/>
<circle cx="427.02" cy="528.70" r="1.45" fill="#fff" stroke="#8d3c8f" stroke-width="0.8"/>
<circle cx="436.04" cy="523.90" r="1.45" fill="#fff" stroke="#8d3c8f" stroke-width="0.8"/>
<circle cx="445.06" cy="519.70" r="1.45" fill="#fff" stroke="#8d3c8f" stroke-width="0.8"/>
<circle cx="454.08" cy="516.10" r="1.45" fill="#fff" stroke="#8d3c8f" stroke-width="0.8"/>
<circle cx="463.10" cy="512.90" r="1.45" fill="#fff" stroke="#8d3c8f" stroke-width="0.8"/>
<circle cx="472.12" cy="510.20" r="1.45" fill="#fff" stroke="#8d3c8f" stroke-width="0.8"/>
<circle cx="481.14" cy="508.10" r="1.45" fill="#fff" stroke="#8d3c8f" stroke-width="0.8"/>
<circle cx="490.16" cy="506.20" r="1.45" fill="#fff" stroke="#8d3c8f" stroke-width="0.8"/>
<circle cx="499.18" cy="504.50" r="1.45" fill="#fff" stroke="#8d3c8f" stroke-width="0.8"/>
<circle cx="508.20" cy="502.80" r="1.45" fill="#fff" stroke="#8d3c8f" stroke-width="0.8"/>
<line x1="372.50" y1="483.90" x2="372.50" y2="577.00" stroke="#141414" stroke-width="1.4"/>
<line x1="372.30" y1="576.40" x2="512.20" y2="576.40" stroke="#141414" stroke-width="1.4"/>
<line x1="368.50" y1="576.40" x2="372.50" y2="576.40" stroke="#141414" stroke-width="1.0"/>
<text x="368.10" y="579.40" font-size="8.3" text-anchor="end" font-weight="normal" fill="#141414" stroke="#141414" stroke-width="0.22">0.0</text>
<line x1="368.50" y1="545.75" x2="372.50" y2="545.75" stroke="#141414" stroke-width="1.0"/>
<text x="368.10" y="548.75" font-size="8.3" text-anchor="end" font-weight="normal" fill="#141414" stroke="#141414" stroke-width="0.22">0.5</text>
<line x1="368.50" y1="515.10" x2="372.50" y2="515.10" stroke="#141414" stroke-width="1.0"/>
<text x="368.10" y="518.10" font-size="8.3" text-anchor="end" font-weight="normal" fill="#141414" stroke="#141414" stroke-width="0.22">1.0</text>
<line x1="368.50" y1="484.45" x2="372.50" y2="484.45" stroke="#141414" stroke-width="1.0"/>
<text x="368.10" y="487.45" font-size="8.3" text-anchor="end" font-weight="normal" fill="#141414" stroke="#141414" stroke-width="0.22">1.5</text>
<line x1="372.90" y1="576.40" x2="372.90" y2="580.20" stroke="#141414" stroke-width="1.0"/>
<text x="372.90" y="588.70" font-size="8.3" text-anchor="middle" font-weight="normal" fill="#141414" stroke="#141414" stroke-width="0.22">0</text>
<line x1="418.00" y1="576.40" x2="418.00" y2="580.20" stroke="#141414" stroke-width="1.0"/>
<text x="418.00" y="588.70" font-size="8.3" text-anchor="middle" font-weight="normal" fill="#141414" stroke="#141414" stroke-width="0.22">50</text>
<line x1="463.10" y1="576.40" x2="463.10" y2="580.20" stroke="#141414" stroke-width="1.0"/>
<text x="463.10" y="588.70" font-size="8.3" text-anchor="middle" font-weight="normal" fill="#141414" stroke="#141414" stroke-width="0.22">100</text>
<line x1="508.20" y1="576.40" x2="508.20" y2="580.20" stroke="#141414" stroke-width="1.0"/>
<text x="508.20" y="588.70" font-size="8.3" text-anchor="middle" font-weight="normal" fill="#141414" stroke="#141414" stroke-width="0.22">150</text>
<text x="350.00" y="530.00" font-size="8.7" text-anchor="middle" font-weight="normal" fill="#141414" transform="rotate(-90 350.00 530.00)" stroke="#141414" stroke-width="0.22">Absorbance at 405 nm</text>
<text x="442.60" y="600.50" font-size="8.6" text-anchor="middle" font-weight="normal" fill="#141414" stroke="#141414" stroke-width="0.22">Time [min]</text>
<line x1="382.90" y1="486.50" x2="396.00" y2="486.50" stroke="#222" stroke-width="0.8"/>
<rect x="388.35" y="484.95" width="3.1" height="3.1" fill="#fff" stroke="#222" stroke-width="0.9"/>
<text x="398.10" y="489.10" font-size="7.5" text-anchor="start" font-weight="normal" fill="#141414" stroke="#141414" stroke-width="0.1">buffer</text>
<line x1="382.90" y1="495.80" x2="396.00" y2="495.80" stroke="#86b85a" stroke-width="0.8"/>
<path d="M389.90,493.80 L391.80,497.10 L388.00,497.10 Z" fill="#fff" stroke="#86b85a" stroke-width="0.8"/>
<text x="398.10" y="498.40" font-size="7.5" text-anchor="start" font-weight="normal" fill="#141414" stroke="#141414" stroke-width="0.1">50 µg/ml</text>
<line x1="382.90" y1="505.50" x2="396.00" y2="505.50" stroke="#7aa6d6" stroke-width="0.8"/>
<path d="M389.90,507.50 L391.80,504.20 L388.00,504.20 Z" fill="#fff" stroke="#7aa6d6" stroke-width="0.8"/>
<text x="398.10" y="508.10" font-size="7.5" text-anchor="start" font-weight="normal" fill="#141414" stroke="#141414" stroke-width="0.1">100 µg/ml</text>
<line x1="382.90" y1="515.00" x2="396.00" y2="515.00" stroke="#8d3c8f" stroke-width="0.8"/>
<circle cx="389.90" cy="515.00" r="1.45" fill="#fff" stroke="#8d3c8f" stroke-width="0.8"/>
<text x="398.10" y="517.60" font-size="7.5" text-anchor="start" font-weight="normal" fill="#141414" stroke="#141414" stroke-width="0.1">200 µg/ml</text>
<rect x="63.00" y="709.53" width="19.50" height="29.52" fill="#1c1c1c"/>
<line x1="72.75" y1="709.53" x2="72.75" y2="708.29" stroke="#141414" stroke-width="0.9"/>
<line x1="68.35" y1="708.29" x2="77.15" y2="708.29" stroke="#141414" stroke-width="0.9"/>
<line x1="72.75" y1="738.75" x2="72.75" y2="742.20" stroke="#141414" stroke-width="1.0"/>
<text x="74.15" y="749.80" font-size="8.6" text-anchor="end" font-weight="normal" fill="#141414" transform="rotate(-45 74.15 749.80)" stroke="#141414" stroke-width="0.22">NP+Buffer</text>
<rect x="91.13" y="659.96" width="19.50" height="79.09" fill="#1c1c1c"/>
<line x1="100.88" y1="659.96" x2="100.88" y2="657.48" stroke="#141414" stroke-width="0.9"/>
<line x1="96.48" y1="657.48" x2="105.28" y2="657.48" stroke="#141414" stroke-width="0.9"/>
<text x="100.88" y="655.28" font-size="8.5" text-anchor="middle" font-weight="normal" fill="#141414" stroke="#141414" stroke-width="0.22">***</text>
<line x1="100.88" y1="738.75" x2="100.88" y2="742.20" stroke="#141414" stroke-width="1.0"/>
<text x="102.28" y="749.80" font-size="8.6" text-anchor="end" font-weight="normal" fill="#141414" transform="rotate(-45 102.28 749.80)" stroke="#141414" stroke-width="0.22">NP+PC3</text>
<rect x="119.26" y="703.16" width="19.50" height="35.89" fill="#1c1c1c"/>
<line x1="129.01" y1="703.16" x2="129.01" y2="701.14" stroke="#141414" stroke-width="0.9"/>
<line x1="124.61" y1="701.14" x2="133.41" y2="701.14" stroke="#141414" stroke-width="0.9"/>
<text x="129.01" y="697.94" font-size="7.4" text-anchor="middle" font-weight="normal" fill="#141414" stroke="#141414" stroke-width="0.1">n.s.</text>
<line x1="129.01" y1="738.75" x2="129.01" y2="742.20" stroke="#141414" stroke-width="1.0"/>
<text x="130.41" y="749.80" font-size="8.6" text-anchor="end" font-weight="normal" fill="#141414" transform="rotate(-45 130.41 749.80)" stroke="#141414" stroke-width="0.22">FXII def.+PC3</text>
<rect x="147.39" y="698.81" width="19.50" height="40.24" fill="#1c1c1c"/>
<line x1="157.14" y1="698.81" x2="157.14" y2="697.57" stroke="#141414" stroke-width="0.9"/>
<line x1="152.74" y1="697.57" x2="161.54" y2="697.57" stroke="#141414" stroke-width="0.9"/>
<text x="157.14" y="695.37" font-size="8.5" text-anchor="middle" font-weight="normal" fill="#141414" stroke="#141414" stroke-width="0.22">*</text>
<line x1="157.14" y1="738.75" x2="157.14" y2="742.20" stroke="#141414" stroke-width="1.0"/>
<text x="158.54" y="749.80" font-size="8.6" text-anchor="end" font-weight="normal" fill="#141414" transform="rotate(-45 158.54 749.80)" stroke="#141414" stroke-width="0.22">PPK def.+PC3</text>
<rect x="175.52" y="700.52" width="19.50" height="38.53" fill="#1c1c1c"/>
<line x1="185.27" y1="700.52" x2="185.27" y2="698.04" stroke="#141414" stroke-width="0.9"/>
<line x1="180.87" y1="698.04" x2="189.67" y2="698.04" stroke="#141414" stroke-width="0.9"/>
<text x="185.27" y="695.84" font-size="8.5" text-anchor="middle" font-weight="normal" fill="#141414" stroke="#141414" stroke-width="0.22">*</text>
<line x1="185.27" y1="738.75" x2="185.27" y2="742.20" stroke="#141414" stroke-width="1.0"/>
<text x="186.67" y="749.80" font-size="8.6" text-anchor="end" font-weight="normal" fill="#141414" transform="rotate(-45 186.67 749.80)" stroke="#141414" stroke-width="0.22">HK def.+PC3</text>
<line x1="58.40" y1="645.00" x2="58.40" y2="739.35" stroke="#141414" stroke-width="1.4"/>
<line x1="57.80" y1="739.05" x2="199.60" y2="739.05" stroke="#141414" stroke-width="1.7"/>
<line x1="54.60" y1="738.75" x2="58.40" y2="738.75" stroke="#141414" stroke-width="1.0"/>
<text x="54.40" y="741.75" font-size="8.5" text-anchor="end" font-weight="normal" fill="#141414" stroke="#141414" stroke-width="0.22">0.0</text>
<line x1="54.60" y1="723.21" x2="58.40" y2="723.21" stroke="#141414" stroke-width="1.0"/>
<text x="54.40" y="726.21" font-size="8.5" text-anchor="end" font-weight="normal" fill="#141414" stroke="#141414" stroke-width="0.22">0.1</text>
<line x1="54.60" y1="707.67" x2="58.40" y2="707.67" stroke="#141414" stroke-width="1.0"/>
<text x="54.40" y="710.67" font-size="8.5" text-anchor="end" font-weight="normal" fill="#141414" stroke="#141414" stroke-width="0.22">0.2</text>
<line x1="54.60" y1="692.13" x2="58.40" y2="692.13" stroke="#141414" stroke-width="1.0"/>
<text x="54.40" y="695.13" font-size="8.5" text-anchor="end" font-weight="normal" fill="#141414" stroke="#141414" stroke-width="0.22">0.3</text>
<line x1="54.60" y1="676.59" x2="58.40" y2="676.59" stroke="#141414" stroke-width="1.0"/>
<text x="54.40" y="679.59" font-size="8.5" text-anchor="end" font-weight="normal" fill="#141414" stroke="#141414" stroke-width="0.22">0.4</text>
<line x1="54.60" y1="661.05" x2="58.40" y2="661.05" stroke="#141414" stroke-width="1.0"/>
<text x="54.40" y="664.05" font-size="8.5" text-anchor="end" font-weight="normal" fill="#141414" stroke="#141414" stroke-width="0.22">0.5</text>
<line x1="54.60" y1="645.51" x2="58.40" y2="645.51" stroke="#141414" stroke-width="1.0"/>
<text x="54.40" y="648.51" font-size="8.5" text-anchor="end" font-weight="normal" fill="#141414" stroke="#141414" stroke-width="0.22">0.6</text>
<text x="33.00" y="692.50" font-size="8.65" text-anchor="middle" font-weight="normal" fill="#141414" transform="rotate(-90 33.00 692.50)" stroke="#141414" stroke-width="0.22">Absorbance at 405 nm</text>
<rect x="377.00" y="707.75" width="6.70" height="31.45" fill="#1c1c1c"/>
<line x1="380.35" y1="707.75" x2="380.35" y2="706.50" stroke="#141414" stroke-width="0.8"/>
<line x1="378.15" y1="706.50" x2="382.55" y2="706.50" stroke="#141414" stroke-width="0.8"/>
<line x1="389.15" y1="707.75" x2="389.15" y2="706.50" stroke="#141414" stroke-width="0.8"/>
<line x1="386.95" y1="706.50" x2="391.35" y2="706.50" stroke="#141414" stroke-width="0.8"/>
<rect x="386.50" y="708.25" width="5.50" height="30.65" fill="#fff" stroke="#1c1c1c" stroke-width="1.0"/>
<path d="M380.35,703.00 L380.35,700.80 L389.15,700.80 L389.15,703.00" fill="none" stroke="#222" stroke-width="0.8" stroke-linejoin="round" stroke-linecap="butt"/>
<text x="384.75" y="697.80" font-size="6.6" text-anchor="middle" font-weight="normal" fill="#141414" stroke="#141414" stroke-width="0.1">n.s.</text>
<line x1="384.40" y1="738.90" x2="384.40" y2="742.30" stroke="#141414" stroke-width="1.0"/>
<text x="386.40" y="749.00" font-size="8.6" text-anchor="end" font-weight="normal" fill="#141414" transform="rotate(-45 386.40 749.00)" stroke="#141414" stroke-width="0.22">Buffer</text>
<rect x="400.20" y="653.55" width="6.70" height="85.65" fill="#1c1c1c"/>
<line x1="403.55" y1="653.55" x2="403.55" y2="650.75" stroke="#141414" stroke-width="0.8"/>
<line x1="401.35" y1="650.75" x2="405.75" y2="650.75" stroke="#141414" stroke-width="0.8"/>
<line x1="412.35" y1="699.34" x2="412.35" y2="696.22" stroke="#141414" stroke-width="0.8"/>
<line x1="410.15" y1="696.22" x2="414.55" y2="696.22" stroke="#141414" stroke-width="0.8"/>
<rect x="409.70" y="699.84" width="5.50" height="39.06" fill="#fff" stroke="#1c1c1c" stroke-width="1.0"/>
<path d="M403.55,647.20 L403.55,643.80 L412.35,643.80 L412.35,693.80" fill="none" stroke="#222" stroke-width="0.8" stroke-linejoin="round" stroke-linecap="butt"/>
<text x="407.95" y="643.20" font-size="7.5" text-anchor="middle" font-weight="normal" fill="#141414" stroke="#141414" stroke-width="0.1">***</text>
<line x1="407.60" y1="738.90" x2="407.60" y2="742.30" stroke="#141414" stroke-width="1.0"/>
<text x="409.60" y="749.00" font-size="8.6" text-anchor="end" font-weight="normal" fill="#141414" transform="rotate(-45 409.60 749.00)" stroke="#141414" stroke-width="0.22">PC3</text>
<rect x="423.30" y="659.16" width="6.70" height="80.04" fill="#1c1c1c"/>
<line x1="426.65" y1="659.16" x2="426.65" y2="656.35" stroke="#141414" stroke-width="0.8"/>
<line x1="424.45" y1="656.35" x2="428.85" y2="656.35" stroke="#141414" stroke-width="0.8"/>
<line x1="435.45" y1="702.45" x2="435.45" y2="698.09" stroke="#141414" stroke-width="0.8"/>
<line x1="433.25" y1="698.09" x2="437.65" y2="698.09" stroke="#141414" stroke-width="0.8"/>
<rect x="432.80" y="702.95" width="5.50" height="35.95" fill="#fff" stroke="#1c1c1c" stroke-width="1.0"/>
<path d="M426.65,652.30 L426.65,649.50 L435.45,649.50 L435.45,695.00" fill="none" stroke="#222" stroke-width="0.8" stroke-linejoin="round" stroke-linecap="butt"/>
<text x="431.05" y="648.90" font-size="7.5" text-anchor="middle" font-weight="normal" fill="#141414" stroke="#141414" stroke-width="0.1">***</text>
<line x1="430.70" y1="738.90" x2="430.70" y2="742.30" stroke="#141414" stroke-width="1.0"/>
<text x="432.70" y="749.00" font-size="8.6" text-anchor="end" font-weight="normal" fill="#141414" transform="rotate(-45 432.70 749.00)" stroke="#141414" stroke-width="0.22">Panc1</text>
<rect x="446.60" y="662.58" width="6.70" height="76.62" fill="#1c1c1c"/>
<line x1="449.95" y1="662.58" x2="449.95" y2="659.78" stroke="#141414" stroke-width="0.8"/>
<line x1="447.75" y1="659.78" x2="452.15" y2="659.78" stroke="#141414" stroke-width="0.8"/>
<line x1="458.75" y1="702.61" x2="458.75" y2="697.94" stroke="#141414" stroke-width="0.8"/>
<line x1="456.55" y1="697.94" x2="460.95" y2="697.94" stroke="#141414" stroke-width="0.8"/>
<rect x="456.10" y="703.11" width="5.50" height="35.79" fill="#fff" stroke="#1c1c1c" stroke-width="1.0"/>
<path d="M449.95,655.80 L449.95,653.00 L458.75,653.00 L458.75,695.00" fill="none" stroke="#222" stroke-width="0.8" stroke-linejoin="round" stroke-linecap="butt"/>
<text x="454.35" y="652.40" font-size="7.5" text-anchor="middle" font-weight="normal" fill="#141414" stroke="#141414" stroke-width="0.1">***</text>
<line x1="454.00" y1="738.90" x2="454.00" y2="742.30" stroke="#141414" stroke-width="1.0"/>
<text x="456.00" y="749.00" font-size="8.6" text-anchor="end" font-weight="normal" fill="#141414" transform="rotate(-45 456.00 749.00)" stroke="#141414" stroke-width="0.22">BxPC3</text>
<rect x="469.70" y="661.02" width="6.70" height="78.17" fill="#1c1c1c"/>
<line x1="473.05" y1="661.02" x2="473.05" y2="653.55" stroke="#141414" stroke-width="0.8"/>
<line x1="470.85" y1="653.55" x2="475.25" y2="653.55" stroke="#141414" stroke-width="0.8"/>
<line x1="481.85" y1="705.41" x2="481.85" y2="701.99" stroke="#141414" stroke-width="0.8"/>
<line x1="479.65" y1="701.99" x2="484.05" y2="701.99" stroke="#141414" stroke-width="0.8"/>
<rect x="479.20" y="705.91" width="5.50" height="32.99" fill="#fff" stroke="#1c1c1c" stroke-width="1.0"/>
<path d="M473.05,650.70 L473.05,647.70 L481.85,647.70 L481.85,698.50" fill="none" stroke="#222" stroke-width="0.8" stroke-linejoin="round" stroke-linecap="butt"/>
<text x="477.45" y="647.10" font-size="7.5" text-anchor="middle" font-weight="normal" fill="#141414" stroke="#141414" stroke-width="0.1">***</text>
<line x1="477.10" y1="738.90" x2="477.10" y2="742.30" stroke="#141414" stroke-width="1.0"/>
<text x="479.10" y="749.00" font-size="8.6" text-anchor="end" font-weight="normal" fill="#141414" transform="rotate(-45 479.10 749.00)" stroke="#141414" stroke-width="0.22">Capan2</text>
<rect x="493.10" y="675.98" width="6.70" height="63.22" fill="#1c1c1c"/>
<line x1="496.45" y1="675.98" x2="496.45" y2="675.04" stroke="#141414" stroke-width="0.8"/>
<line x1="494.25" y1="675.04" x2="498.65" y2="675.04" stroke="#141414" stroke-width="0.8"/>
<line x1="505.25" y1="709.31" x2="505.25" y2="707.13" stroke="#141414" stroke-width="0.8"/>
<line x1="503.05" y1="707.13" x2="507.45" y2="707.13" stroke="#141414" stroke-width="0.8"/>
<rect x="502.60" y="709.81" width="5.50" height="29.09" fill="#fff" stroke="#1c1c1c" stroke-width="1.0"/>
<path d="M496.45,670.80 L496.45,667.80 L505.25,667.80 L505.25,704.20" fill="none" stroke="#222" stroke-width="0.8" stroke-linejoin="round" stroke-linecap="butt"/>
<text x="500.85" y="667.20" font-size="7.5" text-anchor="middle" font-weight="normal" fill="#141414" stroke="#141414" stroke-width="0.1">***</text>
<line x1="500.50" y1="738.90" x2="500.50" y2="742.30" stroke="#141414" stroke-width="1.0"/>
<text x="502.50" y="749.00" font-size="8.6" text-anchor="end" font-weight="normal" fill="#141414" transform="rotate(-45 502.50 749.00)" stroke="#141414" stroke-width="0.22">HL-60</text>
<line x1="373.20" y1="644.90" x2="373.20" y2="739.50" stroke="#141414" stroke-width="1.4"/>
<line x1="372.60" y1="739.20" x2="512.40" y2="739.20" stroke="#141414" stroke-width="1.7"/>
<line x1="369.40" y1="738.90" x2="373.20" y2="738.90" stroke="#141414" stroke-width="1.0"/>
<text x="369.20" y="742.10" font-size="8.6" text-anchor="end" font-weight="normal" fill="#141414" stroke="#141414" stroke-width="0.22">0</text>
<line x1="369.40" y1="707.75" x2="373.20" y2="707.75" stroke="#141414" stroke-width="1.0"/>
<text x="369.20" y="710.95" font-size="8.6" text-anchor="end" font-weight="normal" fill="#141414" stroke="#141414" stroke-width="0.22">1</text>
<line x1="369.40" y1="676.60" x2="373.20" y2="676.60" stroke="#141414" stroke-width="1.0"/>
<text x="369.20" y="679.80" font-size="8.6" text-anchor="end" font-weight="normal" fill="#141414" stroke="#141414" stroke-width="0.22">2</text>
<line x1="369.40" y1="645.45" x2="373.20" y2="645.45" stroke="#141414" stroke-width="1.0"/>
<text x="369.20" y="648.65" font-size="8.6" text-anchor="end" font-weight="normal" fill="#141414" stroke="#141414" stroke-width="0.22">3</text>
<text x="349.70" y="691.50" font-size="8.6" text-anchor="middle" font-weight="normal" fill="#141414" transform="rotate(-90 349.70 691.50)" stroke="#141414" stroke-width="0.22">Relative absorbance</text>
<text x="360.50" y="691.50" font-size="8.6" text-anchor="middle" font-weight="normal" fill="#141414" transform="rotate(-90 360.50 691.50)" stroke="#141414" stroke-width="0.22">[x-fold of buffer]</text>
<rect x="468.90" y="617.70" width="14.60" height="6.10" fill="#1c1c1c"/>
<rect x="469.4" y="629.0" width="13.6" height="5.1" fill="#fff" stroke="#1c1c1c" stroke-width="1.0"/>
<text x="485.40" y="623.40" font-size="7.3" text-anchor="start" font-weight="normal" fill="#141414" stroke="#141414" stroke-width="0.1">NP</text>
<text x="485.40" y="634.20" font-size="7.3" text-anchor="start" font-weight="normal" fill="#141414" stroke="#141414" stroke-width="0.1">FXII def.</text>
</g>
</svg>
</body></html>
